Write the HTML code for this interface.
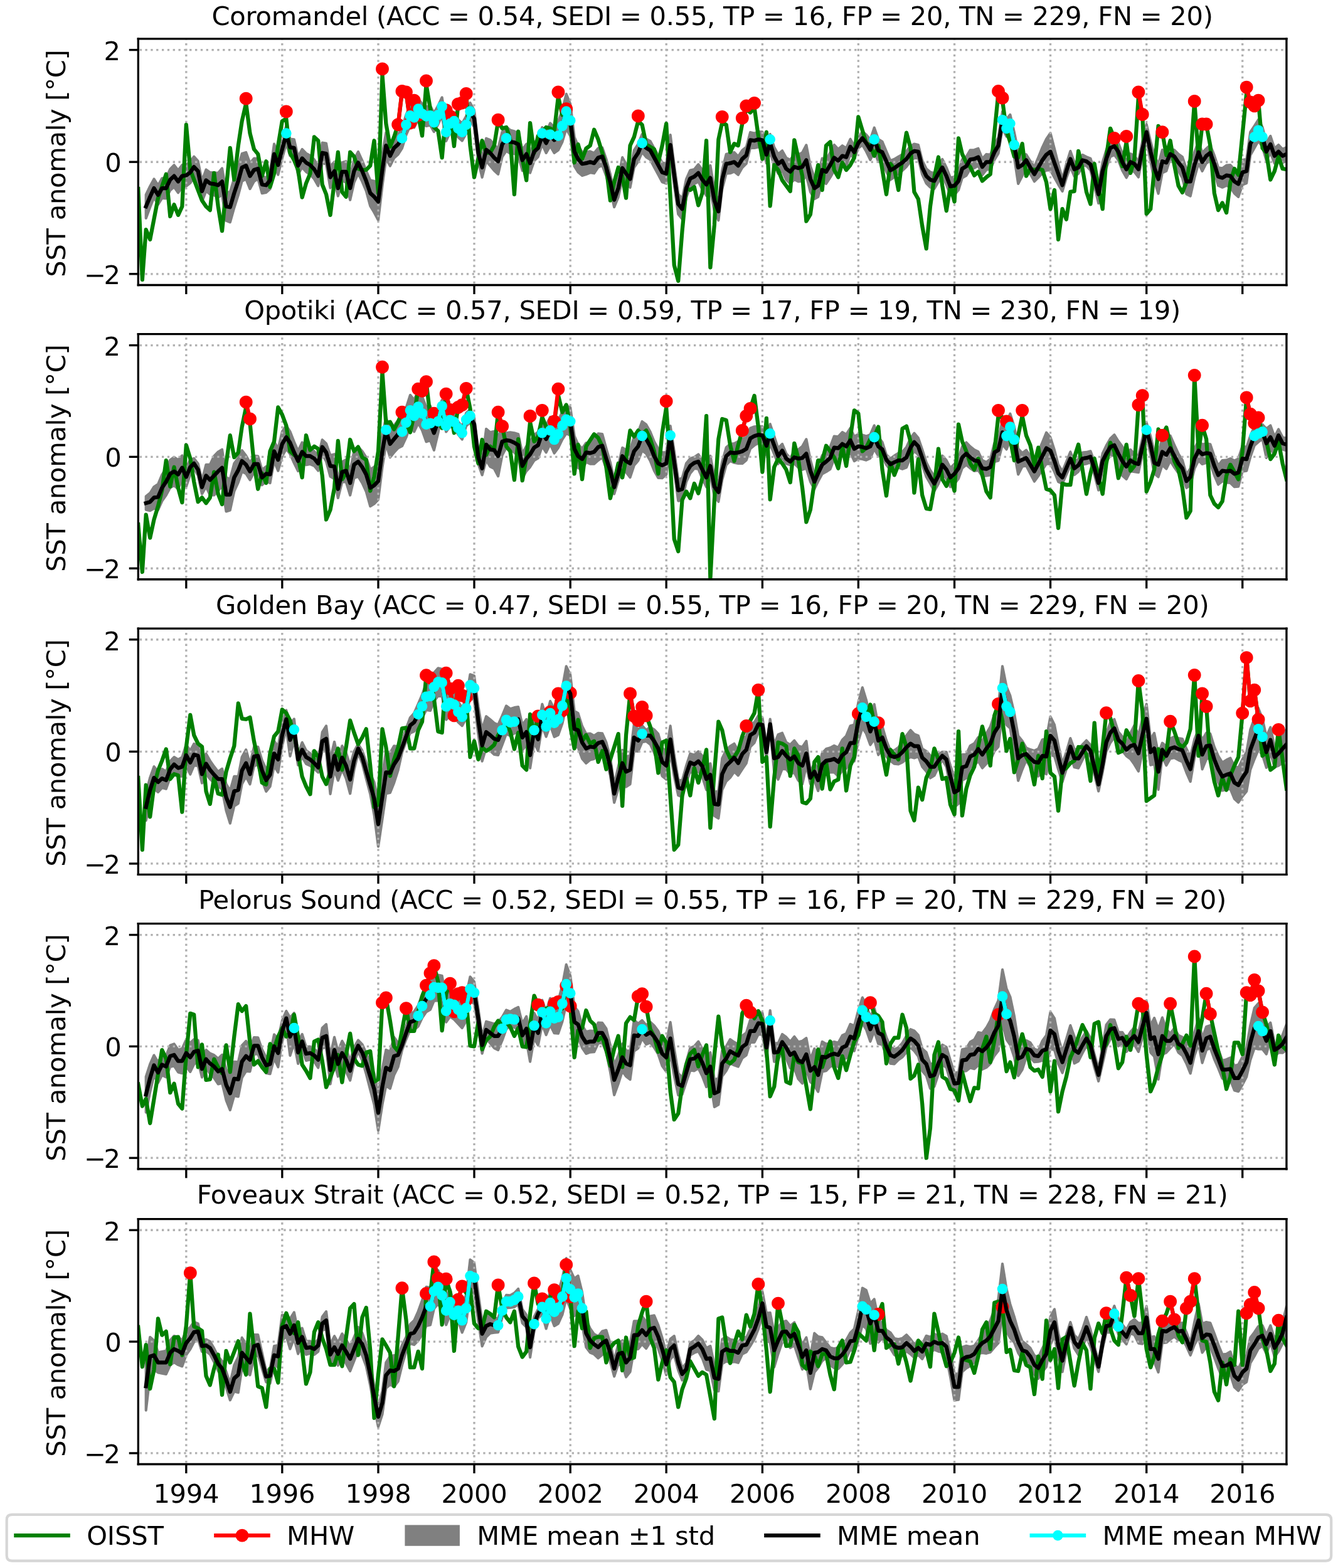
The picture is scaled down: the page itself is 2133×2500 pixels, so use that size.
<!DOCTYPE html>
<html><head><meta charset="utf-8"><title>SST anomaly</title>
<style>html,body{margin:0;padding:0;background:#fff;}svg{display:block;}</style></head>
<body>
<svg width="2133" height="2500" viewBox="0 0 511.92 600" version="1.1">
<defs>
<style type="text/css">*{stroke-linejoin: round; stroke-linecap: butt}</style>
</defs>
<g id="figure_1">
<g id="patch_1">
<path d="M 0 600
L 511.92 600
L 511.92 0
L 0 0
z
" style="fill: #ffffff"/>
</g>
<g id="axes_1">
<g id="patch_2">
<path d="M 52.88 109.07
L 492.22 109.07
L 492.22 14.86
L 52.88 14.86
z
" style="fill: #ffffff"/>
</g>
<g id="FillBetweenPolyCollection_1">
<defs>
<path id="m156c85ad35" d="M 55.85 -525.48
L 55.85 -516.48
L 57.41 -520.69
L 58.92 -524.44
L 60.48 -521.75
L 61.99 -524.19
L 63.55 -524.07
L 65.11 -527.21
L 66.61 -528.48
L 68.17 -526.26
L 69.68 -528.44
L 71.24 -528.76
L 72.8 -530.02
L 74.21 -532.2
L 75.77 -530.65
L 77.28 -522.85
L 78.84 -526.94
L 80.35 -525.66
L 81.9 -525.32
L 83.46 -524.48
L 84.97 -525.51
L 86.53 -515.56
L 88.04 -514.96
L 89.6 -520.49
L 91.16 -525.33
L 92.57 -530.64
L 94.13 -531.51
L 95.64 -527.72
L 97.19 -530.58
L 98.7 -531.59
L 100.26 -526.06
L 101.82 -526.36
L 103.33 -527.69
L 104.89 -537.19
L 106.4 -533.15
L 107.96 -539.38
L 109.52 -545.14
L 110.98 -540.4
L 112.53 -540.08
L 114.04 -533.24
L 115.6 -535.96
L 117.11 -534.24
L 118.67 -533.23
L 120.23 -531.51
L 121.74 -528.87
L 123.3 -537.65
L 124.81 -537.2
L 126.37 -528.11
L 127.93 -530.98
L 129.33 -524.98
L 130.89 -530.78
L 132.4 -530.28
L 133.96 -523.48
L 135.47 -530.17
L 137.03 -533.6
L 138.59 -530.49
L 140.1 -526.92
L 141.66 -521.18
L 143.16 -518.71
L 144.72 -515.77
L 146.28 -528.98
L 147.69 -539.38
L 149.25 -536.49
L 150.76 -539.52
L 152.32 -540.92
L 153.83 -543.26
L 155.39 -548.39
L 156.95 -551.89
L 158.45 -551.19
L 160.01 -554.46
L 161.52 -552.65
L 163.08 -551.78
L 164.64 -552.07
L 166.05 -549.57
L 167.61 -552.43
L 169.12 -555.76
L 170.68 -546.02
L 172.19 -549.31
L 173.74 -550.27
L 175.3 -547.5
L 176.81 -546.13
L 178.37 -548.95
L 179.88 -554.11
L 181.44 -551.34
L 183 -538.3
L 184.46 -532.13
L 186.02 -538.32
L 187.53 -536.58
L 189.08 -534.72
L 190.59 -533.32
L 192.15 -540.01
L 193.71 -542.26
L 195.22 -541.25
L 196.78 -541.17
L 198.29 -540.63
L 199.85 -534.72
L 201.41 -537.21
L 202.82 -533.86
L 204.37 -538.45
L 205.88 -540.01
L 207.44 -544.83
L 208.95 -541.46
L 210.51 -544.16
L 212.07 -541.48
L 213.58 -542.55
L 215.14 -545.71
L 216.65 -550.74
L 218.21 -548.01
L 219.76 -536.41
L 221.17 -534.14
L 222.73 -532.81
L 224.24 -533.26
L 225.8 -533.94
L 227.31 -533.69
L 228.87 -536
L 230.43 -536.68
L 231.94 -532.7
L 233.5 -527.31
L 235 -520.76
L 236.56 -524.55
L 238.12 -531.61
L 239.53 -529.93
L 241.09 -528.26
L 242.6 -535.9
L 244.16 -538.17
L 245.67 -541.84
L 247.23 -539.91
L 248.79 -538.91
L 250.29 -536.04
L 251.85 -533.18
L 253.36 -530.32
L 254.92 -529.78
L 256.48 -540.69
L 257.94 -529.25
L 259.5 -518.05
L 261.01 -516.18
L 262.57 -524.48
L 264.08 -528.57
L 265.63 -529.62
L 267.19 -530.54
L 268.7 -527.49
L 270.26 -525.14
L 271.77 -527.23
L 273.33 -519.24
L 274.89 -515.68
L 276.3 -527.67
L 277.86 -533.6
L 279.37 -533.69
L 280.92 -534.33
L 282.43 -533.11
L 283.99 -535.86
L 285.55 -537.44
L 287.06 -543.45
L 288.62 -543.39
L 290.13 -543.71
L 291.69 -543.32
L 293.25 -537.57
L 294.65 -541.85
L 296.21 -536.56
L 297.72 -533.61
L 299.28 -534.62
L 300.79 -531.27
L 302.35 -529.78
L 303.91 -531.32
L 305.42 -530.53
L 306.98 -530.68
L 308.49 -532.93
L 310.05 -526.55
L 311.6 -523.9
L 313.01 -524.67
L 314.57 -530.56
L 316.08 -529.69
L 317.64 -532.09
L 319.15 -534.72
L 320.71 -534.05
L 322.27 -536.42
L 323.78 -536.45
L 325.34 -540.92
L 326.84 -539.32
L 328.4 -543.32
L 329.96 -544.54
L 331.42 -542.03
L 332.98 -538.82
L 334.49 -542.15
L 336.05 -538.16
L 337.56 -537.67
L 339.12 -534.39
L 340.68 -531.22
L 342.18 -532.25
L 343.74 -533.63
L 345.25 -534.69
L 346.81 -536.22
L 348.37 -538.45
L 349.78 -539.51
L 351.34 -539.41
L 352.85 -533.23
L 354.41 -529.86
L 355.91 -528.35
L 357.47 -527.78
L 359.03 -530.49
L 360.54 -532.74
L 362.1 -529.39
L 363.61 -525.33
L 365.17 -525.48
L 366.73 -527.29
L 368.14 -531.91
L 369.7 -532.79
L 371.2 -535.3
L 372.76 -535.71
L 374.27 -536.58
L 375.83 -533.02
L 377.39 -535.05
L 378.9 -535.23
L 380.46 -538.83
L 381.97 -541.27
L 383.53 -550.94
L 385.09 -547.78
L 386.49 -549.29
L 388.05 -539.72
L 389.56 -529.7
L 391.12 -532.67
L 392.63 -536.57
L 394.19 -533.45
L 395.75 -530.56
L 397.26 -532.05
L 398.82 -533.78
L 400.33 -534.81
L 401.89 -534.91
L 403.44 -532.04
L 404.9 -529.42
L 406.46 -526.79
L 407.97 -531.83
L 409.53 -536.18
L 411.04 -532.53
L 412.6 -533.55
L 414.16 -536.68
L 415.67 -536.53
L 417.23 -534.79
L 418.73 -528.85
L 420.29 -522.21
L 421.85 -531.11
L 423.26 -535.81
L 424.82 -540.04
L 426.33 -540.77
L 427.89 -538.7
L 429.4 -534.77
L 430.96 -532
L 432.52 -534.87
L 434.02 -534.24
L 435.58 -532.21
L 437.09 -539.91
L 438.65 -546.45
L 440.21 -538.12
L 441.62 -531.2
L 443.18 -525.91
L 444.69 -533.85
L 446.25 -534.56
L 447.75 -539.33
L 449.31 -537.63
L 450.87 -534.52
L 452.38 -531.88
L 453.94 -525.74
L 455.45 -524.97
L 457.01 -531.97
L 458.57 -537.57
L 459.98 -534.53
L 461.54 -537.56
L 463.04 -538.51
L 464.6 -534.1
L 466.11 -528.98
L 467.67 -528.3
L 469.23 -529.02
L 470.74 -528.43
L 472.3 -525.97
L 473.81 -524.68
L 475.37 -529.29
L 476.93 -529.92
L 478.38 -540.6
L 479.94 -543.34
L 481.45 -546.08
L 483.01 -543.81
L 484.52 -538.51
L 486.08 -541.61
L 487.64 -537.47
L 489.15 -539.41
L 490.71 -537.77
L 492.22 -538.47
L 492.22 -543.62
L 492.22 -543.62
L 490.71 -542.92
L 489.15 -544.55
L 487.64 -543.22
L 486.08 -547.95
L 484.52 -545.45
L 483.01 -551.35
L 481.45 -554.22
L 479.94 -551.82
L 478.38 -549.43
L 476.93 -539.1
L 475.37 -538.8
L 473.81 -534.54
L 472.3 -535.12
L 470.74 -536.86
L 469.23 -536.74
L 467.67 -535.59
L 466.11 -535.84
L 464.6 -540.53
L 463.04 -544.51
L 461.54 -543.13
L 459.98 -541.49
L 458.57 -545.93
L 457.01 -541.72
L 455.45 -536.12
L 453.94 -535.34
L 452.38 -539.94
L 450.87 -541.04
L 449.31 -542.6
L 447.75 -542.76
L 446.25 -540.99
L 444.69 -542.64
L 443.18 -537.05
L 441.62 -540.63
L 440.21 -545.84
L 438.65 -552.45
L 437.09 -545.91
L 435.58 -538.21
L 434.02 -540.38
L 432.52 -541.16
L 430.96 -538.43
L 429.4 -541.26
L 427.89 -545.26
L 426.33 -547.39
L 424.82 -546.72
L 423.26 -542.55
L 421.85 -537.91
L 420.29 -529.07
L 418.73 -534.57
L 417.23 -539.36
L 415.67 -539.96
L 414.16 -540.75
L 412.6 -538.27
L 411.04 -537.89
L 409.53 -542.18
L 407.97 -537.19
L 406.46 -531.5
L 404.9 -537.27
L 403.44 -543.05
L 401.89 -549.05
L 400.33 -546.81
L 398.82 -543.64
L 397.26 -539.77
L 395.75 -536.13
L 394.19 -538.38
L 392.63 -540.86
L 391.12 -541.02
L 389.56 -542.13
L 388.05 -549.37
L 386.49 -556.14
L 385.09 -554.38
L 383.53 -557.29
L 381.97 -547.36
L 380.46 -544.66
L 378.9 -540.8
L 377.39 -540.97
L 375.83 -539.27
L 374.27 -543.18
L 372.76 -542.65
L 371.2 -542.59
L 369.7 -539.97
L 368.14 -538.98
L 366.73 -534.26
L 365.17 -532.34
L 363.61 -532.02
L 362.1 -535.9
L 360.54 -539.08
L 359.03 -536.66
L 357.47 -533.78
L 355.91 -534.14
L 354.41 -535.43
L 352.85 -538.59
L 351.34 -544.55
L 349.78 -544.91
L 348.37 -544.11
L 346.81 -542.14
L 345.25 -540.86
L 343.74 -540.06
L 342.18 -539.11
L 340.68 -538.5
L 339.12 -542.1
L 337.56 -545.82
L 336.05 -546.73
L 334.49 -551.15
L 332.98 -546.54
L 331.42 -548.46
L 329.96 -549.69
L 328.4 -547.18
L 326.84 -544.17
L 325.34 -546.78
L 323.78 -543.31
L 322.27 -544.27
L 320.71 -542.91
L 319.15 -544.57
L 317.64 -541.6
L 316.08 -538.86
L 314.57 -539.39
L 313.01 -533.15
L 311.6 -532.05
L 310.05 -536.41
L 308.49 -544.5
L 306.98 -541.61
L 305.42 -540.82
L 303.91 -540.97
L 302.35 -538.78
L 300.79 -539.62
L 299.28 -542.34
L 297.72 -541.02
L 296.21 -543.66
L 294.65 -548.64
L 293.25 -544.06
L 291.69 -549.51
L 290.13 -549.59
L 288.62 -548.97
L 287.06 -549.38
L 285.55 -543.72
L 283.99 -542.5
L 282.43 -540.11
L 280.92 -541.69
L 279.37 -541.4
L 277.86 -541.03
L 276.3 -534.82
L 274.89 -522.54
L 273.33 -527.38
L 271.77 -536.66
L 270.26 -533.61
L 268.7 -534.99
L 267.19 -537.08
L 265.63 -535.2
L 264.08 -534.85
L 262.57 -531.48
L 261.01 -523.9
L 259.5 -525.77
L 257.94 -536.97
L 256.48 -548.4
L 254.92 -537.37
L 253.36 -537.77
L 251.85 -540.51
L 250.29 -543.25
L 248.79 -545.98
L 247.23 -546.85
L 245.67 -548.65
L 244.16 -544.86
L 242.6 -542.46
L 241.09 -534.69
L 239.53 -537.22
L 238.12 -539.75
L 236.56 -531.41
L 235 -526.33
L 233.5 -533.31
L 231.94 -539.13
L 230.43 -543.54
L 228.87 -543.29
L 227.31 -541.4
L 225.8 -542.08
L 224.24 -541.83
L 222.73 -541.81
L 221.17 -544.22
L 219.76 -547.55
L 218.21 -560.22
L 216.65 -564.03
L 215.14 -557.85
L 213.58 -553.55
L 212.07 -551.34
L 210.51 -552.87
L 208.95 -549.03
L 207.44 -551.26
L 205.88 -546.75
L 204.37 -545.51
L 202.82 -541.23
L 201.41 -544.88
L 199.85 -542.71
L 198.29 -548.93
L 196.78 -549.79
L 195.22 -550.17
L 193.71 -551.5
L 192.15 -549.55
L 190.59 -543.17
L 189.08 -544.57
L 187.53 -546.44
L 186.02 -547.04
L 184.46 -539.7
L 183 -544.73
L 181.44 -557.82
L 179.88 -560.65
L 178.37 -555.54
L 176.81 -552.77
L 175.3 -554.2
L 173.74 -557.02
L 172.19 -556.12
L 170.68 -552.88
L 169.12 -562.74
L 167.61 -559.53
L 166.05 -556.79
L 164.64 -559.42
L 163.08 -559.25
L 161.52 -560.24
L 160.01 -562.17
L 158.45 -558.91
L 156.95 -559.61
L 155.39 -556.11
L 153.83 -550.97
L 152.32 -548.64
L 150.76 -547.24
L 149.25 -544.2
L 147.69 -549.24
L 146.28 -540.98
L 144.72 -529.92
L 143.16 -530.71
L 141.66 -531.04
L 140.1 -534.64
L 138.59 -538.53
L 137.03 -541.96
L 135.47 -538.85
L 133.96 -532.48
L 132.4 -538.28
L 130.89 -537.78
L 129.33 -530.98
L 127.93 -538.05
L 126.37 -536.25
L 124.81 -545.13
L 123.3 -545.37
L 121.74 -536.42
L 120.23 -538.91
L 118.67 -540.46
L 117.11 -541.31
L 115.6 -542.87
L 114.04 -539.99
L 112.53 -546.67
L 110.98 -546.83
L 109.52 -551.89
L 107.96 -546.45
L 106.4 -540.54
L 104.89 -544.9
L 103.33 -534.33
L 101.82 -531.93
L 100.26 -532.7
L 98.7 -539.3
L 97.19 -539.37
L 95.64 -537.57
L 94.13 -541.71
L 92.57 -541.18
L 91.16 -536.22
L 89.6 -531.73
L 88.04 -526.53
L 86.53 -526.39
L 84.97 -535.58
L 83.46 -533.81
L 81.9 -533.9
L 80.35 -534.02
L 78.84 -535.08
L 77.28 -530.78
L 75.77 -538.37
L 74.21 -540.09
L 72.8 -538.07
L 71.24 -536.99
L 69.68 -536.85
L 68.17 -534.83
L 66.61 -536.81
L 65.11 -535.28
L 63.55 -531.89
L 61.99 -531.76
L 60.48 -529.07
L 58.92 -531.51
L 57.41 -528.73
L 55.85 -525.48
z
" style="stroke: #808080"/>
</defs>
<g clip-path="url(#p270c9c0579)">
<use href="#m156c85ad35" x="0" y="600" style="fill: #808080; stroke: #808080"/>
</g>
</g>
<g id="matplotlib.axis_1">
<g id="xtick_1">
<g id="line2d_1">
<path d="M 71.24 109.07
L 71.24 14.86
" clip-path="url(#p270c9c0579)" style="fill: none; stroke-dasharray: 0.8,1.32; stroke-dashoffset: -0.55; stroke: #b0b0b0; stroke-width: 0.8"/>
</g>
<g id="line2d_2">
<defs>
<path id="m1504cfccaf" d="M 0 0
L 0 3.5
" style="stroke: #000000; stroke-width: 0.8"/>
</defs>
<g>
<use href="#m1504cfccaf" x="71.24" y="109.07" style="stroke: #000000; stroke-width: 0.8"/>
</g>
</g>
</g>
<g id="xtick_2">
<g id="line2d_3">
<path d="M 107.96 109.07
L 107.96 14.86
" clip-path="url(#p270c9c0579)" style="fill: none; stroke-dasharray: 0.8,1.32; stroke-dashoffset: -0.55; stroke: #b0b0b0; stroke-width: 0.8"/>
</g>
<g id="line2d_4">
<g>
<use href="#m1504cfccaf" x="107.96" y="109.07" style="stroke: #000000; stroke-width: 0.8"/>
</g>
</g>
</g>
<g id="xtick_3">
<g id="line2d_5">
<path d="M 144.72 109.07
L 144.72 14.86
" clip-path="url(#p270c9c0579)" style="fill: none; stroke-dasharray: 0.8,1.32; stroke-dashoffset: -0.55; stroke: #b0b0b0; stroke-width: 0.8"/>
</g>
<g id="line2d_6">
<g>
<use href="#m1504cfccaf" x="144.72" y="109.07" style="stroke: #000000; stroke-width: 0.8"/>
</g>
</g>
</g>
<g id="xtick_4">
<g id="line2d_7">
<path d="M 181.44 109.07
L 181.44 14.86
" clip-path="url(#p270c9c0579)" style="fill: none; stroke-dasharray: 0.8,1.32; stroke-dashoffset: -0.55; stroke: #b0b0b0; stroke-width: 0.8"/>
</g>
<g id="line2d_8">
<g>
<use href="#m1504cfccaf" x="181.44" y="109.07" style="stroke: #000000; stroke-width: 0.8"/>
</g>
</g>
</g>
<g id="xtick_5">
<g id="line2d_9">
<path d="M 218.21 109.07
L 218.21 14.86
" clip-path="url(#p270c9c0579)" style="fill: none; stroke-dasharray: 0.8,1.32; stroke-dashoffset: -0.55; stroke: #b0b0b0; stroke-width: 0.8"/>
</g>
<g id="line2d_10">
<g>
<use href="#m1504cfccaf" x="218.21" y="109.07" style="stroke: #000000; stroke-width: 0.8"/>
</g>
</g>
</g>
<g id="xtick_6">
<g id="line2d_11">
<path d="M 254.92 109.07
L 254.92 14.86
" clip-path="url(#p270c9c0579)" style="fill: none; stroke-dasharray: 0.8,1.32; stroke-dashoffset: -0.55; stroke: #b0b0b0; stroke-width: 0.8"/>
</g>
<g id="line2d_12">
<g>
<use href="#m1504cfccaf" x="254.92" y="109.07" style="stroke: #000000; stroke-width: 0.8"/>
</g>
</g>
</g>
<g id="xtick_7">
<g id="line2d_13">
<path d="M 291.69 109.07
L 291.69 14.86
" clip-path="url(#p270c9c0579)" style="fill: none; stroke-dasharray: 0.8,1.32; stroke-dashoffset: -0.55; stroke: #b0b0b0; stroke-width: 0.8"/>
</g>
<g id="line2d_14">
<g>
<use href="#m1504cfccaf" x="291.69" y="109.07" style="stroke: #000000; stroke-width: 0.8"/>
</g>
</g>
</g>
<g id="xtick_8">
<g id="line2d_15">
<path d="M 328.4 109.07
L 328.4 14.86
" clip-path="url(#p270c9c0579)" style="fill: none; stroke-dasharray: 0.8,1.32; stroke-dashoffset: -0.55; stroke: #b0b0b0; stroke-width: 0.8"/>
</g>
<g id="line2d_16">
<g>
<use href="#m1504cfccaf" x="328.4" y="109.07" style="stroke: #000000; stroke-width: 0.8"/>
</g>
</g>
</g>
<g id="xtick_9">
<g id="line2d_17">
<path d="M 365.17 109.07
L 365.17 14.86
" clip-path="url(#p270c9c0579)" style="fill: none; stroke-dasharray: 0.8,1.32; stroke-dashoffset: -0.55; stroke: #b0b0b0; stroke-width: 0.8"/>
</g>
<g id="line2d_18">
<g>
<use href="#m1504cfccaf" x="365.17" y="109.07" style="stroke: #000000; stroke-width: 0.8"/>
</g>
</g>
</g>
<g id="xtick_10">
<g id="line2d_19">
<path d="M 401.89 109.07
L 401.89 14.86
" clip-path="url(#p270c9c0579)" style="fill: none; stroke-dasharray: 0.8,1.32; stroke-dashoffset: -0.55; stroke: #b0b0b0; stroke-width: 0.8"/>
</g>
<g id="line2d_20">
<g>
<use href="#m1504cfccaf" x="401.89" y="109.07" style="stroke: #000000; stroke-width: 0.8"/>
</g>
</g>
</g>
<g id="xtick_11">
<g id="line2d_21">
<path d="M 438.65 109.07
L 438.65 14.86
" clip-path="url(#p270c9c0579)" style="fill: none; stroke-dasharray: 0.8,1.32; stroke-dashoffset: -0.55; stroke: #b0b0b0; stroke-width: 0.8"/>
</g>
<g id="line2d_22">
<g>
<use href="#m1504cfccaf" x="438.65" y="109.07" style="stroke: #000000; stroke-width: 0.8"/>
</g>
</g>
</g>
<g id="xtick_12">
<g id="line2d_23">
<path d="M 475.37 109.07
L 475.37 14.86
" clip-path="url(#p270c9c0579)" style="fill: none; stroke-dasharray: 0.8,1.32; stroke-dashoffset: -0.55; stroke: #b0b0b0; stroke-width: 0.8"/>
</g>
<g id="line2d_24">
<g>
<use href="#m1504cfccaf" x="475.37" y="109.07" style="stroke: #000000; stroke-width: 0.8"/>
</g>
</g>
</g>
</g>
<g id="matplotlib.axis_2">
<g id="ytick_1">
<g id="line2d_25">
<path d="M 52.88 104.83
L 492.22 104.83
" clip-path="url(#p270c9c0579)" style="fill: none; stroke-dasharray: 0.8,1.32; stroke-dashoffset: -0.55; stroke: #b0b0b0; stroke-width: 0.8"/>
</g>
<g id="line2d_26">
<defs>
<path id="m5d545ce8f8" d="M 0 0
L -3.5 0
" style="stroke: #000000; stroke-width: 0.8"/>
</defs>
<g>
<use href="#m5d545ce8f8" x="52.88" y="104.83" style="stroke: #000000; stroke-width: 0.8"/>
</g>
</g>
<g id="text_1">
<text style="font-size: 10px; font-family: 'DejaVu Sans', sans-serif; text-anchor: end; letter-spacing: -0.07px" x="46.03" y="108.63">−<tspan dx="-0.77">2</tspan></text>
</g>
</g>
<g id="ytick_2">
<g id="line2d_27">
<path d="M 52.88 61.97
L 492.22 61.97
" clip-path="url(#p270c9c0579)" style="fill: none; stroke-dasharray: 0.8,1.32; stroke-dashoffset: -0.55; stroke: #b0b0b0; stroke-width: 0.8"/>
</g>
<g id="line2d_28">
<g>
<use href="#m5d545ce8f8" x="52.88" y="61.97" style="stroke: #000000; stroke-width: 0.8"/>
</g>
</g>
<g id="text_2">
<text style="font-size: 10px; font-family: 'DejaVu Sans', sans-serif; text-anchor: end; letter-spacing: -0.07px" x="46.41" y="65.77">0</text>
</g>
</g>
<g id="ytick_3">
<g id="line2d_29">
<path d="M 52.88 19.1
L 492.22 19.1
" clip-path="url(#p270c9c0579)" style="fill: none; stroke-dasharray: 0.8,1.32; stroke-dashoffset: -0.55; stroke: #b0b0b0; stroke-width: 0.8"/>
</g>
<g id="line2d_30">
<g>
<use href="#m5d545ce8f8" x="52.88" y="19.1" style="stroke: #000000; stroke-width: 0.8"/>
</g>
</g>
<g id="text_3">
<text style="font-size: 10px; font-family: 'DejaVu Sans', sans-serif; text-anchor: end; letter-spacing: -0.07px" x="46.03" y="23.14">2</text>
</g>
</g>
<g id="text_4">
<text style="font-size: 10px; font-family: 'DejaVu Sans', sans-serif; text-anchor: middle; letter-spacing: -0.07px" x="25.06" y="62.54" transform="rotate(-90 25.06 62.54)">SST anomaly [°C]</text>
</g>
</g>
<g id="line2d_31">
<path d="M 52.88 72.26
L 54.44 107.03
L 55.85 87.89
L 57.41 91.63
L 60.48 75.76
L 63.55 66.66
L 65.11 82.76
L 66.61 78.32
L 68.17 82.29
L 69.68 79.02
L 71.24 47.75
L 72.8 65.02
L 77.28 76.69
L 78.84 79.02
L 80.35 80.42
L 81.9 66.19
L 83.46 79.02
L 84.97 88.36
L 88.04 56.62
L 89.6 68.76
L 91.16 55.69
L 92.57 46.35
L 94.13 39.58
L 95.64 51.02
L 97.19 57.09
L 98.7 58.95
L 100.26 67.36
L 101.82 61.75
L 103.33 71.56
L 104.89 66.42
L 106.4 55.69
L 107.96 46.35
L 109.52 45.42
L 110.98 58.49
L 112.53 61.29
L 114.04 65.02
L 115.6 75.52
L 117.11 70.16
L 118.67 66.42
L 120.23 52.42
L 121.74 53.82
L 123.3 70.62
L 124.81 74.36
L 126.37 82.29
L 129.33 58.25
L 130.89 73.42
L 132.4 75.29
L 133.96 58.25
L 135.47 59.89
L 137.03 64.56
L 138.59 65.02
L 140.1 65.02
L 141.66 63.39
L 143.16 53.82
L 144.72 73.89
L 146.28 28.62
L 147.69 47.29
L 149.25 56.15
L 150.76 52.42
L 152.32 47.66
L 153.83 35.15
L 155.39 35.62
L 156.95 46.35
L 158.45 38.42
L 160.01 44.02
L 161.52 51.95
L 163.08 32.35
L 164.64 41.68
L 166.05 48.69
L 167.61 50.09
L 169.12 60.35
L 170.68 42.62
L 172.19 44.02
L 173.74 55.92
L 175.3 39.82
L 176.81 39.35
L 178.37 35.85
L 179.88 55.69
L 181.44 67.82
L 184.46 53.82
L 186.02 58.49
L 187.53 58.49
L 189.08 55.69
L 190.59 46.35
L 192.15 49.15
L 193.71 48.69
L 195.22 53.35
L 196.78 74.36
L 198.29 50.32
L 199.85 60.82
L 201.41 68.99
L 202.82 47.05
L 204.37 58.49
L 205.88 51.95
L 207.44 50.55
L 208.95 48.69
L 210.51 49.15
L 212.07 50.09
L 213.58 37.02
L 215.14 44.02
L 216.65 41.68
L 218.21 46.35
L 219.76 62.22
L 221.17 55.22
L 222.73 60.82
L 224.24 56.85
L 225.8 55.69
L 227.31 49.62
L 228.87 53.35
L 230.43 58.49
L 231.94 64.09
L 233.5 76.69
L 235 69.69
L 236.56 64.09
L 238.12 67.36
L 239.53 75.76
L 241.09 55.69
L 242.6 52.42
L 244.16 46.35
L 245.67 47.75
L 247.23 55.22
L 250.29 57.09
L 251.85 62.22
L 253.36 55.69
L 254.92 47.29
L 257.94 101.43
L 259.5 107.5
L 261.01 88.36
L 262.57 72.02
L 264.08 72.72
L 265.63 71.56
L 267.19 78.56
L 268.7 73.89
L 270.26 53.82
L 271.77 102.36
L 273.33 86.03
L 274.89 53.35
L 276.3 46.82
L 277.86 47.75
L 279.37 58.25
L 280.92 54.99
L 282.43 55.69
L 283.99 47.29
L 285.55 41.68
L 287.06 43.08
L 288.62 41.22
L 290.13 51.95
L 291.69 60.82
L 293.25 50.55
L 294.65 78.79
L 296.21 63.15
L 297.72 65.02
L 299.28 68.99
L 302.35 73.19
L 303.91 53.59
L 306.98 67.36
L 308.49 84.63
L 310.05 82.06
L 311.6 70.62
L 313.01 63.15
L 314.57 72.72
L 316.08 55.69
L 317.64 54.29
L 319.15 65.02
L 320.71 67.82
L 322.27 62.22
L 323.78 65.02
L 325.34 63.15
L 326.84 60.35
L 328.4 44.72
L 331.42 54.75
L 332.98 55.69
L 334.49 59.65
L 336.05 55.69
L 339.12 74.36
L 340.68 62.69
L 342.18 64.56
L 343.74 72.72
L 345.25 60.35
L 346.81 50.79
L 348.37 56.62
L 349.78 73.42
L 351.34 76.22
L 352.85 86.49
L 354.41 95.13
L 355.91 79.02
L 357.47 67.82
L 359.03 60.12
L 360.54 71.09
L 362.1 80.66
L 363.61 71.09
L 365.17 77.16
L 366.73 52.89
L 368.14 58.95
L 369.7 62.22
L 371.2 63.86
L 372.76 67.12
L 374.27 65.72
L 375.83 69.22
L 377.39 67.82
L 378.9 66.66
L 381.97 35.62
L 383.53 38.42
L 385.09 50.09
L 386.49 54.29
L 388.05 59.89
L 389.56 60.35
L 391.12 54.99
L 392.63 67.36
L 394.19 64.56
L 395.75 65.02
L 397.26 64.56
L 398.82 65.02
L 400.33 69.69
L 401.89 79.96
L 403.44 72.72
L 404.9 91.63
L 406.46 79.96
L 407.97 83.93
L 409.53 73.42
L 411.04 73.19
L 412.6 57.79
L 414.16 64.56
L 415.67 73.42
L 417.23 78.09
L 418.73 62.69
L 420.29 72.02
L 421.85 79.96
L 423.26 60.35
L 424.82 49.15
L 426.33 52.89
L 427.89 58.95
L 429.4 63.62
L 430.96 54.29
L 432.52 66.19
L 434.02 60.82
L 435.58 37.02
L 437.09 43.55
L 438.65 81.82
L 440.21 79.96
L 443.18 48.22
L 444.69 50.55
L 446.25 59.42
L 447.75 53.82
L 449.31 63.15
L 450.87 71.09
L 452.38 73.66
L 453.94 69.69
L 455.45 60.82
L 457.01 38.88
L 458.57 60.35
L 459.98 47.75
L 461.54 47.75
L 463.04 55.69
L 464.6 73.89
L 466.11 80.42
L 467.67 77.62
L 469.23 81.36
L 470.74 69.69
L 472.3 64.56
L 473.81 66.89
L 476.93 35.62
L 478.38 39.12
L 479.94 40.52
L 481.45 38.42
L 483.01 56.62
L 484.52 58.49
L 486.08 68.76
L 487.64 65.49
L 489.15 59.89
L 490.71 64.56
L 492.22 64.79
L 492.22 64.79
" clip-path="url(#p270c9c0579)" style="fill: none; stroke: #008000; stroke-width: 1.5; stroke-linecap: square"/>
</g>
<g id="line2d_32">
<path d="M 152.32 47.66
L 153.83 34.92
L 155.39 35.24
L 156.95 47.05
L 158.45 38.42
L 160.01 44.02
M 170.68 42.15
L 172.19 44.49
M 175.3 39.82
L 176.81 39.35
L 178.37 35.85
M 283.99 45.19
L 285.55 40.52
M 381.97 34.92
L 383.53 37.48
M 435.58 35.24
L 437.09 43.79
M 459.98 47.52
L 461.54 47.52
M 476.93 33.38
L 478.38 39.12
L 479.94 40.52
L 481.45 38.42
L 481.45 38.42
" clip-path="url(#p270c9c0579)" style="fill: none; stroke: #ff0000; stroke-width: 1.5; stroke-linecap: square"/>
<defs>
<path id="m608ba95eef" d="M 0 2
C 0.53 2 1.04 1.79 1.41 1.41
C 1.79 1.04 2 0.53 2 0
C 2 -0.53 1.79 -1.04 1.41 -1.41
C 1.04 -1.79 0.53 -2 0 -2
C -0.53 -2 -1.04 -1.79 -1.41 -1.41
C -1.79 -1.04 -2 -0.53 -2 0
C -2 0.53 -1.79 1.04 -1.41 1.41
C -1.04 1.79 -0.53 2 0 2
z
" style="stroke: #ff0000"/>
</defs>
<g clip-path="url(#p270c9c0579)">
<use href="#m608ba95eef" x="94.13" y="37.72" style="fill: #ff0000; stroke: #ff0000"/>
<use href="#m608ba95eef" x="109.52" y="42.71" style="fill: #ff0000; stroke: #ff0000"/>
<use href="#m608ba95eef" x="146.28" y="26.38" style="fill: #ff0000; stroke: #ff0000"/>
<use href="#m608ba95eef" x="152.32" y="47.66" style="fill: #ff0000; stroke: #ff0000"/>
<use href="#m608ba95eef" x="153.83" y="34.92" style="fill: #ff0000; stroke: #ff0000"/>
<use href="#m608ba95eef" x="155.39" y="35.24" style="fill: #ff0000; stroke: #ff0000"/>
<use href="#m608ba95eef" x="156.95" y="47.05" style="fill: #ff0000; stroke: #ff0000"/>
<use href="#m608ba95eef" x="158.45" y="38.42" style="fill: #ff0000; stroke: #ff0000"/>
<use href="#m608ba95eef" x="160.01" y="44.02" style="fill: #ff0000; stroke: #ff0000"/>
<use href="#m608ba95eef" x="163.08" y="30.95" style="fill: #ff0000; stroke: #ff0000"/>
<use href="#m608ba95eef" x="170.68" y="42.15" style="fill: #ff0000; stroke: #ff0000"/>
<use href="#m608ba95eef" x="172.19" y="44.49" style="fill: #ff0000; stroke: #ff0000"/>
<use href="#m608ba95eef" x="175.3" y="39.82" style="fill: #ff0000; stroke: #ff0000"/>
<use href="#m608ba95eef" x="176.81" y="39.35" style="fill: #ff0000; stroke: #ff0000"/>
<use href="#m608ba95eef" x="178.37" y="35.85" style="fill: #ff0000; stroke: #ff0000"/>
<use href="#m608ba95eef" x="190.59" y="45.89" style="fill: #ff0000; stroke: #ff0000"/>
<use href="#m608ba95eef" x="213.58" y="35.24" style="fill: #ff0000; stroke: #ff0000"/>
<use href="#m608ba95eef" x="216.65" y="41.68" style="fill: #ff0000; stroke: #ff0000"/>
<use href="#m608ba95eef" x="244.16" y="44.39" style="fill: #ff0000; stroke: #ff0000"/>
<use href="#m608ba95eef" x="276.3" y="44.72" style="fill: #ff0000; stroke: #ff0000"/>
<use href="#m608ba95eef" x="283.99" y="45.19" style="fill: #ff0000; stroke: #ff0000"/>
<use href="#m608ba95eef" x="285.55" y="40.52" style="fill: #ff0000; stroke: #ff0000"/>
<use href="#m608ba95eef" x="288.62" y="39.44" style="fill: #ff0000; stroke: #ff0000"/>
<use href="#m608ba95eef" x="381.97" y="34.92" style="fill: #ff0000; stroke: #ff0000"/>
<use href="#m608ba95eef" x="383.53" y="37.48" style="fill: #ff0000; stroke: #ff0000"/>
<use href="#m608ba95eef" x="426.33" y="52.89" style="fill: #ff0000; stroke: #ff0000"/>
<use href="#m608ba95eef" x="430.96" y="52.19" style="fill: #ff0000; stroke: #ff0000"/>
<use href="#m608ba95eef" x="435.58" y="35.24" style="fill: #ff0000; stroke: #ff0000"/>
<use href="#m608ba95eef" x="437.09" y="43.79" style="fill: #ff0000; stroke: #ff0000"/>
<use href="#m608ba95eef" x="444.69" y="50.55" style="fill: #ff0000; stroke: #ff0000"/>
<use href="#m608ba95eef" x="457.01" y="38.74" style="fill: #ff0000; stroke: #ff0000"/>
<use href="#m608ba95eef" x="459.98" y="47.52" style="fill: #ff0000; stroke: #ff0000"/>
<use href="#m608ba95eef" x="461.54" y="47.52" style="fill: #ff0000; stroke: #ff0000"/>
<use href="#m608ba95eef" x="476.93" y="33.38" style="fill: #ff0000; stroke: #ff0000"/>
<use href="#m608ba95eef" x="478.38" y="39.12" style="fill: #ff0000; stroke: #ff0000"/>
<use href="#m608ba95eef" x="479.94" y="40.52" style="fill: #ff0000; stroke: #ff0000"/>
<use href="#m608ba95eef" x="481.45" y="38.42" style="fill: #ff0000; stroke: #ff0000"/>
</g>
</g>
<g id="line2d_33">
<path d="M 55.85 79.02
L 57.41 75.29
L 58.92 72.02
L 60.48 74.59
L 61.99 72.02
L 63.55 72.02
L 65.11 68.76
L 66.61 67.36
L 68.17 69.46
L 69.68 67.36
L 71.24 67.12
L 72.8 65.96
L 74.21 63.86
L 75.77 65.49
L 77.28 73.19
L 78.84 68.99
L 80.35 70.16
L 81.9 70.39
L 83.46 70.86
L 84.97 69.46
L 86.53 79.02
L 88.04 79.26
L 89.6 73.89
L 91.16 69.22
L 92.57 64.09
L 94.13 63.39
L 95.64 67.36
L 97.19 65.02
L 98.7 64.56
L 100.26 70.62
L 101.82 70.86
L 103.33 68.99
L 104.89 58.95
L 106.4 63.15
L 107.96 57.09
L 109.52 51.49
L 110.98 56.39
L 112.53 56.62
L 114.04 63.39
L 115.6 60.59
L 117.11 62.22
L 118.67 63.15
L 120.23 64.79
L 121.74 67.36
L 123.3 58.49
L 124.81 58.84
L 126.37 67.82
L 127.93 65.49
L 129.33 72.02
L 130.89 65.72
L 132.4 65.72
L 133.96 72.02
L 135.47 65.49
L 137.03 62.22
L 138.59 65.49
L 140.1 69.22
L 141.66 73.89
L 143.16 75.29
L 144.72 77.16
L 146.28 65.02
L 147.69 55.69
L 149.25 59.65
L 150.76 56.62
L 152.32 55.22
L 153.83 52.89
L 155.39 47.75
L 156.95 44.25
L 158.45 44.95
L 160.01 41.68
L 161.52 43.55
L 163.08 44.49
L 164.64 44.25
L 166.05 46.82
L 167.61 44.02
L 169.12 40.75
L 170.68 50.55
L 172.19 47.29
L 173.74 46.35
L 175.3 49.15
L 176.81 50.55
L 178.37 47.75
L 179.88 42.62
L 181.44 45.42
L 183 58.49
L 184.46 64.09
L 186.02 57.32
L 187.53 58.49
L 189.08 60.35
L 190.59 61.75
L 192.15 55.22
L 193.71 53.12
L 195.22 54.29
L 196.78 54.52
L 198.29 55.22
L 199.85 61.29
L 201.41 58.95
L 202.82 62.45
L 204.37 58.02
L 205.88 56.62
L 207.44 51.95
L 208.95 54.75
L 210.51 51.49
L 212.07 53.59
L 213.58 51.95
L 215.14 48.22
L 216.65 42.62
L 218.21 45.89
L 219.76 58.02
L 221.17 60.82
L 222.73 62.69
L 224.24 62.45
L 225.8 61.99
L 227.31 62.45
L 228.87 60.35
L 230.43 59.89
L 231.94 64.09
L 233.5 69.69
L 235 76.46
L 236.56 72.02
L 238.12 64.32
L 239.53 66.42
L 241.09 68.52
L 242.6 60.82
L 244.16 58.49
L 245.67 54.75
L 247.23 56.62
L 248.79 57.55
L 253.36 65.96
L 254.92 66.42
L 256.48 55.45
L 257.94 66.89
L 259.5 78.09
L 261.01 79.96
L 262.57 72.02
L 264.08 68.29
L 265.63 67.59
L 267.19 66.19
L 268.7 68.76
L 270.26 70.62
L 271.77 68.06
L 273.33 76.69
L 274.89 80.89
L 276.3 68.76
L 277.86 62.69
L 279.37 62.45
L 280.92 61.99
L 282.43 63.39
L 283.99 60.82
L 285.55 59.42
L 287.06 53.59
L 288.62 53.82
L 290.13 53.35
L 291.69 53.59
L 293.25 59.19
L 294.65 54.75
L 296.21 59.89
L 297.72 62.69
L 299.28 61.52
L 300.79 64.56
L 302.35 65.72
L 303.91 63.86
L 305.42 64.32
L 306.98 63.86
L 308.49 61.29
L 310.05 68.52
L 311.6 72.02
L 313.01 71.09
L 314.57 65.02
L 316.08 65.72
L 317.64 63.15
L 319.15 60.35
L 320.71 61.52
L 322.27 59.65
L 323.78 60.12
L 325.34 56.15
L 326.84 58.25
L 328.4 54.75
L 329.96 52.89
L 331.42 54.75
L 332.98 57.32
L 334.49 53.35
L 336.05 57.55
L 337.56 58.25
L 340.68 65.14
L 342.18 64.32
L 343.74 63.15
L 345.25 62.22
L 346.81 60.82
L 348.37 58.72
L 349.78 57.79
L 351.34 58.02
L 352.85 64.09
L 354.41 67.36
L 355.91 68.76
L 357.47 69.22
L 359.03 66.42
L 360.54 64.09
L 362.1 67.36
L 363.61 71.32
L 365.17 71.09
L 366.73 69.22
L 368.14 64.56
L 369.7 63.62
L 371.2 61.05
L 372.76 60.82
L 374.27 60.12
L 375.83 63.86
L 377.39 61.99
L 378.9 61.99
L 380.46 58.25
L 381.97 55.69
L 383.53 45.89
L 385.09 48.92
L 386.49 47.29
L 388.05 55.45
L 389.56 64.09
L 391.12 63.15
L 392.63 61.29
L 394.19 64.09
L 395.75 66.66
L 398.82 61.29
L 400.33 59.19
L 401.89 58.02
L 406.46 70.86
L 407.97 65.49
L 409.53 60.82
L 411.04 64.79
L 412.6 64.09
L 414.16 61.29
L 415.67 61.75
L 417.23 62.92
L 418.73 68.29
L 420.29 74.36
L 421.85 65.49
L 423.26 60.82
L 424.82 56.62
L 426.33 55.92
L 427.89 58.02
L 429.4 61.99
L 430.96 64.79
L 432.52 61.99
L 434.02 62.69
L 435.58 64.79
L 437.09 57.09
L 438.65 50.55
L 440.21 58.02
L 441.62 64.09
L 443.18 68.52
L 444.69 61.75
L 446.25 62.22
L 447.75 58.95
L 449.31 59.89
L 450.87 62.22
L 452.38 64.09
L 453.94 69.46
L 455.45 69.46
L 457.01 63.15
L 458.57 58.25
L 459.98 61.99
L 461.54 59.65
L 463.04 58.49
L 464.6 62.69
L 466.11 67.59
L 467.67 68.06
L 469.23 67.12
L 470.74 67.36
L 472.3 69.46
L 473.81 70.39
L 475.37 65.96
L 476.93 65.49
L 478.38 54.99
L 481.45 49.85
L 483.01 52.42
L 484.52 58.02
L 486.08 55.22
L 487.64 59.65
L 489.15 58.02
L 490.71 59.65
L 492.22 58.95
L 492.22 58.95
" clip-path="url(#p270c9c0579)" style="fill: none; stroke: #000000; stroke-width: 1.5; stroke-linecap: square"/>
</g>
<g id="line2d_34">
<path d="M 153.83 52.89
L 155.39 47.75
L 156.95 44.25
L 158.45 44.95
L 160.01 41.68
L 161.52 43.55
L 163.08 44.49
L 164.64 44.25
L 166.05 46.82
L 167.61 44.02
L 169.12 40.75
L 170.68 50.55
L 172.19 47.29
L 173.74 46.35
L 175.3 49.15
L 176.81 50.55
L 178.37 47.75
L 179.88 42.62
M 213.58 51.95
L 215.14 48.22
L 216.65 42.62
L 218.21 46.12
M 383.53 45.89
L 385.09 49.15
L 386.49 47.29
L 388.05 55.45
M 479.94 52.42
L 481.45 49.85
L 483.01 52.42
L 483.01 52.42
" clip-path="url(#p270c9c0579)" style="fill: none; stroke: #00ffff; stroke-width: 1.5; stroke-linecap: square"/>
<defs>
<path id="md41d3c3caa" d="M 0 1.5
C 0.4 1.5 0.78 1.34 1.06 1.06
C 1.34 0.78 1.5 0.4 1.5 0
C 1.5 -0.4 1.34 -0.78 1.06 -1.06
C 0.78 -1.34 0.4 -1.5 0 -1.5
C -0.4 -1.5 -0.78 -1.34 -1.06 -1.06
C -1.34 -0.78 -1.5 -0.4 -1.5 0
C -1.5 0.4 -1.34 0.78 -1.06 1.06
C -0.78 1.34 -0.4 1.5 0 1.5
z
" style="stroke: #00ffff"/>
</defs>
<g clip-path="url(#p270c9c0579)">
<use href="#md41d3c3caa" x="109.52" y="51.02" style="fill: #00ffff; stroke: #00ffff"/>
<use href="#md41d3c3caa" x="153.83" y="52.89" style="fill: #00ffff; stroke: #00ffff"/>
<use href="#md41d3c3caa" x="155.39" y="47.75" style="fill: #00ffff; stroke: #00ffff"/>
<use href="#md41d3c3caa" x="156.95" y="44.25" style="fill: #00ffff; stroke: #00ffff"/>
<use href="#md41d3c3caa" x="158.45" y="44.95" style="fill: #00ffff; stroke: #00ffff"/>
<use href="#md41d3c3caa" x="160.01" y="41.68" style="fill: #00ffff; stroke: #00ffff"/>
<use href="#md41d3c3caa" x="161.52" y="43.55" style="fill: #00ffff; stroke: #00ffff"/>
<use href="#md41d3c3caa" x="163.08" y="44.49" style="fill: #00ffff; stroke: #00ffff"/>
<use href="#md41d3c3caa" x="164.64" y="44.25" style="fill: #00ffff; stroke: #00ffff"/>
<use href="#md41d3c3caa" x="166.05" y="46.82" style="fill: #00ffff; stroke: #00ffff"/>
<use href="#md41d3c3caa" x="167.61" y="44.02" style="fill: #00ffff; stroke: #00ffff"/>
<use href="#md41d3c3caa" x="169.12" y="40.75" style="fill: #00ffff; stroke: #00ffff"/>
<use href="#md41d3c3caa" x="170.68" y="50.55" style="fill: #00ffff; stroke: #00ffff"/>
<use href="#md41d3c3caa" x="172.19" y="47.29" style="fill: #00ffff; stroke: #00ffff"/>
<use href="#md41d3c3caa" x="173.74" y="46.35" style="fill: #00ffff; stroke: #00ffff"/>
<use href="#md41d3c3caa" x="175.3" y="49.15" style="fill: #00ffff; stroke: #00ffff"/>
<use href="#md41d3c3caa" x="176.81" y="50.55" style="fill: #00ffff; stroke: #00ffff"/>
<use href="#md41d3c3caa" x="178.37" y="47.75" style="fill: #00ffff; stroke: #00ffff"/>
<use href="#md41d3c3caa" x="179.88" y="42.62" style="fill: #00ffff; stroke: #00ffff"/>
<use href="#md41d3c3caa" x="193.71" y="52.89" style="fill: #00ffff; stroke: #00ffff"/>
<use href="#md41d3c3caa" x="207.44" y="51.02" style="fill: #00ffff; stroke: #00ffff"/>
<use href="#md41d3c3caa" x="210.51" y="51.49" style="fill: #00ffff; stroke: #00ffff"/>
<use href="#md41d3c3caa" x="213.58" y="51.95" style="fill: #00ffff; stroke: #00ffff"/>
<use href="#md41d3c3caa" x="215.14" y="48.22" style="fill: #00ffff; stroke: #00ffff"/>
<use href="#md41d3c3caa" x="216.65" y="42.62" style="fill: #00ffff; stroke: #00ffff"/>
<use href="#md41d3c3caa" x="218.21" y="46.12" style="fill: #00ffff; stroke: #00ffff"/>
<use href="#md41d3c3caa" x="245.67" y="54.75" style="fill: #00ffff; stroke: #00ffff"/>
<use href="#md41d3c3caa" x="294.65" y="53.35" style="fill: #00ffff; stroke: #00ffff"/>
<use href="#md41d3c3caa" x="334.49" y="53.35" style="fill: #00ffff; stroke: #00ffff"/>
<use href="#md41d3c3caa" x="383.53" y="45.89" style="fill: #00ffff; stroke: #00ffff"/>
<use href="#md41d3c3caa" x="385.09" y="49.15" style="fill: #00ffff; stroke: #00ffff"/>
<use href="#md41d3c3caa" x="386.49" y="47.29" style="fill: #00ffff; stroke: #00ffff"/>
<use href="#md41d3c3caa" x="388.05" y="55.45" style="fill: #00ffff; stroke: #00ffff"/>
<use href="#md41d3c3caa" x="479.94" y="52.42" style="fill: #00ffff; stroke: #00ffff"/>
<use href="#md41d3c3caa" x="481.45" y="49.85" style="fill: #00ffff; stroke: #00ffff"/>
<use href="#md41d3c3caa" x="483.01" y="52.42" style="fill: #00ffff; stroke: #00ffff"/>
</g>
</g>
<g id="patch_3">
<path d="M 52.88 109.07
L 52.88 14.86
" style="fill: none; stroke: #000000; stroke-width: 0.8; stroke-linejoin: miter; stroke-linecap: square"/>
</g>
<g id="patch_4">
<path d="M 492.22 109.07
L 492.22 14.86
" style="fill: none; stroke: #000000; stroke-width: 0.8; stroke-linejoin: miter; stroke-linecap: square"/>
</g>
<g id="patch_5">
<path d="M 52.88 109.07
L 492.22 109.07
" style="fill: none; stroke: #000000; stroke-width: 0.8; stroke-linejoin: miter; stroke-linecap: square"/>
</g>
<g id="patch_6">
<path d="M 52.88 14.86
L 492.22 14.86
" style="fill: none; stroke: #000000; stroke-width: 0.8; stroke-linejoin: miter; stroke-linecap: square"/>
</g>
<g id="text_5">
<text style="font-size: 10px; font-family: 'DejaVu Sans', sans-serif; text-anchor: middle; letter-spacing: -0.07px" x="272.55" y="9.6">Coromandel (ACC = 0.54, SEDI = 0.55, TP = 16, FP = 20, TN = 229, FN = 20)</text>
</g>
</g>
<g id="axes_2">
<g id="patch_7">
<path d="M 52.88 221.69
L 492.22 221.69
L 492.22 127.84
L 52.88 127.84
z
" style="fill: #ffffff"/>
</g>
<g id="FillBetweenPolyCollection_2">
<defs>
<path id="mcef047c84b" d="M 55.85 -410.05
L 55.85 -404.93
L 57.41 -404.61
L 58.92 -405.46
L 60.48 -404.91
L 61.99 -408.29
L 63.55 -410.49
L 65.11 -413.4
L 66.61 -414.2
L 68.17 -412.91
L 69.68 -416.38
L 71.24 -413.79
L 72.8 -418.43
L 74.21 -420.74
L 75.77 -418.08
L 77.28 -411
L 78.84 -413.79
L 80.35 -410.52
L 81.9 -410.52
L 83.46 -412.16
L 84.97 -414.05
L 86.53 -404.28
L 88.04 -404.78
L 89.6 -411.96
L 91.16 -415.4
L 92.57 -419.54
L 94.13 -418.78
L 95.64 -416.34
L 97.19 -419.27
L 98.7 -419.39
L 100.26 -414.39
L 101.82 -415.92
L 103.33 -415.2
L 104.89 -423.59
L 106.4 -419.84
L 107.96 -425.43
L 109.52 -428.21
L 110.98 -426.32
L 112.53 -422.8
L 114.04 -419.75
L 115.6 -423.46
L 117.11 -422.12
L 118.67 -422.4
L 120.23 -421.75
L 121.74 -419.88
L 123.3 -426.19
L 124.81 -423.44
L 126.37 -417.67
L 127.93 -416.8
L 129.33 -409.44
L 130.89 -415.55
L 132.4 -415.59
L 133.96 -410.5
L 135.47 -417.03
L 137.03 -417.72
L 138.59 -415.15
L 140.1 -411.88
L 141.66 -406.28
L 143.16 -407.21
L 144.72 -408.85
L 146.28 -421.24
L 147.69 -430.14
L 149.25 -425
L 150.76 -426.87
L 152.32 -428.55
L 153.83 -429.3
L 155.39 -432.61
L 156.95 -437.09
L 158.45 -434.81
L 160.01 -438.12
L 161.52 -435.37
L 163.08 -430.98
L 164.64 -431.45
L 166.05 -427.71
L 167.61 -434.28
L 169.12 -442.25
L 170.68 -434.76
L 172.19 -436.84
L 173.74 -436.12
L 175.3 -433.76
L 176.81 -431.87
L 178.37 -436.99
L 179.88 -438.36
L 181.44 -435.08
L 183 -422.45
L 184.46 -418.23
L 186.02 -423.92
L 187.53 -421.48
L 189.08 -420.68
L 190.59 -417.78
L 192.15 -425.83
L 193.71 -428.75
L 195.22 -428.04
L 196.78 -426.86
L 198.29 -425.44
L 199.85 -417.03
L 201.41 -419.76
L 202.82 -421.32
L 204.37 -423.82
L 205.88 -424.68
L 207.44 -429.28
L 208.95 -426.87
L 210.51 -430.1
L 212.07 -426.57
L 213.58 -428.63
L 215.14 -431.86
L 216.65 -434.16
L 218.21 -433.43
L 219.76 -423.35
L 221.17 -420.98
L 222.73 -420.24
L 224.24 -423.23
L 225.8 -422.5
L 227.31 -422.47
L 228.87 -423.84
L 230.43 -424.94
L 231.94 -420.68
L 233.5 -416.66
L 235 -411
L 236.56 -416.04
L 238.12 -422.26
L 239.53 -419.32
L 241.09 -417.32
L 242.6 -421.92
L 244.16 -423.72
L 245.67 -427.61
L 247.23 -426.44
L 248.79 -423.64
L 250.29 -419.91
L 251.85 -417.11
L 253.36 -417.05
L 254.92 -418.39
L 256.48 -429.77
L 257.94 -419.75
L 259.5 -408.34
L 261.01 -408.59
L 262.57 -415.6
L 264.08 -418.88
L 265.63 -420.76
L 267.19 -420.58
L 268.7 -416.91
L 270.26 -413.66
L 271.77 -417.88
L 273.33 -410.06
L 274.89 -408.06
L 276.3 -416.37
L 277.86 -422.12
L 279.37 -423.66
L 280.92 -422.93
L 282.43 -422.66
L 283.99 -422.63
L 285.55 -423.94
L 287.06 -428.28
L 288.62 -429.59
L 290.13 -430.43
L 291.69 -429.98
L 293.25 -425.8
L 294.65 -430.02
L 296.21 -426.25
L 297.72 -422.47
L 299.28 -425
L 300.79 -422.6
L 302.35 -422.08
L 303.91 -422.64
L 305.42 -421.11
L 306.98 -420.28
L 308.49 -420.84
L 310.05 -415.7
L 311.6 -412.88
L 313.01 -415.78
L 314.57 -418.67
L 316.08 -419.46
L 317.64 -420.49
L 319.15 -424.39
L 320.71 -424.08
L 322.27 -425.64
L 323.78 -424.64
L 325.34 -426.9
L 326.84 -423.56
L 328.4 -424.54
L 329.96 -424.35
L 331.42 -423.93
L 332.98 -424.67
L 334.49 -428.21
L 336.05 -425.56
L 337.56 -425.25
L 339.12 -422.14
L 340.68 -420.1
L 342.18 -420.64
L 343.74 -421.05
L 345.25 -420.52
L 346.81 -421.15
L 348.37 -425.1
L 349.78 -427.41
L 351.34 -425.99
L 352.85 -422
L 354.41 -417.55
L 355.91 -414.96
L 357.47 -412.11
L 359.03 -414.86
L 360.54 -418.78
L 362.1 -416.8
L 363.61 -413.66
L 365.17 -414.9
L 366.73 -416.84
L 368.14 -420.88
L 369.7 -422.12
L 371.2 -420.83
L 372.76 -419.77
L 374.27 -420.04
L 375.83 -417.73
L 377.39 -418
L 378.9 -418.2
L 380.46 -423.3
L 381.97 -423.74
L 383.53 -429.97
L 385.09 -428.04
L 386.49 -431.61
L 388.05 -426.78
L 389.56 -418.45
L 391.12 -421.5
L 392.63 -421.77
L 394.19 -418.78
L 395.75 -415.78
L 397.26 -417.87
L 398.82 -420.19
L 400.33 -422.52
L 401.89 -422.49
L 403.44 -419.43
L 404.9 -415.67
L 406.46 -414.94
L 407.97 -418.34
L 409.53 -421.96
L 411.04 -418.32
L 412.6 -419.57
L 414.16 -422.22
L 415.67 -422.54
L 417.23 -423.09
L 418.73 -418.34
L 420.29 -412.42
L 421.85 -420.68
L 423.26 -423.33
L 424.82 -425.76
L 426.33 -425.68
L 427.89 -421.63
L 429.4 -418.04
L 430.96 -416.65
L 432.52 -419.7
L 434.02 -419.48
L 435.58 -419.22
L 437.09 -426.21
L 438.65 -432.72
L 440.21 -426.25
L 441.62 -418.84
L 443.18 -417.5
L 444.69 -422.08
L 446.25 -420.59
L 447.75 -423.69
L 449.31 -421.19
L 450.87 -418.96
L 452.38 -417.66
L 453.94 -413.33
L 455.45 -414.32
L 457.01 -420.68
L 458.57 -423.77
L 459.98 -422.42
L 461.54 -422.94
L 463.04 -422.76
L 464.6 -418.1
L 466.11 -414.6
L 467.67 -415.89
L 469.23 -415.31
L 470.74 -415.21
L 472.3 -413.7
L 473.81 -413.82
L 475.37 -419.62
L 476.93 -419.81
L 478.38 -425.14
L 479.94 -429.53
L 481.45 -430.89
L 483.01 -432.02
L 484.52 -424.81
L 486.08 -428.21
L 487.64 -426.01
L 489.15 -431.05
L 490.71 -428.01
L 492.22 -427.55
L 492.22 -432.24
L 492.22 -432.24
L 490.71 -432.71
L 489.15 -435.74
L 487.64 -432.84
L 486.08 -437.17
L 484.52 -435.91
L 483.01 -437.57
L 481.45 -437.29
L 479.94 -436.79
L 478.38 -433.25
L 476.93 -428.77
L 475.37 -429.43
L 473.81 -424.49
L 472.3 -423.68
L 470.74 -424.51
L 469.23 -423.93
L 467.67 -423.83
L 466.11 -421.85
L 464.6 -425.35
L 463.04 -430.02
L 461.54 -430.31
L 459.98 -429.89
L 458.57 -431.35
L 457.01 -428.37
L 455.45 -420.72
L 453.94 -418.45
L 452.38 -423.92
L 450.87 -426.36
L 449.31 -429.73
L 447.75 -433.29
L 446.25 -431.26
L 444.69 -432.11
L 443.18 -426.89
L 441.62 -426.95
L 440.21 -433.07
L 438.65 -438.27
L 437.09 -432.18
L 435.58 -425.63
L 434.02 -426.31
L 432.52 -427.95
L 430.96 -426.33
L 429.4 -429.14
L 427.89 -431.16
L 426.33 -433.64
L 424.82 -432.16
L 423.26 -429.45
L 421.85 -426.51
L 420.29 -417.96
L 418.73 -423.25
L 417.23 -427.36
L 415.67 -426.98
L 414.16 -426.83
L 412.6 -424.35
L 411.04 -423.27
L 409.53 -427.09
L 407.97 -423.25
L 406.46 -419.64
L 404.9 -422.18
L 403.44 -427.75
L 401.89 -432.63
L 400.33 -434.47
L 398.82 -430.72
L 397.26 -426.98
L 395.75 -423.47
L 394.19 -425.61
L 392.63 -427.75
L 391.12 -426.62
L 389.56 -428.27
L 388.05 -436.74
L 386.49 -441.71
L 385.09 -438.28
L 383.53 -439.15
L 381.97 -431.85
L 380.46 -430.42
L 378.9 -424.32
L 377.39 -423.12
L 375.83 -423.85
L 374.27 -427.15
L 372.76 -427.88
L 371.2 -429.15
L 369.7 -430.66
L 368.14 -429.1
L 366.73 -424.74
L 365.17 -422.48
L 363.61 -420.92
L 362.1 -423.85
L 360.54 -425.61
L 359.03 -421.12
L 357.47 -417.8
L 355.91 -420.08
L 354.41 -423.1
L 352.85 -427.98
L 351.34 -432.39
L 349.78 -434.24
L 348.37 -432.35
L 346.81 -428.83
L 345.25 -427.13
L 343.74 -426.6
L 342.18 -425.61
L 340.68 -424.51
L 339.12 -425.98
L 337.56 -430.8
L 336.05 -432.82
L 334.49 -437.17
L 332.98 -433.72
L 331.42 -433.06
L 329.96 -433.57
L 328.4 -433.84
L 326.84 -432.95
L 325.34 -436.15
L 323.78 -433.74
L 322.27 -434.61
L 320.71 -432.9
L 319.15 -433.06
L 317.64 -429.03
L 316.08 -427.25
L 314.57 -425.71
L 313.01 -422.07
L 311.6 -418.43
L 310.05 -424.02
L 308.49 -431.94
L 306.98 -429.24
L 305.42 -427.94
L 303.91 -427.34
L 302.35 -424.64
L 300.79 -426.45
L 299.28 -430.12
L 297.72 -428.45
L 296.21 -433.07
L 294.65 -437.7
L 293.25 -433.05
L 291.69 -436.81
L 290.13 -436.83
L 288.62 -436.73
L 287.06 -436.17
L 285.55 -432.58
L 283.99 -432.02
L 282.43 -431.06
L 280.92 -430.32
L 279.37 -430.06
L 277.86 -428.8
L 276.3 -423.34
L 274.89 -415.32
L 273.33 -417.52
L 271.77 -425.57
L 270.26 -420.92
L 268.7 -423.74
L 267.19 -426.13
L 265.63 -425.03
L 264.08 -424.57
L 262.57 -422.71
L 261.01 -417.12
L 259.5 -416.44
L 257.94 -427.43
L 256.48 -437.02
L 254.92 -426.93
L 253.36 -426.87
L 251.85 -428.21
L 250.29 -431.01
L 248.79 -434.74
L 247.23 -437.54
L 245.67 -438.71
L 244.16 -434.67
L 242.6 -432.73
L 241.09 -427.99
L 239.53 -427.86
L 238.12 -428.66
L 236.56 -421.8
L 235 -416.12
L 233.5 -423.06
L 231.94 -428.37
L 230.43 -433.91
L 228.87 -434.08
L 227.31 -431.72
L 225.8 -430.75
L 224.24 -430.49
L 222.73 -428.35
L 221.17 -429.94
L 219.76 -433.17
L 218.21 -444.1
L 216.65 -444.76
L 215.14 -442.39
L 213.58 -439.09
L 212.07 -436.95
L 210.51 -440.42
L 208.95 -437.11
L 207.44 -439.38
L 205.88 -434.64
L 204.37 -433.63
L 202.82 -431
L 201.41 -429.29
L 199.85 -426.42
L 198.29 -433.87
L 196.78 -434.33
L 195.22 -434.55
L 193.71 -434.3
L 192.15 -436.29
L 190.59 -433.14
L 189.08 -434.91
L 187.53 -434.57
L 186.02 -435.87
L 184.46 -423.35
L 183 -427.53
L 181.44 -440.11
L 179.88 -443.36
L 178.37 -441.94
L 176.81 -436.78
L 175.3 -438.63
L 173.74 -440.94
L 172.19 -441.62
L 170.68 -439.5
L 169.12 -446.94
L 167.61 -443.24
L 166.05 -440.94
L 164.64 -444.68
L 163.08 -444.21
L 161.52 -448.22
L 160.01 -450.6
L 158.45 -446.92
L 156.95 -448.83
L 155.39 -443.98
L 153.83 -440.29
L 152.32 -439.17
L 150.76 -437.11
L 149.25 -435.25
L 147.69 -440.38
L 146.28 -433.41
L 144.72 -422.93
L 143.16 -421.3
L 141.66 -420.37
L 140.1 -425.03
L 138.59 -427.36
L 137.03 -428.99
L 135.47 -427.36
L 133.96 -419.88
L 132.4 -424.13
L 130.89 -423.23
L 129.33 -416.27
L 127.93 -426.19
L 126.37 -425.78
L 124.81 -430.27
L 123.3 -431.73
L 121.74 -425.43
L 120.23 -427.3
L 118.67 -428.52
L 117.11 -428.8
L 115.6 -430.72
L 114.04 -427.43
L 112.53 -430.91
L 110.98 -434.86
L 109.52 -437.17
L 107.96 -434.82
L 106.4 -428.27
L 104.89 -431.06
L 103.33 -421.71
L 101.82 -421.46
L 100.26 -420.19
L 98.7 -425.45
L 97.19 -425.58
L 95.64 -422.91
L 94.13 -425.61
L 92.57 -427.65
L 91.16 -424.79
L 89.6 -422.63
L 88.04 -416.73
L 86.53 -417.23
L 84.97 -428
L 83.46 -427.09
L 81.9 -425.46
L 80.35 -422.19
L 78.84 -422.19
L 77.28 -416.12
L 75.77 -422.56
L 74.21 -424.58
L 72.8 -424.09
L 71.24 -421.26
L 69.68 -425.67
L 68.17 -424.01
L 66.61 -425.04
L 65.11 -423.98
L 63.55 -420.82
L 61.99 -418.36
L 60.48 -414.73
L 58.92 -413.71
L 57.41 -411.3
L 55.85 -410.05
z
" style="stroke: #808080"/>
</defs>
<g clip-path="url(#p856a4b47ae)">
<use href="#mcef047c84b" x="0" y="600" style="fill: #808080; stroke: #808080"/>
</g>
</g>
<g id="matplotlib.axis_3">
<g id="xtick_13">
<g id="line2d_35">
<path d="M 71.24 221.69
L 71.24 127.84
" clip-path="url(#p856a4b47ae)" style="fill: none; stroke-dasharray: 0.8,1.32; stroke-dashoffset: -0.55; stroke: #b0b0b0; stroke-width: 0.8"/>
</g>
<g id="line2d_36">
<g>
<use href="#m1504cfccaf" x="71.24" y="221.69" style="stroke: #000000; stroke-width: 0.8"/>
</g>
</g>
</g>
<g id="xtick_14">
<g id="line2d_37">
<path d="M 107.96 221.69
L 107.96 127.84
" clip-path="url(#p856a4b47ae)" style="fill: none; stroke-dasharray: 0.8,1.32; stroke-dashoffset: -0.55; stroke: #b0b0b0; stroke-width: 0.8"/>
</g>
<g id="line2d_38">
<g>
<use href="#m1504cfccaf" x="107.96" y="221.69" style="stroke: #000000; stroke-width: 0.8"/>
</g>
</g>
</g>
<g id="xtick_15">
<g id="line2d_39">
<path d="M 144.72 221.69
L 144.72 127.84
" clip-path="url(#p856a4b47ae)" style="fill: none; stroke-dasharray: 0.8,1.32; stroke-dashoffset: -0.55; stroke: #b0b0b0; stroke-width: 0.8"/>
</g>
<g id="line2d_40">
<g>
<use href="#m1504cfccaf" x="144.72" y="221.69" style="stroke: #000000; stroke-width: 0.8"/>
</g>
</g>
</g>
<g id="xtick_16">
<g id="line2d_41">
<path d="M 181.44 221.69
L 181.44 127.84
" clip-path="url(#p856a4b47ae)" style="fill: none; stroke-dasharray: 0.8,1.32; stroke-dashoffset: -0.55; stroke: #b0b0b0; stroke-width: 0.8"/>
</g>
<g id="line2d_42">
<g>
<use href="#m1504cfccaf" x="181.44" y="221.69" style="stroke: #000000; stroke-width: 0.8"/>
</g>
</g>
</g>
<g id="xtick_17">
<g id="line2d_43">
<path d="M 218.21 221.69
L 218.21 127.84
" clip-path="url(#p856a4b47ae)" style="fill: none; stroke-dasharray: 0.8,1.32; stroke-dashoffset: -0.55; stroke: #b0b0b0; stroke-width: 0.8"/>
</g>
<g id="line2d_44">
<g>
<use href="#m1504cfccaf" x="218.21" y="221.69" style="stroke: #000000; stroke-width: 0.8"/>
</g>
</g>
</g>
<g id="xtick_18">
<g id="line2d_45">
<path d="M 254.92 221.69
L 254.92 127.84
" clip-path="url(#p856a4b47ae)" style="fill: none; stroke-dasharray: 0.8,1.32; stroke-dashoffset: -0.55; stroke: #b0b0b0; stroke-width: 0.8"/>
</g>
<g id="line2d_46">
<g>
<use href="#m1504cfccaf" x="254.92" y="221.69" style="stroke: #000000; stroke-width: 0.8"/>
</g>
</g>
</g>
<g id="xtick_19">
<g id="line2d_47">
<path d="M 291.69 221.69
L 291.69 127.84
" clip-path="url(#p856a4b47ae)" style="fill: none; stroke-dasharray: 0.8,1.32; stroke-dashoffset: -0.55; stroke: #b0b0b0; stroke-width: 0.8"/>
</g>
<g id="line2d_48">
<g>
<use href="#m1504cfccaf" x="291.69" y="221.69" style="stroke: #000000; stroke-width: 0.8"/>
</g>
</g>
</g>
<g id="xtick_20">
<g id="line2d_49">
<path d="M 328.4 221.69
L 328.4 127.84
" clip-path="url(#p856a4b47ae)" style="fill: none; stroke-dasharray: 0.8,1.32; stroke-dashoffset: -0.55; stroke: #b0b0b0; stroke-width: 0.8"/>
</g>
<g id="line2d_50">
<g>
<use href="#m1504cfccaf" x="328.4" y="221.69" style="stroke: #000000; stroke-width: 0.8"/>
</g>
</g>
</g>
<g id="xtick_21">
<g id="line2d_51">
<path d="M 365.17 221.69
L 365.17 127.84
" clip-path="url(#p856a4b47ae)" style="fill: none; stroke-dasharray: 0.8,1.32; stroke-dashoffset: -0.55; stroke: #b0b0b0; stroke-width: 0.8"/>
</g>
<g id="line2d_52">
<g>
<use href="#m1504cfccaf" x="365.17" y="221.69" style="stroke: #000000; stroke-width: 0.8"/>
</g>
</g>
</g>
<g id="xtick_22">
<g id="line2d_53">
<path d="M 401.89 221.69
L 401.89 127.84
" clip-path="url(#p856a4b47ae)" style="fill: none; stroke-dasharray: 0.8,1.32; stroke-dashoffset: -0.55; stroke: #b0b0b0; stroke-width: 0.8"/>
</g>
<g id="line2d_54">
<g>
<use href="#m1504cfccaf" x="401.89" y="221.69" style="stroke: #000000; stroke-width: 0.8"/>
</g>
</g>
</g>
<g id="xtick_23">
<g id="line2d_55">
<path d="M 438.65 221.69
L 438.65 127.84
" clip-path="url(#p856a4b47ae)" style="fill: none; stroke-dasharray: 0.8,1.32; stroke-dashoffset: -0.55; stroke: #b0b0b0; stroke-width: 0.8"/>
</g>
<g id="line2d_56">
<g>
<use href="#m1504cfccaf" x="438.65" y="221.69" style="stroke: #000000; stroke-width: 0.8"/>
</g>
</g>
</g>
<g id="xtick_24">
<g id="line2d_57">
<path d="M 475.37 221.69
L 475.37 127.84
" clip-path="url(#p856a4b47ae)" style="fill: none; stroke-dasharray: 0.8,1.32; stroke-dashoffset: -0.55; stroke: #b0b0b0; stroke-width: 0.8"/>
</g>
<g id="line2d_58">
<g>
<use href="#m1504cfccaf" x="475.37" y="221.69" style="stroke: #000000; stroke-width: 0.8"/>
</g>
</g>
</g>
</g>
<g id="matplotlib.axis_4">
<g id="ytick_4">
<g id="line2d_59">
<path d="M 52.88 217.49
L 492.22 217.49
" clip-path="url(#p856a4b47ae)" style="fill: none; stroke-dasharray: 0.8,1.32; stroke-dashoffset: -0.55; stroke: #b0b0b0; stroke-width: 0.8"/>
</g>
<g id="line2d_60">
<g>
<use href="#m5d545ce8f8" x="52.88" y="217.49" style="stroke: #000000; stroke-width: 0.8"/>
</g>
</g>
<g id="text_6">
<text style="font-size: 10px; font-family: 'DejaVu Sans', sans-serif; text-anchor: end; letter-spacing: -0.07px" x="46.03" y="221.29">−<tspan dx="-0.77">2</tspan></text>
</g>
</g>
<g id="ytick_5">
<g id="line2d_61">
<path d="M 52.88 174.81
L 492.22 174.81
" clip-path="url(#p856a4b47ae)" style="fill: none; stroke-dasharray: 0.8,1.32; stroke-dashoffset: -0.55; stroke: #b0b0b0; stroke-width: 0.8"/>
</g>
<g id="line2d_62">
<g>
<use href="#m5d545ce8f8" x="52.88" y="174.81" style="stroke: #000000; stroke-width: 0.8"/>
</g>
</g>
<g id="text_7">
<text style="font-size: 10px; font-family: 'DejaVu Sans', sans-serif; text-anchor: end; letter-spacing: -0.07px" x="46.41" y="178.61">0</text>
</g>
</g>
<g id="ytick_6">
<g id="line2d_63">
<path d="M 52.88 132.13
L 492.22 132.13
" clip-path="url(#p856a4b47ae)" style="fill: none; stroke-dasharray: 0.8,1.32; stroke-dashoffset: -0.55; stroke: #b0b0b0; stroke-width: 0.8"/>
</g>
<g id="line2d_64">
<g>
<use href="#m5d545ce8f8" x="52.88" y="132.13" style="stroke: #000000; stroke-width: 0.8"/>
</g>
</g>
<g id="text_8">
<text style="font-size: 10px; font-family: 'DejaVu Sans', sans-serif; text-anchor: end; letter-spacing: -0.07px" x="46.03" y="136.17">2</text>
</g>
</g>
<g id="text_9">
<text style="font-size: 10px; font-family: 'DejaVu Sans', sans-serif; text-anchor: middle; letter-spacing: -0.07px" x="25.06" y="175.34" transform="rotate(-90 25.06 175.34)">SST anomaly [°C]</text>
</g>
</g>
<g id="line2d_65">
<path d="M 52.88 200.68
L 54.44 218.88
L 55.85 196.95
L 57.41 205.81
L 58.92 198.81
L 60.48 193.68
L 61.99 187.61
L 63.55 176.18
L 65.11 186.21
L 66.61 178.74
L 68.17 186.68
L 69.68 192.28
L 71.24 170.34
L 72.8 175.47
L 74.21 184.34
L 75.77 192.04
L 77.28 190.41
L 78.84 192.51
L 80.35 190.41
L 81.9 180.61
L 83.46 189.01
L 84.97 192.98
L 86.53 177.34
L 88.04 166.61
L 89.6 175.01
L 91.16 173.14
L 92.57 163.34
L 94.13 155.87
L 95.64 161.94
L 97.19 177.34
L 98.7 187.14
L 100.26 181.08
L 101.82 184.81
L 103.33 172.67
L 104.89 168.94
L 106.4 155.87
L 107.96 158.67
L 109.52 162.87
L 110.98 172.67
L 112.53 174.07
L 114.04 175.01
L 115.6 182.71
L 117.11 166.61
L 118.67 172.21
L 120.23 170.81
L 121.74 171.74
L 123.3 182.01
L 124.81 198.81
L 126.37 195.08
L 127.93 186.68
L 129.33 168.71
L 130.89 183.41
L 132.4 181.08
L 133.96 168.24
L 135.47 172.67
L 137.03 171.04
L 138.59 175.01
L 140.1 175.94
L 141.66 187.84
L 143.16 182.48
L 144.72 172.67
L 146.28 142.34
L 147.69 161.94
L 149.25 161.47
L 150.76 164.27
L 152.32 161.47
L 153.83 157.74
L 156.95 165.44
L 158.45 158.67
L 160.01 148.87
L 161.52 149.57
L 163.08 146.07
L 164.64 159.61
L 166.05 158.21
L 167.61 161.47
L 169.12 163.81
L 170.68 150.74
L 172.19 156.81
L 173.74 165.67
L 175.3 155.87
L 176.81 154.94
L 178.37 148.64
L 179.88 156.34
L 181.44 170.81
L 183 177.34
L 184.46 168.24
L 186.02 174.07
L 187.53 170.81
L 189.08 172.21
L 190.59 157.74
L 192.15 163.11
L 193.71 170.81
L 195.22 172.67
L 196.78 183.64
L 198.29 168.01
L 199.85 183.88
L 201.41 175.01
L 202.82 161.47
L 204.37 168.94
L 205.88 167.07
L 207.44 159.61
L 208.95 163.34
L 210.51 165.67
L 212.07 161.47
L 213.58 151.2
L 215.14 157.74
L 216.65 154.94
L 218.21 163.34
L 219.76 181.31
L 221.17 170.11
L 222.73 183.41
L 224.24 170.81
L 227.31 166.14
L 228.87 167.54
L 230.43 170.81
L 231.94 178.74
L 233.5 190.64
L 235 184.34
L 236.56 177.34
L 238.12 182.71
L 239.53 175.47
L 241.09 164.74
L 242.6 167.07
L 244.16 164.74
L 245.67 166.14
L 247.23 164.74
L 248.79 168.01
L 250.29 172.67
L 251.85 181.31
L 253.36 165.67
L 254.92 155.87
L 256.48 177.34
L 257.94 206.28
L 259.5 210.95
L 261.01 191.34
L 262.57 188.08
L 264.08 190.64
L 265.63 185.04
L 267.19 188.78
L 268.7 182.94
L 270.26 159.14
L 271.77 221.68
L 273.33 191.34
L 274.89 168.01
L 276.3 160.31
L 277.86 160.77
L 279.37 170.34
L 280.92 176.41
L 282.43 170.34
L 285.55 159.14
L 287.06 156.34
L 288.62 151.44
L 290.13 163.34
L 291.69 180.61
L 293.25 160.07
L 294.65 191.11
L 296.21 178.74
L 297.72 175.47
L 299.28 177.34
L 300.79 179.68
L 302.35 184.58
L 303.91 169.64
L 305.42 175.47
L 306.98 186.68
L 308.49 199.75
L 310.05 195.08
L 311.6 184.34
L 313.01 176.18
L 314.57 176.41
L 316.08 170.57
L 317.64 172.67
L 319.15 175.01
L 320.71 179.21
L 322.27 170.81
L 323.78 178.28
L 326.84 157.04
L 328.4 158.21
L 329.96 172.67
L 331.42 171.27
L 332.98 168.01
L 334.49 167.07
L 336.05 163.34
L 337.56 179.68
L 339.12 189.71
L 340.68 177.11
L 342.18 181.78
L 343.74 177.81
L 345.25 164.04
L 346.81 163.11
L 348.37 168.94
L 349.78 188.54
L 351.34 175.71
L 352.85 189.48
L 354.41 194.61
L 355.91 194.84
L 357.47 186.21
L 359.03 171.74
L 360.54 183.41
L 362.1 185.98
L 363.61 182.01
L 365.17 187.84
L 366.73 162.41
L 368.14 168.94
L 369.7 172.67
L 371.2 177.34
L 372.76 179.68
L 374.27 175.47
L 377.39 188.08
L 378.9 190.41
L 380.46 172.67
L 381.97 159.14
L 383.53 159.61
L 385.09 161.47
L 386.49 168.01
L 388.05 176.18
L 389.56 166.61
L 391.12 159.14
L 392.63 166.61
L 394.19 170.34
L 395.75 177.81
L 397.26 171.27
L 398.82 179.68
L 400.33 187.14
L 401.89 187.61
L 403.44 189.48
L 404.9 202.08
L 406.46 185.04
L 407.97 185.51
L 409.53 185.51
L 411.04 175.01
L 412.6 170.11
L 415.67 189.01
L 417.23 181.08
L 418.73 175.47
L 421.85 189.01
L 423.26 177.34
L 424.82 169.41
L 426.33 172.67
L 427.89 182.94
L 429.4 178.28
L 430.96 170.11
L 432.52 180.14
L 434.02 178.28
L 435.58 154.94
L 437.09 151.44
L 438.65 188.08
L 440.21 184.34
L 441.62 179.68
L 443.18 164.27
L 444.69 166.61
L 446.25 163.57
L 447.75 170.34
L 449.31 176.41
L 450.87 179.68
L 452.38 186.68
L 453.94 198.11
L 455.45 195.54
L 457.01 143.74
L 458.57 172.67
L 459.98 162.87
L 461.54 168.01
L 463.04 189.48
L 464.6 192.74
L 466.11 194.14
L 467.67 191.81
L 469.23 182.01
L 470.74 177.81
L 473.81 183.41
L 475.37 172.67
L 476.93 152.14
L 478.38 158.44
L 479.94 161.94
L 481.45 159.84
L 483.01 166.14
L 484.52 168.94
L 486.08 175.71
L 487.64 173.61
L 489.15 168.94
L 490.71 177.34
L 492.22 183.41
L 492.22 183.41
" clip-path="url(#p856a4b47ae)" style="fill: none; stroke: #008000; stroke-width: 1.5; stroke-linecap: square"/>
</g>
<g id="line2d_66">
<path d="M 94.13 153.86
L 95.64 160.31
M 160.01 148.87
L 161.52 149.57
L 163.08 146.07
M 170.68 150.74
L 172.19 156.81
M 175.3 155.87
L 176.81 154.94
L 178.37 148.64
M 190.59 157.74
L 192.15 163.11
M 212.07 161.24
L 213.58 148.87
M 283.99 164.74
L 285.55 159.14
L 287.06 156.34
M 435.58 154.94
L 437.09 151.34
M 476.93 152.14
L 478.38 158.44
L 479.94 161.94
L 481.45 159.84
L 481.45 159.84
" clip-path="url(#p856a4b47ae)" style="fill: none; stroke: #ff0000; stroke-width: 1.5; stroke-linecap: square"/>
<g clip-path="url(#p856a4b47ae)">
<use href="#m608ba95eef" x="94.13" y="153.86" style="fill: #ff0000; stroke: #ff0000"/>
<use href="#m608ba95eef" x="95.64" y="160.31" style="fill: #ff0000; stroke: #ff0000"/>
<use href="#m608ba95eef" x="146.28" y="140.47" style="fill: #ff0000; stroke: #ff0000"/>
<use href="#m608ba95eef" x="153.83" y="157.74" style="fill: #ff0000; stroke: #ff0000"/>
<use href="#m608ba95eef" x="160.01" y="148.87" style="fill: #ff0000; stroke: #ff0000"/>
<use href="#m608ba95eef" x="161.52" y="149.57" style="fill: #ff0000; stroke: #ff0000"/>
<use href="#m608ba95eef" x="163.08" y="146.07" style="fill: #ff0000; stroke: #ff0000"/>
<use href="#m608ba95eef" x="166.05" y="158.21" style="fill: #ff0000; stroke: #ff0000"/>
<use href="#m608ba95eef" x="170.68" y="150.74" style="fill: #ff0000; stroke: #ff0000"/>
<use href="#m608ba95eef" x="172.19" y="156.81" style="fill: #ff0000; stroke: #ff0000"/>
<use href="#m608ba95eef" x="175.3" y="155.87" style="fill: #ff0000; stroke: #ff0000"/>
<use href="#m608ba95eef" x="176.81" y="154.94" style="fill: #ff0000; stroke: #ff0000"/>
<use href="#m608ba95eef" x="178.37" y="148.64" style="fill: #ff0000; stroke: #ff0000"/>
<use href="#m608ba95eef" x="190.59" y="157.74" style="fill: #ff0000; stroke: #ff0000"/>
<use href="#m608ba95eef" x="192.15" y="163.11" style="fill: #ff0000; stroke: #ff0000"/>
<use href="#m608ba95eef" x="202.82" y="159.23" style="fill: #ff0000; stroke: #ff0000"/>
<use href="#m608ba95eef" x="207.44" y="157.04" style="fill: #ff0000; stroke: #ff0000"/>
<use href="#m608ba95eef" x="212.07" y="161.24" style="fill: #ff0000; stroke: #ff0000"/>
<use href="#m608ba95eef" x="213.58" y="148.87" style="fill: #ff0000; stroke: #ff0000"/>
<use href="#m608ba95eef" x="254.92" y="153.54" style="fill: #ff0000; stroke: #ff0000"/>
<use href="#m608ba95eef" x="283.99" y="164.74" style="fill: #ff0000; stroke: #ff0000"/>
<use href="#m608ba95eef" x="285.55" y="159.14" style="fill: #ff0000; stroke: #ff0000"/>
<use href="#m608ba95eef" x="287.06" y="156.34" style="fill: #ff0000; stroke: #ff0000"/>
<use href="#m608ba95eef" x="381.97" y="157.04" style="fill: #ff0000; stroke: #ff0000"/>
<use href="#m608ba95eef" x="385.09" y="161.24" style="fill: #ff0000; stroke: #ff0000"/>
<use href="#m608ba95eef" x="391.12" y="157.04" style="fill: #ff0000; stroke: #ff0000"/>
<use href="#m608ba95eef" x="435.58" y="154.94" style="fill: #ff0000; stroke: #ff0000"/>
<use href="#m608ba95eef" x="437.09" y="151.34" style="fill: #ff0000; stroke: #ff0000"/>
<use href="#m608ba95eef" x="444.69" y="166.61" style="fill: #ff0000; stroke: #ff0000"/>
<use href="#m608ba95eef" x="457.01" y="143.6" style="fill: #ff0000; stroke: #ff0000"/>
<use href="#m608ba95eef" x="459.98" y="162.78" style="fill: #ff0000; stroke: #ff0000"/>
<use href="#m608ba95eef" x="476.93" y="152.14" style="fill: #ff0000; stroke: #ff0000"/>
<use href="#m608ba95eef" x="478.38" y="158.44" style="fill: #ff0000; stroke: #ff0000"/>
<use href="#m608ba95eef" x="479.94" y="161.94" style="fill: #ff0000; stroke: #ff0000"/>
<use href="#m608ba95eef" x="481.45" y="159.84" style="fill: #ff0000; stroke: #ff0000"/>
</g>
</g>
<g id="line2d_67">
<path d="M 55.85 192.51
L 57.41 192.04
L 58.92 190.41
L 60.48 190.18
L 61.99 186.68
L 63.55 184.34
L 65.11 181.31
L 66.61 180.38
L 68.17 181.54
L 69.68 178.98
L 71.24 182.48
L 72.8 178.74
L 74.21 177.34
L 75.77 179.68
L 77.28 186.44
L 78.84 182.01
L 80.35 183.64
L 83.46 180.38
L 84.97 178.98
L 86.53 189.24
L 88.04 189.24
L 89.6 182.71
L 91.16 179.91
L 92.57 176.41
L 94.13 177.81
L 95.64 180.38
L 97.19 177.58
L 98.7 177.58
L 100.26 182.71
L 101.82 181.31
L 103.33 181.54
L 104.89 172.67
L 106.4 175.94
L 107.96 169.87
L 109.52 167.31
L 110.98 169.41
L 112.53 173.14
L 114.04 176.41
L 115.6 172.91
L 117.11 174.54
L 118.67 174.54
L 120.23 175.47
L 121.74 177.34
L 123.3 171.04
L 124.81 173.14
L 126.37 178.28
L 127.93 178.51
L 129.33 187.14
L 130.89 180.61
L 132.4 180.14
L 133.96 184.81
L 135.47 177.81
L 137.03 176.64
L 138.59 178.74
L 140.1 181.54
L 141.66 186.68
L 143.16 185.74
L 144.72 184.11
L 146.28 172.67
L 147.69 164.74
L 149.25 169.87
L 152.32 166.14
L 153.83 165.21
L 155.39 161.71
L 156.95 157.04
L 158.45 159.14
L 160.01 155.64
L 161.52 158.21
L 163.08 162.41
L 164.64 161.94
L 166.05 165.67
L 167.61 161.24
L 169.12 155.4
L 170.68 162.87
L 172.19 160.77
L 173.74 161.47
L 175.3 163.81
L 176.81 165.67
L 178.37 160.54
L 179.88 159.14
L 181.44 162.41
L 183 175.01
L 184.46 179.21
L 186.02 170.11
L 187.53 171.97
L 189.08 172.21
L 190.59 174.54
L 192.15 168.94
L 193.71 168.47
L 195.22 168.71
L 196.78 169.41
L 198.29 170.34
L 199.85 178.28
L 201.41 175.47
L 202.82 173.84
L 204.37 171.27
L 205.88 170.34
L 207.44 165.67
L 208.95 168.01
L 210.51 164.74
L 212.07 168.24
L 213.58 166.14
L 215.14 162.87
L 216.65 160.54
L 218.21 161.24
L 219.76 171.74
L 221.17 174.54
L 222.73 175.71
L 224.24 173.14
L 225.8 173.37
L 227.31 172.91
L 228.87 171.04
L 230.43 170.57
L 231.94 175.47
L 233.5 180.14
L 235 186.44
L 236.56 181.08
L 238.12 174.54
L 239.53 176.41
L 241.09 177.34
L 242.6 172.67
L 244.16 170.81
L 245.67 166.84
L 247.23 168.01
L 248.79 170.81
L 250.29 174.54
L 251.85 177.34
L 253.36 178.04
L 254.92 177.34
L 256.48 166.61
L 259.5 187.61
L 261.01 187.14
L 262.57 180.84
L 264.08 178.28
L 265.63 177.11
L 267.19 176.64
L 270.26 182.71
L 271.77 178.28
L 273.33 186.21
L 274.89 188.31
L 276.3 180.14
L 277.86 174.54
L 279.37 173.14
L 280.92 173.37
L 282.43 173.14
L 283.99 172.67
L 285.55 171.74
L 287.06 167.77
L 288.62 166.84
L 290.13 166.37
L 291.69 166.61
L 293.25 170.57
L 294.65 166.14
L 297.72 174.54
L 299.28 172.44
L 300.79 175.47
L 302.35 176.64
L 303.91 175.01
L 305.42 175.47
L 306.98 175.24
L 308.49 173.61
L 310.05 180.14
L 311.6 184.34
L 313.01 181.08
L 314.57 177.81
L 316.08 176.64
L 317.64 175.24
L 319.15 171.27
L 320.71 171.51
L 322.27 169.87
L 323.78 170.81
L 325.34 168.47
L 326.84 171.74
L 328.4 170.81
L 329.96 171.04
L 331.42 171.51
L 332.98 170.81
L 334.49 167.31
L 336.05 170.81
L 337.56 171.97
L 339.12 175.94
L 340.68 177.69
L 342.18 176.88
L 343.74 176.18
L 345.25 176.18
L 346.81 175.01
L 348.37 171.27
L 349.78 169.17
L 351.34 170.81
L 354.41 179.68
L 355.91 182.48
L 357.47 185.04
L 359.03 182.01
L 360.54 177.81
L 362.1 179.68
L 363.61 182.71
L 365.17 181.31
L 366.73 179.21
L 368.14 175.01
L 369.7 173.61
L 371.2 175.01
L 372.76 176.18
L 374.27 176.41
L 375.83 179.21
L 377.39 179.44
L 378.9 178.74
L 380.46 173.14
L 381.97 172.21
L 383.53 165.44
L 385.09 166.84
L 386.49 163.34
L 388.05 168.24
L 389.56 176.64
L 392.63 175.24
L 395.75 180.38
L 398.82 174.54
L 400.33 171.51
L 401.89 172.44
L 403.44 176.41
L 404.9 181.08
L 406.46 182.71
L 409.53 175.47
L 411.04 179.21
L 412.6 178.04
L 414.16 175.47
L 415.67 175.24
L 417.23 174.77
L 418.73 179.21
L 420.29 184.81
L 421.85 176.41
L 423.26 173.61
L 424.82 171.04
L 426.33 170.34
L 427.89 173.61
L 429.4 176.41
L 430.96 178.51
L 432.52 176.18
L 434.02 177.11
L 435.58 177.58
L 437.09 170.81
L 438.65 164.51
L 440.21 170.34
L 441.62 177.11
L 443.18 177.81
L 444.69 172.91
L 446.25 174.07
L 447.75 171.51
L 450.87 177.34
L 452.38 179.21
L 453.94 184.11
L 455.45 182.48
L 457.01 175.47
L 458.57 172.44
L 459.98 173.84
L 461.54 173.37
L 463.04 173.61
L 464.6 178.28
L 466.11 181.78
L 467.67 180.14
L 469.23 180.38
L 470.74 180.14
L 472.3 181.31
L 473.81 180.84
L 475.37 175.47
L 476.93 175.71
L 478.38 170.81
L 479.94 166.84
L 481.45 165.91
L 483.01 165.21
L 484.52 169.64
L 486.08 167.31
L 487.64 170.57
L 489.15 166.61
L 490.71 169.64
L 492.22 170.11
L 492.22 170.11
" clip-path="url(#p856a4b47ae)" style="fill: none; stroke: #000000; stroke-width: 1.5; stroke-linecap: square"/>
</g>
<g id="line2d_68">
<path d="M 153.83 165.21
L 155.39 161.71
L 156.95 157.04
L 158.45 159.14
L 160.01 155.64
L 161.52 158.21
L 163.08 162.41
L 164.64 161.94
M 167.61 161.24
L 169.12 155.4
L 170.68 162.87
L 172.19 160.77
L 173.74 161.47
L 175.3 163.81
L 176.81 165.67
L 178.37 160.54
L 179.88 159.14
M 210.51 164.74
L 212.07 168.24
L 213.58 166.14
L 215.14 162.87
L 216.65 160.54
L 218.21 161.24
M 385.09 166.84
L 386.49 163.34
L 388.05 168.24
M 479.94 166.84
L 481.45 165.91
L 483.01 165.21
L 483.01 165.21
" clip-path="url(#p856a4b47ae)" style="fill: none; stroke: #00ffff; stroke-width: 1.5; stroke-linecap: square"/>
<g clip-path="url(#p856a4b47ae)">
<use href="#md41d3c3caa" x="147.69" y="164.51" style="fill: #00ffff; stroke: #00ffff"/>
<use href="#md41d3c3caa" x="153.83" y="165.21" style="fill: #00ffff; stroke: #00ffff"/>
<use href="#md41d3c3caa" x="155.39" y="161.71" style="fill: #00ffff; stroke: #00ffff"/>
<use href="#md41d3c3caa" x="156.95" y="157.04" style="fill: #00ffff; stroke: #00ffff"/>
<use href="#md41d3c3caa" x="158.45" y="159.14" style="fill: #00ffff; stroke: #00ffff"/>
<use href="#md41d3c3caa" x="160.01" y="155.64" style="fill: #00ffff; stroke: #00ffff"/>
<use href="#md41d3c3caa" x="161.52" y="158.21" style="fill: #00ffff; stroke: #00ffff"/>
<use href="#md41d3c3caa" x="163.08" y="162.41" style="fill: #00ffff; stroke: #00ffff"/>
<use href="#md41d3c3caa" x="164.64" y="161.94" style="fill: #00ffff; stroke: #00ffff"/>
<use href="#md41d3c3caa" x="167.61" y="161.24" style="fill: #00ffff; stroke: #00ffff"/>
<use href="#md41d3c3caa" x="169.12" y="155.4" style="fill: #00ffff; stroke: #00ffff"/>
<use href="#md41d3c3caa" x="170.68" y="162.87" style="fill: #00ffff; stroke: #00ffff"/>
<use href="#md41d3c3caa" x="172.19" y="160.77" style="fill: #00ffff; stroke: #00ffff"/>
<use href="#md41d3c3caa" x="173.74" y="161.47" style="fill: #00ffff; stroke: #00ffff"/>
<use href="#md41d3c3caa" x="175.3" y="163.81" style="fill: #00ffff; stroke: #00ffff"/>
<use href="#md41d3c3caa" x="176.81" y="165.67" style="fill: #00ffff; stroke: #00ffff"/>
<use href="#md41d3c3caa" x="178.37" y="160.54" style="fill: #00ffff; stroke: #00ffff"/>
<use href="#md41d3c3caa" x="179.88" y="159.14" style="fill: #00ffff; stroke: #00ffff"/>
<use href="#md41d3c3caa" x="207.44" y="165.67" style="fill: #00ffff; stroke: #00ffff"/>
<use href="#md41d3c3caa" x="210.51" y="164.74" style="fill: #00ffff; stroke: #00ffff"/>
<use href="#md41d3c3caa" x="212.07" y="168.24" style="fill: #00ffff; stroke: #00ffff"/>
<use href="#md41d3c3caa" x="213.58" y="166.14" style="fill: #00ffff; stroke: #00ffff"/>
<use href="#md41d3c3caa" x="215.14" y="162.87" style="fill: #00ffff; stroke: #00ffff"/>
<use href="#md41d3c3caa" x="216.65" y="160.54" style="fill: #00ffff; stroke: #00ffff"/>
<use href="#md41d3c3caa" x="218.21" y="161.24" style="fill: #00ffff; stroke: #00ffff"/>
<use href="#md41d3c3caa" x="245.67" y="166.84" style="fill: #00ffff; stroke: #00ffff"/>
<use href="#md41d3c3caa" x="256.48" y="166.61" style="fill: #00ffff; stroke: #00ffff"/>
<use href="#md41d3c3caa" x="294.65" y="165.91" style="fill: #00ffff; stroke: #00ffff"/>
<use href="#md41d3c3caa" x="334.49" y="167.31" style="fill: #00ffff; stroke: #00ffff"/>
<use href="#md41d3c3caa" x="385.09" y="166.84" style="fill: #00ffff; stroke: #00ffff"/>
<use href="#md41d3c3caa" x="386.49" y="163.34" style="fill: #00ffff; stroke: #00ffff"/>
<use href="#md41d3c3caa" x="388.05" y="168.24" style="fill: #00ffff; stroke: #00ffff"/>
<use href="#md41d3c3caa" x="438.65" y="164.51" style="fill: #00ffff; stroke: #00ffff"/>
<use href="#md41d3c3caa" x="479.94" y="166.84" style="fill: #00ffff; stroke: #00ffff"/>
<use href="#md41d3c3caa" x="481.45" y="165.91" style="fill: #00ffff; stroke: #00ffff"/>
<use href="#md41d3c3caa" x="483.01" y="165.21" style="fill: #00ffff; stroke: #00ffff"/>
</g>
</g>
<g id="patch_8">
<path d="M 52.88 221.69
L 52.88 127.84
" style="fill: none; stroke: #000000; stroke-width: 0.8; stroke-linejoin: miter; stroke-linecap: square"/>
</g>
<g id="patch_9">
<path d="M 492.22 221.69
L 492.22 127.84
" style="fill: none; stroke: #000000; stroke-width: 0.8; stroke-linejoin: miter; stroke-linecap: square"/>
</g>
<g id="patch_10">
<path d="M 52.88 221.69
L 492.22 221.69
" style="fill: none; stroke: #000000; stroke-width: 0.8; stroke-linejoin: miter; stroke-linecap: square"/>
</g>
<g id="patch_11">
<path d="M 52.88 127.84
L 492.22 127.84
" style="fill: none; stroke: #000000; stroke-width: 0.8; stroke-linejoin: miter; stroke-linecap: square"/>
</g>
<g id="text_10">
<text style="font-size: 10px; font-family: 'DejaVu Sans', sans-serif; text-anchor: middle; letter-spacing: -0.07px" x="272.55" y="122.16">Opotiki (ACC = 0.57, SEDI = 0.59, TP = 17, FP = 19, TN = 230, FN = 19)</text>
</g>
</g>
<g id="axes_3">
<g id="patch_12">
<path d="M 52.88 334.64
L 492.22 334.64
L 492.22 240.5
L 52.88 240.5
z
" style="fill: #ffffff"/>
</g>
<g id="FillBetweenPolyCollection_3">
<defs>
<path id="m1c2de866d3" d="M 55.85 -296.32
L 55.85 -286.03
L 57.41 -292.99
L 58.92 -298.09
L 60.48 -296.89
L 61.99 -298.55
L 63.55 -298.12
L 65.11 -302.59
L 66.61 -304.72
L 68.17 -302.9
L 69.68 -302.93
L 71.24 -306.94
L 72.8 -303.71
L 74.21 -307.1
L 75.77 -306.99
L 77.28 -300.35
L 78.84 -303.89
L 80.35 -301.91
L 81.9 -300.4
L 83.46 -299.12
L 84.97 -297.98
L 86.53 -289.84
L 88.04 -284.96
L 89.6 -291.56
L 91.16 -292.57
L 92.57 -300.03
L 94.13 -302.83
L 95.64 -299.92
L 97.19 -306.9
L 98.7 -307.35
L 100.26 -301.32
L 101.82 -297.16
L 103.33 -299.04
L 104.89 -307
L 106.4 -304.45
L 107.96 -314.53
L 109.52 -321.35
L 110.98 -310.63
L 112.53 -316.74
L 114.04 -307.23
L 115.6 -310.33
L 117.11 -307.74
L 118.67 -307.02
L 120.23 -305.83
L 121.74 -304.42
L 123.3 -312.95
L 124.81 -312.38
L 126.37 -296.2
L 127.93 -305.42
L 129.33 -301.34
L 130.89 -305.58
L 132.4 -302.11
L 133.96 -296.32
L 135.47 -305.37
L 137.03 -311.86
L 138.59 -307.88
L 140.1 -302.03
L 141.66 -296.18
L 143.16 -288.23
L 144.72 -276.07
L 146.28 -286.55
L 147.69 -296.33
L 149.25 -296.63
L 150.76 -300.44
L 152.32 -305.34
L 153.83 -312.12
L 155.39 -316.26
L 156.95 -319.48
L 158.45 -320.12
L 160.01 -322.64
L 161.52 -325.15
L 163.08 -328.36
L 164.64 -328.08
L 166.05 -331.7
L 167.61 -333.7
L 169.12 -333.6
L 170.68 -324.62
L 172.19 -326.15
L 173.74 -325.95
L 175.3 -323.65
L 176.81 -322.28
L 178.37 -325.23
L 179.88 -333.78
L 181.44 -331.97
L 183 -318.96
L 184.46 -308.74
L 186.02 -313.88
L 187.53 -312.71
L 189.08 -311.31
L 190.59 -311.06
L 192.15 -315.01
L 193.71 -319.19
L 195.22 -318.47
L 196.78 -319.38
L 198.29 -320.06
L 199.85 -312.99
L 201.41 -315.02
L 202.82 -306.08
L 204.37 -315.92
L 205.88 -312.69
L 207.44 -322.29
L 208.95 -318.12
L 210.51 -322.53
L 212.07 -318.06
L 213.58 -318.74
L 215.14 -323.14
L 216.65 -330.02
L 218.21 -327.4
L 219.76 -314.19
L 221.17 -314.04
L 222.73 -309.7
L 224.24 -307.96
L 225.8 -309.26
L 227.31 -309.63
L 228.87 -311.86
L 230.43 -312.93
L 231.94 -309.36
L 233.5 -303.22
L 235 -292.88
L 236.56 -298.16
L 238.12 -302.98
L 239.53 -298.92
L 241.09 -299.94
L 242.6 -312.64
L 244.16 -312.47
L 245.67 -316.04
L 247.23 -316.34
L 248.79 -315.19
L 250.29 -311.95
L 251.85 -308.01
L 253.36 -303.01
L 254.92 -301.76
L 256.48 -311.93
L 257.94 -302.97
L 259.5 -295.64
L 261.01 -295.07
L 262.57 -300.56
L 264.08 -304.81
L 265.63 -303.93
L 267.19 -304.91
L 268.7 -302.86
L 270.26 -297.78
L 271.77 -299.23
L 273.33 -287.84
L 274.89 -286.86
L 276.3 -297.78
L 277.86 -301.04
L 279.37 -302.44
L 280.92 -304.72
L 282.43 -303.26
L 283.99 -305.69
L 285.55 -307.97
L 287.06 -314.21
L 288.62 -315.79
L 290.13 -319.7
L 291.69 -319.89
L 293.25 -309.82
L 294.65 -320.98
L 296.21 -304.59
L 297.72 -301.74
L 299.28 -305.79
L 300.79 -305.63
L 302.35 -303.75
L 303.91 -304.44
L 305.42 -301.39
L 306.98 -299.97
L 308.49 -307
L 310.05 -300.02
L 311.6 -301.5
L 313.01 -297.37
L 314.57 -303.22
L 316.08 -304.41
L 317.64 -304.43
L 319.15 -304.52
L 320.71 -302.98
L 322.27 -305.17
L 323.78 -305.96
L 325.34 -309.09
L 326.84 -308.71
L 328.4 -316.51
L 329.96 -321.5
L 331.42 -319.28
L 332.98 -314.97
L 334.49 -317.2
L 336.05 -311.15
L 337.56 -313.49
L 339.12 -310.47
L 340.68 -308.85
L 342.18 -307.74
L 343.74 -307.56
L 345.25 -308.32
L 346.81 -309.54
L 348.37 -310.3
L 349.78 -309.94
L 351.34 -310.51
L 352.85 -306.65
L 354.41 -304.82
L 355.91 -302.29
L 357.47 -303.22
L 359.03 -306.48
L 360.54 -309.28
L 362.1 -306.52
L 363.61 -298.63
L 365.17 -291.2
L 366.73 -292.46
L 368.14 -301.41
L 369.7 -302.31
L 371.2 -306.47
L 372.76 -306.96
L 374.27 -308.84
L 375.83 -306.1
L 377.39 -307.79
L 378.9 -309.02
L 380.46 -312.57
L 381.97 -314.26
L 383.53 -328.32
L 385.09 -322.63
L 386.49 -321.36
L 388.05 -312.25
L 389.56 -301.27
L 391.12 -305.55
L 392.63 -309.12
L 394.19 -306.52
L 395.75 -304.16
L 397.26 -302.96
L 398.82 -304.56
L 400.33 -303.79
L 401.89 -311.19
L 403.44 -310.61
L 404.9 -305.6
L 406.46 -300.81
L 407.97 -305.59
L 409.53 -311.06
L 411.04 -306.42
L 412.6 -306.08
L 414.16 -309.28
L 415.67 -312.37
L 417.23 -310.36
L 418.73 -303.68
L 420.29 -297.24
L 421.85 -304.51
L 423.26 -312.48
L 424.82 -315.79
L 426.33 -317.8
L 427.89 -313.74
L 429.4 -312.71
L 430.96 -310.75
L 432.52 -309.58
L 434.02 -307.48
L 435.58 -304.85
L 437.09 -312.5
L 438.65 -319.44
L 440.21 -307.25
L 441.62 -307.68
L 443.18 -297.85
L 444.69 -310.54
L 446.25 -307.13
L 447.75 -309.76
L 449.31 -310.04
L 450.87 -309.17
L 452.38 -308.52
L 453.94 -304.37
L 455.45 -300.93
L 457.01 -310.04
L 458.57 -316.12
L 459.98 -305.67
L 461.54 -309.48
L 463.04 -310.24
L 464.6 -304.59
L 466.11 -300.57
L 467.67 -297.48
L 469.23 -297.9
L 470.74 -298.08
L 472.3 -294.29
L 473.81 -292.93
L 475.37 -295.3
L 476.93 -297.21
L 478.38 -305.47
L 479.94 -309.52
L 481.45 -313.12
L 483.01 -311.1
L 484.52 -306.28
L 486.08 -311.97
L 487.64 -306.45
L 489.15 -307
L 490.71 -308.01
L 492.22 -309.64
L 492.22 -320.79
L 492.22 -320.79
L 490.71 -319.15
L 489.15 -316.43
L 487.64 -314.17
L 486.08 -321.72
L 484.52 -318.07
L 483.01 -324.93
L 481.45 -328.98
L 479.94 -325.1
L 478.38 -320.76
L 476.93 -312.21
L 475.37 -309.45
L 473.81 -306.22
L 472.3 -306.73
L 470.74 -309.94
L 469.23 -309.19
L 467.67 -308.2
L 466.11 -310.72
L 464.6 -314.17
L 463.04 -319.25
L 461.54 -319.55
L 459.98 -316.82
L 458.57 -320.84
L 457.01 -317.12
L 455.45 -310.36
L 453.94 -313.45
L 452.38 -317.24
L 450.87 -317.53
L 449.31 -318.05
L 447.75 -317.4
L 446.25 -314.42
L 444.69 -315.68
L 443.18 -311.57
L 441.62 -319.47
L 440.21 -317.11
L 438.65 -330.59
L 437.09 -324.93
L 435.58 -318.57
L 434.02 -322.48
L 432.52 -319.44
L 430.96 -315.47
L 429.4 -318.18
L 427.89 -319.95
L 426.33 -324.76
L 424.82 -323.5
L 423.26 -319.34
L 421.85 -310.51
L 420.29 -302.38
L 418.73 -308.54
L 417.23 -314.93
L 415.67 -316.66
L 414.16 -315.07
L 412.6 -313.37
L 411.04 -313.27
L 409.53 -317.49
L 407.97 -312.23
L 406.46 -307.67
L 404.9 -315.03
L 403.44 -322.61
L 401.89 -325.77
L 400.33 -317.3
L 398.82 -316.99
L 397.26 -313.46
L 395.75 -312.73
L 394.19 -313.17
L 392.63 -313.84
L 391.12 -316.48
L 389.56 -318.42
L 388.05 -327.04
L 386.49 -333.8
L 385.09 -337.2
L 383.53 -345.04
L 381.97 -329.7
L 380.46 -326.72
L 378.9 -321.88
L 377.39 -319.37
L 375.83 -316.39
L 374.27 -317.85
L 372.76 -315.53
L 371.2 -314.62
L 369.7 -311.31
L 368.14 -311.27
L 366.73 -302.96
L 365.17 -302.35
L 363.61 -307.06
L 362.1 -312.24
L 360.54 -312.28
L 359.03 -311.34
L 357.47 -309.94
L 355.91 -310.86
L 354.41 -312.54
L 352.85 -313.51
L 351.34 -318.51
L 349.78 -319.09
L 348.37 -320.59
L 346.81 -318.55
L 345.25 -316.04
L 343.74 -313.99
L 342.18 -312.88
L 340.68 -312.71
L 339.12 -316.69
L 337.56 -322.07
L 336.05 -322.08
L 334.49 -330.49
L 332.98 -325.26
L 331.42 -332.14
L 329.96 -336.93
L 328.4 -331.19
L 326.84 -322.65
L 325.34 -322.27
L 323.78 -318.39
L 322.27 -316.85
L 320.71 -313.91
L 319.15 -314.7
L 317.64 -313.86
L 316.08 -313.41
L 314.57 -311.8
L 313.01 -305.52
L 311.6 -307.93
L 310.05 -304.73
L 308.49 -316.43
L 306.98 -314.12
L 305.42 -314.57
L 303.91 -316.65
L 302.35 -315
L 300.79 -315.92
L 299.28 -319.5
L 297.72 -318.89
L 296.21 -315.1
L 294.65 -324.84
L 293.25 -314.54
L 291.69 -325.47
L 290.13 -326.13
L 288.62 -323.5
L 287.06 -323.21
L 285.55 -318.26
L 283.99 -317.27
L 282.43 -312.69
L 280.92 -315.44
L 279.37 -314.45
L 277.86 -313.05
L 276.3 -309.78
L 274.89 -297.36
L 273.33 -296.84
L 271.77 -307.86
L 270.26 -306.04
L 268.7 -310.76
L 267.19 -312.44
L 265.63 -311.09
L 264.08 -311.61
L 262.57 -306.99
L 261.01 -301.28
L 259.5 -301.64
L 257.94 -311.12
L 256.48 -322.22
L 254.92 -312.33
L 253.36 -313.87
L 251.85 -319.15
L 250.29 -320.81
L 248.79 -321.77
L 247.23 -320.62
L 245.67 -322.32
L 244.16 -320.76
L 242.6 -322.92
L 241.09 -310.88
L 239.53 -310.5
L 238.12 -312.98
L 236.56 -306.59
L 235 -299.74
L 233.5 -309.94
L 231.94 -315.93
L 230.43 -319.36
L 228.87 -319.49
L 227.31 -318.46
L 225.8 -319.29
L 224.24 -319.19
L 222.73 -322.13
L 221.17 -327.12
L 219.76 -327.91
L 218.21 -341.76
L 216.65 -345.03
L 215.14 -336.69
L 213.58 -330.83
L 212.07 -328.7
L 210.51 -331.7
L 208.95 -325.84
L 207.44 -330.54
L 205.88 -321.47
L 204.37 -325.24
L 202.82 -315.94
L 201.41 -324.74
L 199.85 -322.57
L 198.29 -329.5
L 196.78 -329.24
L 195.22 -328.76
L 193.71 -329.91
L 192.15 -326.15
L 190.59 -322.63
L 189.08 -323.31
L 187.53 -324.71
L 186.02 -325.88
L 184.46 -320.75
L 183 -329.67
L 181.44 -341.4
L 179.88 -341.92
L 178.37 -332.73
L 176.81 -329.14
L 175.3 -331.51
L 173.74 -334.81
L 172.19 -336.01
L 170.68 -334.74
L 169.12 -343.97
L 167.61 -344.33
L 166.05 -342.59
L 164.64 -339.22
L 163.08 -338.47
L 161.52 -334.21
L 160.01 -330.66
L 158.45 -327.1
L 156.95 -325.42
L 155.39 -321.16
L 153.83 -315.97
L 152.32 -314.35
L 150.76 -314.58
L 149.25 -311.85
L 147.69 -312.62
L 146.28 -303.27
L 144.72 -293.21
L 143.16 -300.66
L 141.66 -303.9
L 140.1 -308.32
L 138.59 -312.74
L 137.03 -315.29
L 135.47 -312.45
L 133.96 -307.04
L 132.4 -311.97
L 130.89 -314.58
L 129.33 -309.48
L 127.93 -316.14
L 126.37 -309.49
L 124.81 -322.24
L 123.3 -319.81
L 121.74 -308.27
L 120.23 -310.12
L 118.67 -311.74
L 117.11 -312.88
L 115.6 -315.9
L 114.04 -311.52
L 112.53 -324.89
L 110.98 -323.06
L 109.52 -328.21
L 107.96 -322.89
L 106.4 -314.31
L 104.89 -316.43
L 103.33 -308.05
L 101.82 -305.73
L 100.26 -309.04
L 98.7 -314.21
L 97.19 -314.19
L 95.64 -307.64
L 94.13 -313.12
L 92.57 -310.32
L 91.16 -302.85
L 89.6 -302.92
L 88.04 -297.39
L 86.53 -299.98
L 84.97 -305.84
L 83.46 -304.7
L 81.9 -306.69
L 80.35 -308.91
L 78.84 -311.6
L 77.28 -307.21
L 75.77 -314.57
L 74.21 -315.39
L 72.8 -312.71
L 71.24 -315.08
L 69.68 -310.22
L 68.17 -309.33
L 66.61 -310.3
L 65.11 -308.7
L 63.55 -304.77
L 61.99 -305.73
L 60.48 -304.6
L 58.92 -306.66
L 57.41 -302.43
L 55.85 -296.32
z
" style="stroke: #808080"/>
</defs>
<g clip-path="url(#pb86285e883)">
<use href="#m1c2de866d3" x="0" y="600" style="fill: #808080; stroke: #808080"/>
</g>
</g>
<g id="matplotlib.axis_5">
<g id="xtick_25">
<g id="line2d_69">
<path d="M 71.24 334.64
L 71.24 240.5
" clip-path="url(#pb86285e883)" style="fill: none; stroke-dasharray: 0.8,1.32; stroke-dashoffset: -0.55; stroke: #b0b0b0; stroke-width: 0.8"/>
</g>
<g id="line2d_70">
<g>
<use href="#m1504cfccaf" x="71.24" y="334.64" style="stroke: #000000; stroke-width: 0.8"/>
</g>
</g>
</g>
<g id="xtick_26">
<g id="line2d_71">
<path d="M 107.96 334.64
L 107.96 240.5
" clip-path="url(#pb86285e883)" style="fill: none; stroke-dasharray: 0.8,1.32; stroke-dashoffset: -0.55; stroke: #b0b0b0; stroke-width: 0.8"/>
</g>
<g id="line2d_72">
<g>
<use href="#m1504cfccaf" x="107.96" y="334.64" style="stroke: #000000; stroke-width: 0.8"/>
</g>
</g>
</g>
<g id="xtick_27">
<g id="line2d_73">
<path d="M 144.72 334.64
L 144.72 240.5
" clip-path="url(#pb86285e883)" style="fill: none; stroke-dasharray: 0.8,1.32; stroke-dashoffset: -0.55; stroke: #b0b0b0; stroke-width: 0.8"/>
</g>
<g id="line2d_74">
<g>
<use href="#m1504cfccaf" x="144.72" y="334.64" style="stroke: #000000; stroke-width: 0.8"/>
</g>
</g>
</g>
<g id="xtick_28">
<g id="line2d_75">
<path d="M 181.44 334.64
L 181.44 240.5
" clip-path="url(#pb86285e883)" style="fill: none; stroke-dasharray: 0.8,1.32; stroke-dashoffset: -0.55; stroke: #b0b0b0; stroke-width: 0.8"/>
</g>
<g id="line2d_76">
<g>
<use href="#m1504cfccaf" x="181.44" y="334.64" style="stroke: #000000; stroke-width: 0.8"/>
</g>
</g>
</g>
<g id="xtick_29">
<g id="line2d_77">
<path d="M 218.21 334.64
L 218.21 240.5
" clip-path="url(#pb86285e883)" style="fill: none; stroke-dasharray: 0.8,1.32; stroke-dashoffset: -0.55; stroke: #b0b0b0; stroke-width: 0.8"/>
</g>
<g id="line2d_78">
<g>
<use href="#m1504cfccaf" x="218.21" y="334.64" style="stroke: #000000; stroke-width: 0.8"/>
</g>
</g>
</g>
<g id="xtick_30">
<g id="line2d_79">
<path d="M 254.92 334.64
L 254.92 240.5
" clip-path="url(#pb86285e883)" style="fill: none; stroke-dasharray: 0.8,1.32; stroke-dashoffset: -0.55; stroke: #b0b0b0; stroke-width: 0.8"/>
</g>
<g id="line2d_80">
<g>
<use href="#m1504cfccaf" x="254.92" y="334.64" style="stroke: #000000; stroke-width: 0.8"/>
</g>
</g>
</g>
<g id="xtick_31">
<g id="line2d_81">
<path d="M 291.69 334.64
L 291.69 240.5
" clip-path="url(#pb86285e883)" style="fill: none; stroke-dasharray: 0.8,1.32; stroke-dashoffset: -0.55; stroke: #b0b0b0; stroke-width: 0.8"/>
</g>
<g id="line2d_82">
<g>
<use href="#m1504cfccaf" x="291.69" y="334.64" style="stroke: #000000; stroke-width: 0.8"/>
</g>
</g>
</g>
<g id="xtick_32">
<g id="line2d_83">
<path d="M 328.4 334.64
L 328.4 240.5
" clip-path="url(#pb86285e883)" style="fill: none; stroke-dasharray: 0.8,1.32; stroke-dashoffset: -0.55; stroke: #b0b0b0; stroke-width: 0.8"/>
</g>
<g id="line2d_84">
<g>
<use href="#m1504cfccaf" x="328.4" y="334.64" style="stroke: #000000; stroke-width: 0.8"/>
</g>
</g>
</g>
<g id="xtick_33">
<g id="line2d_85">
<path d="M 365.17 334.64
L 365.17 240.5
" clip-path="url(#pb86285e883)" style="fill: none; stroke-dasharray: 0.8,1.32; stroke-dashoffset: -0.55; stroke: #b0b0b0; stroke-width: 0.8"/>
</g>
<g id="line2d_86">
<g>
<use href="#m1504cfccaf" x="365.17" y="334.64" style="stroke: #000000; stroke-width: 0.8"/>
</g>
</g>
</g>
<g id="xtick_34">
<g id="line2d_87">
<path d="M 401.89 334.64
L 401.89 240.5
" clip-path="url(#pb86285e883)" style="fill: none; stroke-dasharray: 0.8,1.32; stroke-dashoffset: -0.55; stroke: #b0b0b0; stroke-width: 0.8"/>
</g>
<g id="line2d_88">
<g>
<use href="#m1504cfccaf" x="401.89" y="334.64" style="stroke: #000000; stroke-width: 0.8"/>
</g>
</g>
</g>
<g id="xtick_35">
<g id="line2d_89">
<path d="M 438.65 334.64
L 438.65 240.5
" clip-path="url(#pb86285e883)" style="fill: none; stroke-dasharray: 0.8,1.32; stroke-dashoffset: -0.55; stroke: #b0b0b0; stroke-width: 0.8"/>
</g>
<g id="line2d_90">
<g>
<use href="#m1504cfccaf" x="438.65" y="334.64" style="stroke: #000000; stroke-width: 0.8"/>
</g>
</g>
</g>
<g id="xtick_36">
<g id="line2d_91">
<path d="M 475.37 334.64
L 475.37 240.5
" clip-path="url(#pb86285e883)" style="fill: none; stroke-dasharray: 0.8,1.32; stroke-dashoffset: -0.55; stroke: #b0b0b0; stroke-width: 0.8"/>
</g>
<g id="line2d_92">
<g>
<use href="#m1504cfccaf" x="475.37" y="334.64" style="stroke: #000000; stroke-width: 0.8"/>
</g>
</g>
</g>
</g>
<g id="matplotlib.axis_6">
<g id="ytick_7">
<g id="line2d_93">
<path d="M 52.88 330.47
L 492.22 330.47
" clip-path="url(#pb86285e883)" style="fill: none; stroke-dasharray: 0.8,1.32; stroke-dashoffset: -0.55; stroke: #b0b0b0; stroke-width: 0.8"/>
</g>
<g id="line2d_94">
<g>
<use href="#m5d545ce8f8" x="52.88" y="330.47" style="stroke: #000000; stroke-width: 0.8"/>
</g>
</g>
<g id="text_11">
<text style="font-size: 10px; font-family: 'DejaVu Sans', sans-serif; text-anchor: end; letter-spacing: -0.07px" x="46.03" y="334.27">−<tspan dx="-0.77">2</tspan></text>
</g>
</g>
<g id="ytick_8">
<g id="line2d_95">
<path d="M 52.88 287.6
L 492.22 287.6
" clip-path="url(#pb86285e883)" style="fill: none; stroke-dasharray: 0.8,1.32; stroke-dashoffset: -0.55; stroke: #b0b0b0; stroke-width: 0.8"/>
</g>
<g id="line2d_96">
<g>
<use href="#m5d545ce8f8" x="52.88" y="287.6" style="stroke: #000000; stroke-width: 0.8"/>
</g>
</g>
<g id="text_12">
<text style="font-size: 10px; font-family: 'DejaVu Sans', sans-serif; text-anchor: end; letter-spacing: -0.07px" x="46.41" y="291.4">0</text>
</g>
</g>
<g id="ytick_9">
<g id="line2d_97">
<path d="M 52.88 244.73
L 492.22 244.73
" clip-path="url(#pb86285e883)" style="fill: none; stroke-dasharray: 0.8,1.32; stroke-dashoffset: -0.55; stroke: #b0b0b0; stroke-width: 0.8"/>
</g>
<g id="line2d_98">
<g>
<use href="#m5d545ce8f8" x="52.88" y="244.73" style="stroke: #000000; stroke-width: 0.8"/>
</g>
</g>
<g id="text_13">
<text style="font-size: 10px; font-family: 'DejaVu Sans', sans-serif; text-anchor: end; letter-spacing: -0.07px" x="46.03" y="248.77">2</text>
</g>
</g>
<g id="text_14">
<text style="font-size: 10px; font-family: 'DejaVu Sans', sans-serif; text-anchor: middle; letter-spacing: -0.07px" x="25.06" y="288.15" transform="rotate(-90 25.06 288.15)">SST anomaly [°C]</text>
</g>
</g>
<g id="line2d_99">
<path d="M 52.88 297.62
L 54.44 325.16
L 55.85 300.42
L 57.41 312.56
L 58.92 300.89
L 60.48 294.82
L 61.99 291.09
L 63.55 286.65
L 65.11 298.09
L 66.61 296.22
L 68.17 296.69
L 69.68 310.69
L 71.24 285.95
L 72.8 273.59
L 74.21 281.29
L 75.77 284.55
L 77.28 285.72
L 78.84 302.76
L 80.35 307.66
L 81.9 297.62
L 83.46 303.69
L 84.97 304.16
L 86.53 295.29
L 88.04 290.16
L 89.6 285.49
L 91.16 269.15
L 92.57 274.99
L 94.13 275.22
L 95.64 274.52
L 97.19 283.62
L 98.7 290.62
L 100.26 299.49
L 101.82 300.19
L 103.33 288.29
L 104.89 281.75
L 106.4 279.89
L 107.96 271.49
L 109.52 272.89
L 110.98 275.69
L 112.53 281.29
L 114.04 288.29
L 115.6 297.16
L 117.11 300.89
L 118.67 303.92
L 120.23 287.35
L 121.74 289.69
L 123.3 297.16
L 124.81 300.07
L 129.33 286.42
L 130.89 294.59
L 132.4 285.95
L 133.96 275.69
L 135.47 280.35
L 137.03 284.79
L 138.59 282.22
L 140.1 278.95
L 141.66 292.96
L 143.16 308.82
L 144.72 307.89
L 146.28 278.95
L 147.69 285.95
L 149.25 296.92
L 150.76 290.62
L 152.32 285.95
L 153.83 278.72
L 155.39 278.49
L 156.95 286.42
L 158.45 286.42
L 160.01 279.42
L 161.52 276.15
L 163.08 258.42
L 164.64 259.35
L 166.05 267.28
L 167.61 279.89
L 169.12 280.35
L 170.68 257.58
L 172.19 263.55
L 173.74 273.82
L 175.3 262.38
L 176.81 266.12
L 178.37 266.82
L 179.88 289.69
L 181.44 283.62
L 183 290.62
L 184.46 285.95
L 186.02 287.35
L 187.53 286.42
L 189.08 285.02
L 190.59 281.29
L 192.15 278.49
L 193.71 276.62
L 195.22 279.89
L 196.78 286.65
L 198.29 280.35
L 199.85 292.96
L 201.41 294.59
L 202.82 273.35
L 204.37 281.29
L 205.88 274.05
L 207.44 273.82
L 208.95 272.89
L 210.51 272.42
L 212.07 272.89
L 213.58 265.42
L 215.14 271.95
L 216.65 265.18
L 218.21 278.02
L 219.76 286.42
L 221.17 275.45
L 222.73 283.62
L 224.24 281.29
L 225.8 284.55
L 227.31 283.62
L 228.87 291.56
L 230.43 287.35
L 231.94 294.36
L 233.5 290.62
L 236.56 280.82
L 238.12 308.36
L 239.53 281.29
L 241.09 265.42
L 242.6 274.05
L 244.16 275.69
L 245.67 270.55
L 247.23 273.82
L 248.79 278.02
L 250.29 284.09
L 251.85 295.76
L 253.36 284.09
L 254.92 283.39
L 257.94 325.16
L 259.5 323.29
L 261.01 304.62
L 262.57 297.62
L 264.08 304.39
L 265.63 293.89
L 267.19 299.49
L 268.7 294.12
L 270.26 286.89
L 271.77 316.76
L 273.33 295.29
L 274.89 276.15
L 276.3 279.42
L 277.86 286.89
L 279.37 290.16
L 280.92 289.69
L 282.43 287.35
L 283.99 281.75
L 285.55 277.79
L 287.06 275.69
L 288.62 272.89
L 290.13 264.02
L 291.69 291.56
L 293.25 289.69
L 294.65 316.29
L 296.21 297.62
L 297.72 284.09
L 299.28 284.55
L 300.79 285.49
L 302.35 296.92
L 303.91 286.42
L 305.42 289.22
L 306.98 306.96
L 308.49 307.42
L 310.05 305.56
L 311.6 291.56
L 313.01 289.69
L 314.57 301.82
L 316.08 291.56
L 317.64 302.06
L 319.15 299.02
L 320.71 298.32
L 322.27 286.42
L 323.78 302.52
L 325.34 292.96
L 326.84 289.69
L 328.4 273.12
L 329.96 271.95
L 331.42 274.29
L 332.98 269.62
L 334.49 276.62
L 336.05 276.62
L 337.56 288.29
L 339.12 296.46
L 340.68 286.89
L 343.74 290.62
L 345.25 280.82
L 346.81 285.95
L 348.37 310.23
L 349.78 313.96
L 351.34 301.36
L 352.85 306.02
L 354.41 297.62
L 355.91 294.36
L 357.47 286.42
L 359.03 290.62
L 360.54 298.09
L 362.1 297.62
L 363.61 307.89
L 365.17 311.63
L 366.73 279.89
L 368.14 312.09
L 369.7 301.82
L 371.2 296.69
L 372.76 293.42
L 374.27 285.49
L 375.83 278.02
L 377.39 284.09
L 378.9 292.96
L 380.46 273.82
L 381.97 269.39
L 383.53 275.69
L 385.09 287.35
L 386.49 282.69
L 388.05 295.52
L 389.56 290.62
L 391.12 284.55
L 392.63 289.69
L 394.19 292.49
L 395.75 300.19
L 397.26 289.22
L 398.82 297.86
L 400.33 279.89
L 401.89 295.76
L 403.44 297.16
L 404.9 310.23
L 406.46 294.82
L 407.97 293.89
L 409.53 292.02
L 411.04 291.09
L 412.6 285.84
L 414.16 285.95
L 415.67 288.75
L 417.23 298.79
L 418.73 276.62
L 420.29 297.62
L 421.85 285.95
L 423.26 272.79
L 424.82 274.75
L 426.33 280.35
L 427.89 288.05
L 429.4 287.35
L 430.96 279.42
L 432.52 282.22
L 434.02 284.09
L 435.58 260.52
L 437.09 271.95
L 438.65 306.49
L 441.62 304.39
L 443.18 286.65
L 444.69 290.62
L 446.25 288.29
L 447.75 276.06
L 449.31 279.89
L 450.87 284.55
L 452.38 285.95
L 453.94 284.09
L 455.45 278.95
L 457.01 258.32
L 458.57 289.22
L 459.98 265.42
L 461.54 270.32
L 463.04 290.62
L 464.6 299.02
L 466.11 304.39
L 467.67 297.62
L 469.23 302.29
L 470.74 296.69
L 472.3 292.96
L 473.81 289.69
L 475.37 272.89
L 476.93 251.65
L 478.38 268.22
L 479.94 264.02
L 481.45 275.31
L 483.01 289.22
L 484.52 287.82
L 486.08 294.59
L 487.64 293.42
L 489.15 279.19
L 492.22 301.82
L 492.22 301.82
" clip-path="url(#pb86285e883)" style="fill: none; stroke: #008000; stroke-width: 1.5; stroke-linecap: square"/>
</g>
<g id="line2d_100">
<path d="M 163.08 258.42
L 164.64 259.35
M 170.68 257.58
L 172.19 263.55
L 173.74 273.82
L 175.3 262.38
L 176.81 266.12
L 178.37 266.82
M 210.51 272.42
L 212.07 272.89
L 213.58 265.42
L 215.14 271.95
M 241.09 265.42
L 242.6 274.05
L 244.16 275.69
L 245.67 270.55
L 247.23 273.82
M 459.98 265.42
L 461.54 270.32
M 475.37 272.89
L 476.93 251.65
L 478.38 268.22
L 479.94 264.02
L 481.45 275.31
M 489.15 279.19
" clip-path="url(#pb86285e883)" style="fill: none; stroke: #ff0000; stroke-width: 1.5; stroke-linecap: square"/>
<g clip-path="url(#pb86285e883)">
<use href="#m608ba95eef" x="163.08" y="258.42" style="fill: #ff0000; stroke: #ff0000"/>
<use href="#m608ba95eef" x="164.64" y="259.35" style="fill: #ff0000; stroke: #ff0000"/>
<use href="#m608ba95eef" x="170.68" y="257.58" style="fill: #ff0000; stroke: #ff0000"/>
<use href="#m608ba95eef" x="172.19" y="263.55" style="fill: #ff0000; stroke: #ff0000"/>
<use href="#m608ba95eef" x="173.74" y="273.82" style="fill: #ff0000; stroke: #ff0000"/>
<use href="#m608ba95eef" x="175.3" y="262.38" style="fill: #ff0000; stroke: #ff0000"/>
<use href="#m608ba95eef" x="176.81" y="266.12" style="fill: #ff0000; stroke: #ff0000"/>
<use href="#m608ba95eef" x="178.37" y="266.82" style="fill: #ff0000; stroke: #ff0000"/>
<use href="#m608ba95eef" x="205.88" y="274.05" style="fill: #ff0000; stroke: #ff0000"/>
<use href="#m608ba95eef" x="210.51" y="272.42" style="fill: #ff0000; stroke: #ff0000"/>
<use href="#m608ba95eef" x="212.07" y="272.89" style="fill: #ff0000; stroke: #ff0000"/>
<use href="#m608ba95eef" x="213.58" y="265.42" style="fill: #ff0000; stroke: #ff0000"/>
<use href="#m608ba95eef" x="215.14" y="271.95" style="fill: #ff0000; stroke: #ff0000"/>
<use href="#m608ba95eef" x="218.21" y="265.18" style="fill: #ff0000; stroke: #ff0000"/>
<use href="#m608ba95eef" x="241.09" y="265.42" style="fill: #ff0000; stroke: #ff0000"/>
<use href="#m608ba95eef" x="242.6" y="274.05" style="fill: #ff0000; stroke: #ff0000"/>
<use href="#m608ba95eef" x="244.16" y="275.69" style="fill: #ff0000; stroke: #ff0000"/>
<use href="#m608ba95eef" x="245.67" y="270.55" style="fill: #ff0000; stroke: #ff0000"/>
<use href="#m608ba95eef" x="247.23" y="273.82" style="fill: #ff0000; stroke: #ff0000"/>
<use href="#m608ba95eef" x="285.55" y="277.79" style="fill: #ff0000; stroke: #ff0000"/>
<use href="#m608ba95eef" x="290.13" y="264.02" style="fill: #ff0000; stroke: #ff0000"/>
<use href="#m608ba95eef" x="328.4" y="273.12" style="fill: #ff0000; stroke: #ff0000"/>
<use href="#m608ba95eef" x="336.05" y="276.62" style="fill: #ff0000; stroke: #ff0000"/>
<use href="#m608ba95eef" x="381.97" y="269.39" style="fill: #ff0000; stroke: #ff0000"/>
<use href="#m608ba95eef" x="423.26" y="272.79" style="fill: #ff0000; stroke: #ff0000"/>
<use href="#m608ba95eef" x="435.58" y="260.52" style="fill: #ff0000; stroke: #ff0000"/>
<use href="#m608ba95eef" x="447.75" y="276.06" style="fill: #ff0000; stroke: #ff0000"/>
<use href="#m608ba95eef" x="457.01" y="258.32" style="fill: #ff0000; stroke: #ff0000"/>
<use href="#m608ba95eef" x="459.98" y="265.42" style="fill: #ff0000; stroke: #ff0000"/>
<use href="#m608ba95eef" x="461.54" y="270.32" style="fill: #ff0000; stroke: #ff0000"/>
<use href="#m608ba95eef" x="475.37" y="272.89" style="fill: #ff0000; stroke: #ff0000"/>
<use href="#m608ba95eef" x="476.93" y="251.65" style="fill: #ff0000; stroke: #ff0000"/>
<use href="#m608ba95eef" x="478.38" y="268.22" style="fill: #ff0000; stroke: #ff0000"/>
<use href="#m608ba95eef" x="479.94" y="264.02" style="fill: #ff0000; stroke: #ff0000"/>
<use href="#m608ba95eef" x="481.45" y="275.31" style="fill: #ff0000; stroke: #ff0000"/>
<use href="#m608ba95eef" x="489.15" y="279.19" style="fill: #ff0000; stroke: #ff0000"/>
</g>
</g>
<g id="line2d_101">
<path d="M 55.85 308.82
L 57.41 302.29
L 58.92 297.62
L 60.48 299.26
L 61.99 297.86
L 63.55 298.56
L 65.11 294.36
L 66.61 292.49
L 68.17 293.89
L 69.68 293.42
L 71.24 288.99
L 72.8 291.79
L 74.21 288.75
L 75.77 289.22
L 77.28 296.22
L 78.84 292.26
L 80.35 294.59
L 81.9 296.46
L 83.46 298.09
L 84.97 298.09
L 86.53 305.09
L 88.04 308.82
L 89.6 302.76
L 91.16 302.29
L 92.57 294.82
L 94.13 292.02
L 95.64 296.22
L 97.19 289.46
L 98.7 289.22
L 100.26 294.82
L 101.82 298.56
L 103.33 296.46
L 104.89 288.29
L 106.4 290.62
L 107.96 281.29
L 109.52 275.22
L 110.98 283.15
L 112.53 279.19
L 114.04 290.62
L 115.6 286.89
L 117.11 289.69
L 118.67 290.62
L 120.23 292.02
L 121.74 293.66
L 123.3 283.62
L 124.81 282.69
L 126.37 297.16
L 127.93 289.22
L 129.33 294.59
L 130.89 289.92
L 132.4 292.96
L 133.96 298.32
L 135.47 291.09
L 137.03 286.42
L 138.59 289.69
L 143.16 305.56
L 144.72 315.36
L 147.69 295.52
L 149.25 295.76
L 150.76 292.49
L 152.32 290.16
L 156.95 277.55
L 158.45 276.39
L 161.52 270.32
L 163.08 266.58
L 164.64 266.35
L 166.05 262.85
L 167.61 260.98
L 169.12 261.22
L 170.68 270.32
L 172.19 268.92
L 173.74 269.62
L 175.3 272.42
L 176.81 274.29
L 178.37 271.02
L 179.88 262.15
L 181.44 263.32
L 183 275.69
L 184.46 285.25
L 186.02 280.12
L 187.53 281.29
L 189.08 282.69
L 190.59 283.15
L 193.71 275.45
L 195.22 276.39
L 196.78 275.69
L 198.29 275.22
L 199.85 282.22
L 201.41 280.12
L 202.82 288.99
L 204.37 279.42
L 205.88 282.92
L 207.44 273.59
L 208.95 278.02
L 210.51 272.89
L 212.07 276.62
L 213.58 275.22
L 215.14 270.09
L 216.65 262.48
L 218.21 265.42
L 219.76 278.95
L 221.17 279.42
L 222.73 284.09
L 224.24 286.42
L 225.8 285.72
L 227.31 285.95
L 228.87 284.32
L 230.43 283.85
L 231.94 287.35
L 233.5 293.42
L 235 303.69
L 236.56 297.62
L 238.12 292.02
L 239.53 295.29
L 241.09 294.59
L 242.6 282.22
L 244.16 283.39
L 245.67 280.82
L 247.23 281.52
L 248.79 281.52
L 250.29 283.62
L 251.85 286.42
L 253.36 291.56
L 254.92 292.96
L 256.48 282.92
L 257.94 292.96
L 259.5 301.36
L 261.01 301.82
L 262.57 296.22
L 264.08 291.79
L 265.63 292.49
L 267.19 291.32
L 268.7 293.19
L 270.26 298.09
L 271.77 296.46
L 273.33 307.66
L 274.89 307.89
L 276.3 296.22
L 277.86 292.96
L 279.37 291.56
L 280.92 289.92
L 282.43 292.02
L 283.99 288.52
L 285.55 286.89
L 287.06 281.29
L 288.62 280.35
L 290.13 277.09
L 291.69 277.32
L 293.25 287.82
L 294.65 277.09
L 296.21 290.16
L 297.72 289.69
L 299.28 287.35
L 300.79 289.22
L 302.35 290.62
L 303.91 289.46
L 305.42 292.02
L 306.98 292.96
L 308.49 288.29
L 310.05 297.62
L 311.6 295.29
L 313.01 298.56
L 314.57 292.49
L 316.08 291.09
L 317.64 290.86
L 319.15 290.39
L 320.71 291.56
L 322.27 288.99
L 323.78 287.82
L 325.34 284.32
L 326.84 284.32
L 328.4 276.15
L 329.96 270.79
L 331.42 274.29
L 332.98 279.89
L 334.49 276.15
L 336.05 283.39
L 337.56 282.22
L 339.12 286.42
L 340.68 289.22
L 342.18 289.69
L 343.74 289.22
L 345.25 287.82
L 346.81 285.95
L 348.37 284.55
L 349.78 285.49
L 351.34 285.49
L 352.85 289.92
L 354.41 291.32
L 355.91 293.42
L 357.47 293.42
L 359.03 291.09
L 360.54 289.22
L 362.1 290.62
L 363.61 297.16
L 365.17 303.22
L 366.73 302.29
L 368.14 293.66
L 369.7 293.19
L 371.2 289.46
L 372.76 288.75
L 374.27 286.65
L 375.83 288.75
L 377.39 286.42
L 378.9 284.55
L 380.46 280.35
L 381.97 278.02
L 383.53 263.32
L 385.09 270.09
L 386.49 272.42
L 388.05 280.35
L 389.56 290.16
L 391.12 288.99
L 392.63 288.52
L 394.19 290.16
L 395.75 291.56
L 397.26 291.79
L 398.82 289.22
L 400.33 289.46
L 401.89 281.52
L 403.44 283.39
L 404.9 289.69
L 406.46 295.76
L 407.97 291.09
L 409.53 285.72
L 411.04 290.16
L 412.6 290.27
L 415.67 285.49
L 417.23 287.35
L 420.29 300.19
L 421.85 292.49
L 423.26 284.09
L 424.82 280.35
L 426.33 278.72
L 427.89 283.15
L 429.4 284.55
L 430.96 286.89
L 432.52 285.49
L 434.02 285.02
L 435.58 288.29
L 437.09 281.29
L 438.65 274.99
L 440.21 287.82
L 441.62 286.42
L 443.18 295.29
L 444.69 286.89
L 446.25 289.22
L 447.75 286.42
L 449.31 285.95
L 450.87 286.65
L 452.38 287.12
L 453.94 291.09
L 455.45 294.36
L 457.01 286.42
L 458.57 281.52
L 459.98 288.75
L 461.54 285.49
L 463.04 285.25
L 464.6 290.62
L 466.11 294.36
L 467.67 297.16
L 469.23 296.46
L 470.74 295.99
L 472.3 299.49
L 473.81 300.42
L 475.37 297.62
L 476.93 295.29
L 478.38 286.89
L 479.94 282.69
L 481.45 278.95
L 483.01 281.99
L 484.52 287.82
L 486.08 283.15
L 487.64 289.69
L 489.15 288.29
L 492.22 284.79
L 492.22 284.79
" clip-path="url(#pb86285e883)" style="fill: none; stroke: #000000; stroke-width: 1.5; stroke-linecap: square"/>
</g>
<g id="line2d_102">
<path d="M 160.01 273.35
L 161.52 270.32
L 163.08 266.58
L 164.64 266.35
L 166.05 262.85
L 167.61 260.98
L 169.12 261.22
L 170.68 270.32
L 172.19 268.92
L 173.74 269.62
L 175.3 272.42
L 176.81 274.29
L 178.37 271.02
L 179.88 262.15
L 181.44 263.32
M 192.15 279.42
L 193.71 275.45
L 195.22 276.39
L 196.78 276.15
M 207.44 273.59
L 208.95 278.02
L 210.51 272.89
L 212.07 276.62
L 213.58 275.22
L 215.14 270.09
L 216.65 262.48
M 329.96 270.79
L 331.42 274.29
M 383.53 263.32
L 385.09 270.32
L 386.49 272.42
M 481.45 278.95
L 483.01 281.99
L 483.01 281.99
" clip-path="url(#pb86285e883)" style="fill: none; stroke: #00ffff; stroke-width: 1.5; stroke-linecap: square"/>
<g clip-path="url(#pb86285e883)">
<use href="#md41d3c3caa" x="112.53" y="279.19" style="fill: #00ffff; stroke: #00ffff"/>
<use href="#md41d3c3caa" x="160.01" y="273.35" style="fill: #00ffff; stroke: #00ffff"/>
<use href="#md41d3c3caa" x="161.52" y="270.32" style="fill: #00ffff; stroke: #00ffff"/>
<use href="#md41d3c3caa" x="163.08" y="266.58" style="fill: #00ffff; stroke: #00ffff"/>
<use href="#md41d3c3caa" x="164.64" y="266.35" style="fill: #00ffff; stroke: #00ffff"/>
<use href="#md41d3c3caa" x="166.05" y="262.85" style="fill: #00ffff; stroke: #00ffff"/>
<use href="#md41d3c3caa" x="167.61" y="260.98" style="fill: #00ffff; stroke: #00ffff"/>
<use href="#md41d3c3caa" x="169.12" y="261.22" style="fill: #00ffff; stroke: #00ffff"/>
<use href="#md41d3c3caa" x="170.68" y="270.32" style="fill: #00ffff; stroke: #00ffff"/>
<use href="#md41d3c3caa" x="172.19" y="268.92" style="fill: #00ffff; stroke: #00ffff"/>
<use href="#md41d3c3caa" x="173.74" y="269.62" style="fill: #00ffff; stroke: #00ffff"/>
<use href="#md41d3c3caa" x="175.3" y="272.42" style="fill: #00ffff; stroke: #00ffff"/>
<use href="#md41d3c3caa" x="176.81" y="274.29" style="fill: #00ffff; stroke: #00ffff"/>
<use href="#md41d3c3caa" x="178.37" y="271.02" style="fill: #00ffff; stroke: #00ffff"/>
<use href="#md41d3c3caa" x="179.88" y="262.15" style="fill: #00ffff; stroke: #00ffff"/>
<use href="#md41d3c3caa" x="181.44" y="263.32" style="fill: #00ffff; stroke: #00ffff"/>
<use href="#md41d3c3caa" x="192.15" y="279.42" style="fill: #00ffff; stroke: #00ffff"/>
<use href="#md41d3c3caa" x="193.71" y="275.45" style="fill: #00ffff; stroke: #00ffff"/>
<use href="#md41d3c3caa" x="195.22" y="276.39" style="fill: #00ffff; stroke: #00ffff"/>
<use href="#md41d3c3caa" x="196.78" y="276.15" style="fill: #00ffff; stroke: #00ffff"/>
<use href="#md41d3c3caa" x="204.37" y="279.42" style="fill: #00ffff; stroke: #00ffff"/>
<use href="#md41d3c3caa" x="207.44" y="273.59" style="fill: #00ffff; stroke: #00ffff"/>
<use href="#md41d3c3caa" x="208.95" y="278.02" style="fill: #00ffff; stroke: #00ffff"/>
<use href="#md41d3c3caa" x="210.51" y="272.89" style="fill: #00ffff; stroke: #00ffff"/>
<use href="#md41d3c3caa" x="212.07" y="276.62" style="fill: #00ffff; stroke: #00ffff"/>
<use href="#md41d3c3caa" x="213.58" y="275.22" style="fill: #00ffff; stroke: #00ffff"/>
<use href="#md41d3c3caa" x="215.14" y="270.09" style="fill: #00ffff; stroke: #00ffff"/>
<use href="#md41d3c3caa" x="216.65" y="262.48" style="fill: #00ffff; stroke: #00ffff"/>
<use href="#md41d3c3caa" x="245.67" y="280.82" style="fill: #00ffff; stroke: #00ffff"/>
<use href="#md41d3c3caa" x="329.96" y="270.79" style="fill: #00ffff; stroke: #00ffff"/>
<use href="#md41d3c3caa" x="331.42" y="274.29" style="fill: #00ffff; stroke: #00ffff"/>
<use href="#md41d3c3caa" x="334.49" y="276.15" style="fill: #00ffff; stroke: #00ffff"/>
<use href="#md41d3c3caa" x="383.53" y="263.32" style="fill: #00ffff; stroke: #00ffff"/>
<use href="#md41d3c3caa" x="385.09" y="270.32" style="fill: #00ffff; stroke: #00ffff"/>
<use href="#md41d3c3caa" x="386.49" y="272.42" style="fill: #00ffff; stroke: #00ffff"/>
<use href="#md41d3c3caa" x="481.45" y="278.95" style="fill: #00ffff; stroke: #00ffff"/>
<use href="#md41d3c3caa" x="483.01" y="281.99" style="fill: #00ffff; stroke: #00ffff"/>
</g>
</g>
<g id="patch_13">
<path d="M 52.88 334.64
L 52.88 240.5
" style="fill: none; stroke: #000000; stroke-width: 0.8; stroke-linejoin: miter; stroke-linecap: square"/>
</g>
<g id="patch_14">
<path d="M 492.22 334.64
L 492.22 240.5
" style="fill: none; stroke: #000000; stroke-width: 0.8; stroke-linejoin: miter; stroke-linecap: square"/>
</g>
<g id="patch_15">
<path d="M 52.88 334.64
L 492.22 334.64
" style="fill: none; stroke: #000000; stroke-width: 0.8; stroke-linejoin: miter; stroke-linecap: square"/>
</g>
<g id="patch_16">
<path d="M 52.88 240.5
L 492.22 240.5
" style="fill: none; stroke: #000000; stroke-width: 0.8; stroke-linejoin: miter; stroke-linecap: square"/>
</g>
<g id="text_15">
<text style="font-size: 10px; font-family: 'DejaVu Sans', sans-serif; text-anchor: middle; letter-spacing: -0.07px" x="272.55" y="235.01">Golden Bay (ACC = 0.47, SEDI = 0.55, TP = 16, FP = 20, TN = 229, FN = 20)</text>
</g>
</g>
<g id="axes_4">
<g id="patch_17">
<path d="M 52.88 447.29
L 492.22 447.29
L 492.22 353.44
L 52.88 353.44
z
" style="fill: #ffffff"/>
</g>
<g id="FillBetweenPolyCollection_4">
<defs>
<path id="m66c2b4eaa6" d="M 55.85 -188
L 55.85 -174.34
L 57.41 -182.14
L 58.92 -188.53
L 60.48 -185.66
L 61.99 -188.62
L 63.55 -187.85
L 65.11 -191.75
L 66.61 -192.14
L 68.17 -189.74
L 69.68 -189.31
L 71.24 -191.92
L 72.8 -189.86
L 74.21 -192.74
L 75.77 -193.99
L 77.28 -187.77
L 78.84 -191.18
L 80.35 -189.23
L 81.9 -187.55
L 83.46 -185.17
L 84.97 -185.59
L 86.53 -179.01
L 88.04 -175.23
L 89.6 -180.73
L 91.16 -180.39
L 92.57 -187.58
L 94.13 -190.11
L 95.64 -189.99
L 97.19 -196.64
L 98.7 -196.71
L 100.26 -192.35
L 101.82 -189.38
L 103.33 -189.07
L 104.89 -195.05
L 106.4 -191.7
L 107.96 -201.39
L 109.52 -207.57
L 110.98 -196.08
L 112.53 -200.84
L 114.04 -193
L 115.6 -198.7
L 117.11 -194.17
L 118.67 -194.55
L 120.23 -193.76
L 121.74 -191.41
L 123.3 -199.1
L 124.81 -199.09
L 126.37 -185.17
L 127.93 -193.3
L 129.33 -188.07
L 130.89 -192.41
L 132.4 -189.99
L 133.96 -186.57
L 135.47 -193.42
L 137.03 -197.7
L 138.59 -194.2
L 140.1 -189.06
L 141.66 -182.99
L 143.16 -177.38
L 144.72 -167.34
L 146.28 -177.37
L 147.69 -184.61
L 149.25 -183.46
L 150.76 -188.62
L 152.32 -191.75
L 153.83 -198.15
L 155.39 -202.3
L 156.95 -205.98
L 158.45 -205.93
L 160.01 -207.28
L 161.52 -210.5
L 163.08 -212.78
L 164.64 -213.66
L 166.05 -217.01
L 167.61 -217.1
L 169.12 -217.42
L 170.68 -208.87
L 172.19 -211.03
L 173.74 -209.93
L 175.3 -208.27
L 176.81 -206.62
L 178.37 -209.4
L 179.88 -216.85
L 181.44 -215.95
L 183 -206.64
L 184.46 -196.87
L 186.02 -202.71
L 187.53 -200.83
L 189.08 -198.95
L 190.59 -198.24
L 192.15 -201.89
L 193.71 -206.25
L 195.22 -207.33
L 196.78 -206.82
L 198.29 -206.07
L 199.85 -199.32
L 201.41 -201.68
L 202.82 -193.76
L 204.37 -202.74
L 205.88 -200.04
L 207.44 -208.09
L 208.95 -203.99
L 210.51 -207.83
L 212.07 -204.66
L 213.58 -204.53
L 215.14 -209.07
L 216.65 -215.94
L 218.21 -213.24
L 219.76 -203.07
L 221.17 -202.94
L 222.73 -199.07
L 224.24 -196.82
L 225.8 -197.38
L 227.31 -197.46
L 228.87 -200.81
L 230.43 -200.9
L 231.94 -197.46
L 233.5 -189.82
L 235 -181.01
L 236.56 -185.26
L 238.12 -190.21
L 239.53 -188.16
L 241.09 -186.93
L 242.6 -197.83
L 244.16 -198.88
L 245.67 -202.73
L 247.23 -200.37
L 248.79 -201.05
L 250.29 -199.16
L 251.85 -196.57
L 253.36 -192.11
L 254.92 -189.96
L 256.48 -196.45
L 257.94 -188.35
L 259.5 -180.94
L 261.01 -181.24
L 262.57 -185.96
L 264.08 -190.44
L 265.63 -190.24
L 267.19 -191.22
L 268.7 -188.23
L 270.26 -184.07
L 271.77 -186.57
L 273.33 -176.44
L 274.89 -177.29
L 276.3 -188.16
L 277.86 -190.24
L 279.37 -193.19
L 280.92 -192.39
L 282.43 -191.84
L 283.99 -195.1
L 285.55 -196.27
L 287.06 -201.17
L 288.62 -201.17
L 290.13 -204.21
L 291.69 -204.11
L 293.25 -195.16
L 294.65 -205.66
L 296.21 -193.72
L 297.72 -194.23
L 299.28 -198.25
L 300.79 -195.13
L 302.35 -191.3
L 303.91 -191.21
L 305.42 -187.15
L 306.98 -185.43
L 308.49 -190.38
L 310.05 -186
L 311.6 -184.63
L 313.01 -182.24
L 314.57 -189.88
L 316.08 -190.28
L 317.64 -191.86
L 319.15 -192.27
L 320.71 -191.75
L 322.27 -194.5
L 323.78 -195.14
L 325.34 -198.59
L 326.84 -197.84
L 328.4 -203.62
L 329.96 -208.47
L 331.42 -206.01
L 332.98 -201.45
L 334.49 -205.48
L 336.05 -200.64
L 337.56 -200.24
L 339.12 -196.11
L 340.68 -193.02
L 342.18 -192.86
L 343.74 -194.46
L 345.25 -195.48
L 346.81 -197.44
L 348.37 -199.17
L 349.78 -197.86
L 351.34 -195.78
L 352.85 -190.2
L 354.41 -188.36
L 355.91 -183.48
L 357.47 -184.23
L 359.03 -188.95
L 360.54 -192.5
L 362.1 -191.49
L 363.61 -186.29
L 365.17 -181.32
L 366.73 -181.48
L 368.14 -190.04
L 369.7 -190.2
L 371.2 -191.41
L 372.76 -190.98
L 374.27 -192.41
L 375.83 -190.82
L 377.39 -191.55
L 378.9 -192.99
L 380.46 -196.06
L 381.97 -197.96
L 383.53 -208.5
L 385.09 -202.26
L 386.49 -200.23
L 388.05 -195.44
L 389.56 -188.32
L 391.12 -190.73
L 392.63 -195.47
L 394.19 -195.36
L 395.75 -193.62
L 397.26 -193.74
L 398.82 -194.2
L 400.33 -193.03
L 401.89 -198.63
L 403.44 -198.23
L 404.9 -192.92
L 406.46 -189.48
L 407.97 -194.04
L 409.53 -199.07
L 411.04 -193.08
L 412.6 -193.95
L 414.16 -197.04
L 415.67 -199.78
L 417.23 -197.38
L 418.73 -191.49
L 420.29 -186.29
L 421.85 -193.03
L 423.26 -199.3
L 424.82 -202.41
L 426.33 -203.41
L 427.89 -199.74
L 429.4 -200.74
L 430.96 -197.55
L 432.52 -199.26
L 434.02 -200.27
L 435.58 -197.54
L 437.09 -202.98
L 438.65 -207.96
L 440.21 -197.28
L 441.62 -195.74
L 443.18 -186.97
L 444.69 -196.53
L 446.25 -197.22
L 447.75 -198.93
L 449.31 -200.54
L 450.87 -197.25
L 452.38 -196.06
L 453.94 -193.01
L 455.45 -189.25
L 457.01 -196.06
L 458.57 -200.53
L 459.98 -193.28
L 461.54 -198.16
L 463.04 -199.07
L 464.6 -194.69
L 466.11 -191.24
L 467.67 -187.32
L 469.23 -186.9
L 470.74 -186.7
L 472.3 -182.78
L 473.81 -182.35
L 475.37 -184.94
L 476.93 -187.99
L 478.38 -194.39
L 479.94 -198.92
L 481.45 -198.56
L 483.01 -198.54
L 484.52 -196.66
L 486.08 -202.24
L 487.64 -195.64
L 489.15 -197.22
L 490.71 -197.12
L 492.22 -198.2
L 492.22 -208.01
L 492.22 -208.01
L 490.71 -203.95
L 489.15 -201.06
L 487.64 -200.77
L 486.08 -208.64
L 484.52 -206.76
L 483.01 -212.34
L 481.45 -216.06
L 479.94 -214.29
L 478.38 -207.62
L 476.93 -199.09
L 475.37 -195.61
L 473.81 -192.59
L 472.3 -192.16
L 470.74 -195.24
L 469.23 -194.58
L 467.67 -194.15
L 466.11 -198.64
L 464.6 -202.66
L 463.04 -207.61
L 461.54 -207.12
L 459.98 -202.67
L 458.57 -210.35
L 457.01 -205.02
L 455.45 -197.36
L 453.94 -200.6
L 452.38 -203.15
L 450.87 -203.83
L 449.31 -206.6
L 447.75 -204.48
L 446.25 -206.19
L 444.69 -210.61
L 443.18 -206.17
L 441.62 -210.47
L 440.21 -207.53
L 438.65 -216.92
L 437.09 -211.16
L 435.58 -204.94
L 434.02 -206.88
L 432.52 -205.09
L 430.96 -202.6
L 429.4 -205.01
L 427.89 -205.07
L 426.33 -209.81
L 424.82 -209.87
L 423.26 -207.84
L 421.85 -199.65
L 420.29 -190.98
L 418.73 -196.52
L 417.23 -202.76
L 415.67 -205.5
L 414.16 -203.1
L 412.6 -200.36
L 411.04 -203.33
L 409.53 -207.61
L 407.97 -202.37
L 406.46 -197.59
L 404.9 -203.02
L 403.44 -210.32
L 401.89 -212.71
L 400.33 -203.84
L 398.82 -201.74
L 397.26 -198.01
L 395.75 -198.59
L 394.19 -201.05
L 392.63 -201.87
L 391.12 -200.55
L 389.56 -201.55
L 388.05 -211.23
L 386.49 -218.58
L 385.09 -221.68
L 383.53 -228.98
L 381.97 -217.12
L 380.46 -213.89
L 378.9 -209.49
L 377.39 -206.73
L 375.83 -204.66
L 374.27 -204.93
L 372.76 -202.17
L 371.2 -201.27
L 369.7 -198.74
L 368.14 -198.43
L 366.73 -189.73
L 365.17 -189.42
L 363.61 -194.25
L 362.1 -199.32
L 360.54 -200.18
L 359.03 -197.2
L 357.47 -193.05
L 355.91 -192.86
L 354.41 -197.32
L 352.85 -198.74
L 351.34 -203.89
L 349.78 -205.55
L 348.37 -206.11
L 346.81 -203.63
L 345.25 -200.93
L 343.74 -199.15
L 342.18 -198.41
L 340.68 -199.42
L 339.12 -203.1
L 337.56 -207.84
L 336.05 -208.84
L 334.49 -214.27
L 332.98 -210.83
L 331.42 -215.61
L 329.96 -218.28
L 328.4 -213.33
L 326.84 -207.44
L 325.34 -208.09
L 323.78 -204.53
L 322.27 -203.78
L 320.71 -200.93
L 319.15 -201.34
L 317.64 -200.82
L 316.08 -200.53
L 314.57 -201.4
L 313.01 -195.04
L 311.6 -198.71
L 310.05 -194.54
L 308.49 -202.76
L 306.98 -201.65
L 305.42 -201.32
L 303.91 -203.33
L 302.35 -201.37
L 300.79 -203.15
L 299.28 -204.23
L 297.72 -200.78
L 296.21 -200.83
L 294.65 -213.34
L 293.25 -203.12
L 291.69 -212.37
L 290.13 -212.74
L 288.62 -209.71
L 287.06 -209.71
L 285.55 -204.81
L 283.99 -203.64
L 282.43 -200.37
L 280.92 -201.21
L 279.37 -202.29
L 277.86 -199.63
L 276.3 -197.98
L 274.89 -187.39
L 273.33 -186.83
L 271.77 -197.24
L 270.26 -194.6
L 268.7 -198.61
L 267.19 -201.46
L 265.63 -199.63
L 264.08 -198.97
L 262.57 -193.64
L 261.01 -187.64
L 259.5 -189.33
L 257.94 -198.73
L 256.48 -208.83
L 254.92 -200.85
L 253.36 -201.5
L 251.85 -205.44
L 250.29 -207.52
L 248.79 -208.9
L 247.23 -207.71
L 245.67 -209.55
L 244.16 -208.27
L 242.6 -209.78
L 241.09 -197.81
L 239.53 -197.98
L 238.12 -200.6
L 236.56 -196.21
L 235 -192.53
L 233.5 -200.06
L 231.94 -206.42
L 230.43 -208.58
L 228.87 -208.67
L 227.31 -205.48
L 225.8 -205.57
L 224.24 -205.19
L 222.73 -207.61
L 221.17 -213.07
L 219.76 -214.81
L 218.21 -226.58
L 216.65 -230.88
L 215.14 -222.81
L 213.58 -217.08
L 212.07 -216.02
L 210.51 -217.99
L 208.95 -212.95
L 207.44 -217.26
L 205.88 -209.43
L 204.37 -212.34
L 202.82 -203.58
L 201.41 -211.07
L 199.85 -208.29
L 198.29 -214.61
L 196.78 -213.86
L 195.22 -212.88
L 193.71 -213.5
L 192.15 -210.85
L 190.59 -208.91
L 189.08 -208.2
L 187.53 -208.65
L 186.02 -209.11
L 184.46 -203.27
L 183 -214.04
L 181.44 -224.34
L 179.88 -226.24
L 178.37 -219.22
L 176.81 -216.86
L 175.3 -218.94
L 173.74 -221.02
L 172.19 -220.85
L 170.68 -217.41
L 169.12 -226.6
L 167.61 -226.92
L 166.05 -227.47
L 164.64 -224.76
L 163.08 -222.84
L 161.52 -219.52
L 160.01 -215.27
L 158.45 -212.88
L 156.95 -211.9
L 155.39 -207.18
L 153.83 -201.99
L 152.32 -200.93
L 150.76 -203.13
L 149.25 -197.55
L 147.69 -198.27
L 146.28 -191.03
L 144.72 -181
L 143.16 -189.16
L 141.66 -192.89
L 140.1 -197.08
L 138.59 -200.34
L 137.03 -201.97
L 135.47 -199.25
L 133.96 -193.97
L 132.4 -198.95
L 130.89 -201.66
L 129.33 -197.6
L 127.93 -203.11
L 126.37 -195.84
L 124.81 -208.05
L 123.3 -206.64
L 121.74 -197.53
L 120.23 -198.45
L 118.67 -199.53
L 117.11 -199.44
L 115.6 -204.25
L 114.04 -201.54
L 112.53 -212.37
L 110.98 -210.59
L 109.52 -213.11
L 107.96 -209.49
L 106.4 -202.37
L 104.89 -204.16
L 103.33 -196.61
L 101.82 -195.36
L 100.26 -198.46
L 98.7 -202.97
L 97.19 -203.04
L 95.64 -198.95
L 94.13 -201.63
L 92.57 -199.96
L 91.16 -193.62
L 89.6 -193.74
L 88.04 -188.04
L 86.53 -190.79
L 84.97 -196.35
L 83.46 -194.9
L 81.9 -196.26
L 80.35 -196.91
L 78.84 -198.23
L 77.28 -194.17
L 75.77 -201.95
L 74.21 -202.27
L 72.8 -200.95
L 71.24 -202.16
L 69.68 -198.7
L 68.17 -198.27
L 66.61 -200.53
L 65.11 -200
L 63.55 -195.96
L 61.99 -196.59
L 60.48 -193.48
L 58.92 -196.21
L 57.41 -192.8
L 55.85 -188
z
" style="stroke: #808080"/>
</defs>
<g clip-path="url(#p6b84881da8)">
<use href="#m66c2b4eaa6" x="0" y="600" style="fill: #808080; stroke: #808080"/>
</g>
</g>
<g id="matplotlib.axis_7">
<g id="xtick_37">
<g id="line2d_103">
<path d="M 71.24 447.29
L 71.24 353.44
" clip-path="url(#p6b84881da8)" style="fill: none; stroke-dasharray: 0.8,1.32; stroke-dashoffset: -0.55; stroke: #b0b0b0; stroke-width: 0.8"/>
</g>
<g id="line2d_104">
<g>
<use href="#m1504cfccaf" x="71.24" y="447.29" style="stroke: #000000; stroke-width: 0.8"/>
</g>
</g>
</g>
<g id="xtick_38">
<g id="line2d_105">
<path d="M 107.96 447.29
L 107.96 353.44
" clip-path="url(#p6b84881da8)" style="fill: none; stroke-dasharray: 0.8,1.32; stroke-dashoffset: -0.55; stroke: #b0b0b0; stroke-width: 0.8"/>
</g>
<g id="line2d_106">
<g>
<use href="#m1504cfccaf" x="107.96" y="447.29" style="stroke: #000000; stroke-width: 0.8"/>
</g>
</g>
</g>
<g id="xtick_39">
<g id="line2d_107">
<path d="M 144.72 447.29
L 144.72 353.44
" clip-path="url(#p6b84881da8)" style="fill: none; stroke-dasharray: 0.8,1.32; stroke-dashoffset: -0.55; stroke: #b0b0b0; stroke-width: 0.8"/>
</g>
<g id="line2d_108">
<g>
<use href="#m1504cfccaf" x="144.72" y="447.29" style="stroke: #000000; stroke-width: 0.8"/>
</g>
</g>
</g>
<g id="xtick_40">
<g id="line2d_109">
<path d="M 181.44 447.29
L 181.44 353.44
" clip-path="url(#p6b84881da8)" style="fill: none; stroke-dasharray: 0.8,1.32; stroke-dashoffset: -0.55; stroke: #b0b0b0; stroke-width: 0.8"/>
</g>
<g id="line2d_110">
<g>
<use href="#m1504cfccaf" x="181.44" y="447.29" style="stroke: #000000; stroke-width: 0.8"/>
</g>
</g>
</g>
<g id="xtick_41">
<g id="line2d_111">
<path d="M 218.21 447.29
L 218.21 353.44
" clip-path="url(#p6b84881da8)" style="fill: none; stroke-dasharray: 0.8,1.32; stroke-dashoffset: -0.55; stroke: #b0b0b0; stroke-width: 0.8"/>
</g>
<g id="line2d_112">
<g>
<use href="#m1504cfccaf" x="218.21" y="447.29" style="stroke: #000000; stroke-width: 0.8"/>
</g>
</g>
</g>
<g id="xtick_42">
<g id="line2d_113">
<path d="M 254.92 447.29
L 254.92 353.44
" clip-path="url(#p6b84881da8)" style="fill: none; stroke-dasharray: 0.8,1.32; stroke-dashoffset: -0.55; stroke: #b0b0b0; stroke-width: 0.8"/>
</g>
<g id="line2d_114">
<g>
<use href="#m1504cfccaf" x="254.92" y="447.29" style="stroke: #000000; stroke-width: 0.8"/>
</g>
</g>
</g>
<g id="xtick_43">
<g id="line2d_115">
<path d="M 291.69 447.29
L 291.69 353.44
" clip-path="url(#p6b84881da8)" style="fill: none; stroke-dasharray: 0.8,1.32; stroke-dashoffset: -0.55; stroke: #b0b0b0; stroke-width: 0.8"/>
</g>
<g id="line2d_116">
<g>
<use href="#m1504cfccaf" x="291.69" y="447.29" style="stroke: #000000; stroke-width: 0.8"/>
</g>
</g>
</g>
<g id="xtick_44">
<g id="line2d_117">
<path d="M 328.4 447.29
L 328.4 353.44
" clip-path="url(#p6b84881da8)" style="fill: none; stroke-dasharray: 0.8,1.32; stroke-dashoffset: -0.55; stroke: #b0b0b0; stroke-width: 0.8"/>
</g>
<g id="line2d_118">
<g>
<use href="#m1504cfccaf" x="328.4" y="447.29" style="stroke: #000000; stroke-width: 0.8"/>
</g>
</g>
</g>
<g id="xtick_45">
<g id="line2d_119">
<path d="M 365.17 447.29
L 365.17 353.44
" clip-path="url(#p6b84881da8)" style="fill: none; stroke-dasharray: 0.8,1.32; stroke-dashoffset: -0.55; stroke: #b0b0b0; stroke-width: 0.8"/>
</g>
<g id="line2d_120">
<g>
<use href="#m1504cfccaf" x="365.17" y="447.29" style="stroke: #000000; stroke-width: 0.8"/>
</g>
</g>
</g>
<g id="xtick_46">
<g id="line2d_121">
<path d="M 401.89 447.29
L 401.89 353.44
" clip-path="url(#p6b84881da8)" style="fill: none; stroke-dasharray: 0.8,1.32; stroke-dashoffset: -0.55; stroke: #b0b0b0; stroke-width: 0.8"/>
</g>
<g id="line2d_122">
<g>
<use href="#m1504cfccaf" x="401.89" y="447.29" style="stroke: #000000; stroke-width: 0.8"/>
</g>
</g>
</g>
<g id="xtick_47">
<g id="line2d_123">
<path d="M 438.65 447.29
L 438.65 353.44
" clip-path="url(#p6b84881da8)" style="fill: none; stroke-dasharray: 0.8,1.32; stroke-dashoffset: -0.55; stroke: #b0b0b0; stroke-width: 0.8"/>
</g>
<g id="line2d_124">
<g>
<use href="#m1504cfccaf" x="438.65" y="447.29" style="stroke: #000000; stroke-width: 0.8"/>
</g>
</g>
</g>
<g id="xtick_48">
<g id="line2d_125">
<path d="M 475.37 447.29
L 475.37 353.44
" clip-path="url(#p6b84881da8)" style="fill: none; stroke-dasharray: 0.8,1.32; stroke-dashoffset: -0.55; stroke: #b0b0b0; stroke-width: 0.8"/>
</g>
<g id="line2d_126">
<g>
<use href="#m1504cfccaf" x="475.37" y="447.29" style="stroke: #000000; stroke-width: 0.8"/>
</g>
</g>
</g>
</g>
<g id="matplotlib.axis_8">
<g id="ytick_10">
<g id="line2d_127">
<path d="M 52.88 443.09
L 492.22 443.09
" clip-path="url(#p6b84881da8)" style="fill: none; stroke-dasharray: 0.8,1.32; stroke-dashoffset: -0.55; stroke: #b0b0b0; stroke-width: 0.8"/>
</g>
<g id="line2d_128">
<g>
<use href="#m5d545ce8f8" x="52.88" y="443.09" style="stroke: #000000; stroke-width: 0.8"/>
</g>
</g>
<g id="text_16">
<text style="font-size: 10px; font-family: 'DejaVu Sans', sans-serif; text-anchor: end; letter-spacing: -0.07px" x="46.03" y="446.89">−<tspan dx="-0.77">2</tspan></text>
</g>
</g>
<g id="ytick_11">
<g id="line2d_129">
<path d="M 52.88 400.41
L 492.22 400.41
" clip-path="url(#p6b84881da8)" style="fill: none; stroke-dasharray: 0.8,1.32; stroke-dashoffset: -0.55; stroke: #b0b0b0; stroke-width: 0.8"/>
</g>
<g id="line2d_130">
<g>
<use href="#m5d545ce8f8" x="52.88" y="400.41" style="stroke: #000000; stroke-width: 0.8"/>
</g>
</g>
<g id="text_17">
<text style="font-size: 10px; font-family: 'DejaVu Sans', sans-serif; text-anchor: end; letter-spacing: -0.07px" x="46.41" y="404.21">0</text>
</g>
</g>
<g id="ytick_12">
<g id="line2d_131">
<path d="M 52.88 357.73
L 492.22 357.73
" clip-path="url(#p6b84881da8)" style="fill: none; stroke-dasharray: 0.8,1.32; stroke-dashoffset: -0.55; stroke: #b0b0b0; stroke-width: 0.8"/>
</g>
<g id="line2d_132">
<g>
<use href="#m5d545ce8f8" x="52.88" y="357.73" style="stroke: #000000; stroke-width: 0.8"/>
</g>
</g>
<g id="text_18">
<text style="font-size: 10px; font-family: 'DejaVu Sans', sans-serif; text-anchor: end; letter-spacing: -0.07px" x="46.03" y="361.77">2</text>
</g>
</g>
<g id="text_19">
<text style="font-size: 10px; font-family: 'DejaVu Sans', sans-serif; text-anchor: middle; letter-spacing: -0.07px" x="25.06" y="400.94" transform="rotate(-90 25.06 400.94)">SST anomaly [°C]</text>
</g>
</g>
<g id="line2d_133">
<path d="M 52.88 414.86
L 54.44 423.27
L 55.85 420.46
L 57.41 429.8
L 61.99 401.79
L 63.55 405.06
L 65.11 418.13
L 66.61 414.63
L 68.17 422.33
L 69.68 424.2
L 71.24 403.66
L 72.8 387.79
L 74.21 388.26
L 75.77 408.33
L 77.28 399.69
L 78.84 413.23
L 80.35 413
L 81.9 405.3
L 83.46 408.33
L 84.97 410.66
L 86.53 399.93
L 88.04 410.2
L 89.6 396.66
L 91.16 384.29
L 92.57 386.86
L 94.13 384.99
L 95.64 398.99
L 97.19 407.4
L 98.7 406
L 100.26 408.33
L 101.82 410.2
L 103.33 399.46
L 104.89 401.33
L 106.4 396.66
L 107.96 393.39
L 109.52 396.66
L 110.98 395.26
L 112.53 388.26
L 114.04 396.66
L 115.6 407.4
L 117.11 409.73
L 118.67 412.53
L 120.23 398.53
L 121.74 397.83
L 123.3 406
L 124.81 416.03
L 127.93 408.33
L 129.33 403.66
L 130.89 414.16
L 132.4 403.66
L 133.96 395.49
L 135.47 405.06
L 137.03 407.4
L 138.59 407.86
L 140.1 402.73
L 141.66 402.26
L 143.16 413.93
L 144.72 413
L 146.28 383.69
L 147.69 381.82
L 149.25 390.59
L 150.76 400.39
L 152.32 402.26
L 155.39 385.83
L 156.95 394.56
L 158.45 394.56
L 160.01 387.33
L 161.52 381.26
L 163.08 377.06
L 164.64 372.39
L 166.05 369.5
L 167.61 375.66
L 169.12 394.33
L 170.68 380.32
L 172.19 376.36
L 173.74 387.09
L 175.3 380.32
L 176.81 379.86
L 178.37 382.66
L 179.88 400.16
L 181.44 400.39
L 183 391.06
L 184.46 401.56
L 186.02 398.06
L 187.53 396.66
L 189.08 392.93
L 190.59 390.59
L 192.15 391.99
L 193.71 391.06
L 195.22 392.93
L 196.78 396.43
L 198.29 393.39
L 199.85 400.39
L 201.41 400.63
L 202.82 391.99
L 204.37 381.02
L 205.88 384.53
L 207.44 387.79
L 208.95 385.93
L 210.51 385.46
L 212.07 384.06
L 213.58 383.36
L 215.14 385.93
L 216.65 377.29
L 218.21 384.99
L 219.76 404.6
L 221.17 394.33
L 222.73 393.39
L 224.24 386.63
L 225.8 390.59
L 227.31 391.99
L 228.87 398.06
L 230.43 396.66
L 231.94 401.79
L 233.5 407.86
L 235 401.33
L 236.56 396.43
L 238.12 408.33
L 239.53 391.53
L 241.09 389.19
L 242.6 390.36
L 244.16 381.26
L 245.67 380.32
L 247.23 385.23
L 248.79 393.86
L 250.29 396.66
L 251.85 402.5
L 253.36 396.43
L 254.92 398.99
L 256.48 417.66
L 257.94 428.4
L 259.5 426.07
L 261.01 415.33
L 262.57 407.4
L 264.08 403.2
L 265.63 401.79
L 267.19 408.1
L 268.7 403.66
L 270.26 399.93
L 271.77 419.53
L 273.33 403.66
L 274.89 388.96
L 276.3 399.93
L 277.86 406
L 279.37 406.93
L 280.92 405.53
L 282.43 401.33
L 283.99 387.79
L 285.55 384.76
L 287.06 387.33
L 288.62 389.66
L 290.13 386.86
L 291.69 390.59
L 293.25 401.79
L 294.65 419.53
L 296.21 415.8
L 297.72 403.66
L 299.28 401.33
L 300.79 413.93
L 302.35 414.63
L 303.91 403.66
L 305.42 406.46
L 306.98 406.93
L 310.05 424.43
L 311.6 410.66
L 313.01 401.56
L 314.57 408.33
L 317.64 398.53
L 319.15 408.33
L 320.71 412.53
L 322.27 404.13
L 323.78 409.5
L 325.34 403.66
L 326.84 398.53
L 328.4 396.19
L 329.96 389.66
L 332.98 383.69
L 334.49 387.79
L 336.05 388.73
L 337.56 391.06
L 339.12 406.93
L 340.68 399.46
L 342.18 397.13
L 343.74 397.13
L 345.25 388.26
L 346.81 393.39
L 348.37 412.76
L 349.78 411.6
L 351.34 407.4
L 352.85 422.33
L 354.41 443.1
L 355.91 431.67
L 357.47 403.66
L 359.03 398.76
L 360.54 412.06
L 362.1 413
L 363.61 416.73
L 365.17 417.2
L 366.73 421.16
L 368.14 410.2
L 369.7 416.26
L 371.2 421.4
L 372.76 416.26
L 374.27 416.5
L 375.83 401.33
L 377.39 396.66
L 378.9 406.46
L 380.46 398.06
L 381.97 388.26
L 385.09 409.96
L 386.49 406.46
L 388.05 412.3
L 389.56 401.79
L 391.12 395.73
L 392.63 401.33
L 394.19 408.33
L 395.75 409.73
L 397.26 409.26
L 398.82 412.06
L 400.33 401.79
L 401.89 417.66
L 403.44 406
L 404.9 425.37
L 406.46 417.66
L 407.97 412.06
L 409.53 404.6
L 411.04 401.33
L 414.16 392.23
L 415.67 395.26
L 417.23 404.6
L 418.73 391.76
L 420.29 391.06
L 421.85 401.79
L 423.26 399.46
L 424.82 392.23
L 426.33 398.99
L 427.89 408.8
L 429.4 406.46
L 430.96 396.66
L 432.52 401.79
L 434.02 393.86
L 435.58 384.06
L 437.09 384.99
L 438.65 403.66
L 440.21 417.66
L 441.62 414.4
L 443.18 408.33
L 444.69 403.66
L 446.25 394.33
L 447.75 384.06
L 449.31 391.99
L 450.87 401.09
L 452.38 399.46
L 453.94 396.19
L 455.45 400.16
L 457.01 366
L 458.57 396.66
L 459.98 389.66
L 461.54 380.23
L 463.04 388.03
L 466.11 402.26
L 467.67 408.33
L 469.23 416.73
L 470.74 412.06
L 472.3 398.99
L 473.81 398.99
L 475.37 403.43
L 476.93 379.86
L 478.38 380.79
L 479.94 374.96
L 481.45 379.16
L 483.01 387.33
L 484.52 391.99
L 486.08 398.99
L 487.64 407.4
L 489.15 396.19
L 490.71 400.39
L 492.22 401.79
L 492.22 401.79
" clip-path="url(#p6b84881da8)" style="fill: none; stroke: #008000; stroke-width: 1.5; stroke-linecap: square"/>
</g>
<g id="line2d_134">
<path d="M 146.28 383.69
L 147.69 381.82
M 163.08 377.06
L 164.64 372.39
L 166.05 369.5
M 172.19 376.36
L 173.74 387.09
L 175.3 380.32
L 176.81 379.86
L 178.37 382.66
M 212.07 384.06
L 213.58 383.36
M 216.65 377.29
L 218.21 384.99
M 244.16 381.26
L 245.67 380.32
L 247.23 385.23
M 285.55 384.76
L 287.06 387.33
M 435.58 384.06
L 437.09 384.99
M 461.54 380.23
L 463.04 388.03
M 476.93 379.86
L 478.38 380.79
L 479.94 374.96
L 481.45 379.16
L 483.01 387.33
L 483.01 387.33
" clip-path="url(#p6b84881da8)" style="fill: none; stroke: #ff0000; stroke-width: 1.5; stroke-linecap: square"/>
<g clip-path="url(#p6b84881da8)">
<use href="#m608ba95eef" x="146.28" y="383.69" style="fill: #ff0000; stroke: #ff0000"/>
<use href="#m608ba95eef" x="147.69" y="381.82" style="fill: #ff0000; stroke: #ff0000"/>
<use href="#m608ba95eef" x="155.39" y="385.83" style="fill: #ff0000; stroke: #ff0000"/>
<use href="#m608ba95eef" x="163.08" y="377.06" style="fill: #ff0000; stroke: #ff0000"/>
<use href="#m608ba95eef" x="164.64" y="372.39" style="fill: #ff0000; stroke: #ff0000"/>
<use href="#m608ba95eef" x="166.05" y="369.5" style="fill: #ff0000; stroke: #ff0000"/>
<use href="#m608ba95eef" x="172.19" y="376.36" style="fill: #ff0000; stroke: #ff0000"/>
<use href="#m608ba95eef" x="173.74" y="387.09" style="fill: #ff0000; stroke: #ff0000"/>
<use href="#m608ba95eef" x="175.3" y="380.32" style="fill: #ff0000; stroke: #ff0000"/>
<use href="#m608ba95eef" x="176.81" y="379.86" style="fill: #ff0000; stroke: #ff0000"/>
<use href="#m608ba95eef" x="178.37" y="382.66" style="fill: #ff0000; stroke: #ff0000"/>
<use href="#m608ba95eef" x="205.88" y="384.53" style="fill: #ff0000; stroke: #ff0000"/>
<use href="#m608ba95eef" x="212.07" y="384.06" style="fill: #ff0000; stroke: #ff0000"/>
<use href="#m608ba95eef" x="213.58" y="383.36" style="fill: #ff0000; stroke: #ff0000"/>
<use href="#m608ba95eef" x="216.65" y="377.29" style="fill: #ff0000; stroke: #ff0000"/>
<use href="#m608ba95eef" x="218.21" y="384.99" style="fill: #ff0000; stroke: #ff0000"/>
<use href="#m608ba95eef" x="244.16" y="381.26" style="fill: #ff0000; stroke: #ff0000"/>
<use href="#m608ba95eef" x="245.67" y="380.32" style="fill: #ff0000; stroke: #ff0000"/>
<use href="#m608ba95eef" x="247.23" y="385.23" style="fill: #ff0000; stroke: #ff0000"/>
<use href="#m608ba95eef" x="285.55" y="384.76" style="fill: #ff0000; stroke: #ff0000"/>
<use href="#m608ba95eef" x="287.06" y="387.33" style="fill: #ff0000; stroke: #ff0000"/>
<use href="#m608ba95eef" x="332.98" y="383.69" style="fill: #ff0000; stroke: #ff0000"/>
<use href="#m608ba95eef" x="381.97" y="388.26" style="fill: #ff0000; stroke: #ff0000"/>
<use href="#m608ba95eef" x="435.58" y="384.06" style="fill: #ff0000; stroke: #ff0000"/>
<use href="#m608ba95eef" x="437.09" y="384.99" style="fill: #ff0000; stroke: #ff0000"/>
<use href="#m608ba95eef" x="447.75" y="384.06" style="fill: #ff0000; stroke: #ff0000"/>
<use href="#m608ba95eef" x="457.01" y="366" style="fill: #ff0000; stroke: #ff0000"/>
<use href="#m608ba95eef" x="461.54" y="380.23" style="fill: #ff0000; stroke: #ff0000"/>
<use href="#m608ba95eef" x="463.04" y="388.03" style="fill: #ff0000; stroke: #ff0000"/>
<use href="#m608ba95eef" x="476.93" y="379.86" style="fill: #ff0000; stroke: #ff0000"/>
<use href="#m608ba95eef" x="478.38" y="380.79" style="fill: #ff0000; stroke: #ff0000"/>
<use href="#m608ba95eef" x="479.94" y="374.96" style="fill: #ff0000; stroke: #ff0000"/>
<use href="#m608ba95eef" x="481.45" y="379.16" style="fill: #ff0000; stroke: #ff0000"/>
<use href="#m608ba95eef" x="483.01" y="387.33" style="fill: #ff0000; stroke: #ff0000"/>
</g>
</g>
<g id="line2d_135">
<path d="M 55.85 418.83
L 57.41 412.53
L 58.92 407.63
L 60.48 410.43
L 61.99 407.4
L 63.55 408.1
L 65.11 404.13
L 66.61 403.66
L 68.17 406
L 69.68 406
L 71.24 402.96
L 72.8 404.6
L 74.21 402.5
L 75.77 402.03
L 77.28 409.03
L 78.84 405.3
L 80.35 406.93
L 81.9 408.1
L 83.46 409.96
L 84.97 409.03
L 86.53 415.1
L 88.04 418.36
L 89.6 412.76
L 91.16 413
L 92.57 406.23
L 94.13 404.13
L 95.64 405.53
L 97.19 400.16
L 98.7 400.16
L 100.26 404.6
L 101.82 407.63
L 103.33 407.16
L 104.89 400.39
L 106.4 402.96
L 107.96 394.56
L 109.52 389.66
L 110.98 396.66
L 112.53 393.39
L 114.04 402.73
L 115.6 398.53
L 117.11 403.2
L 118.67 402.96
L 120.23 403.9
L 121.74 405.53
L 123.3 397.13
L 124.81 396.43
L 126.37 409.5
L 127.93 401.79
L 129.33 407.16
L 130.89 402.96
L 132.4 405.53
L 133.96 409.73
L 135.47 403.66
L 137.03 400.16
L 138.59 402.73
L 140.1 406.93
L 143.16 416.73
L 144.72 425.83
L 146.28 415.8
L 147.69 408.56
L 149.25 409.5
L 150.76 404.13
L 152.32 403.66
L 153.83 399.93
L 155.39 395.26
L 156.95 391.06
L 158.45 390.59
L 160.01 388.73
L 161.52 384.99
L 163.08 382.19
L 164.64 380.79
L 166.05 377.76
L 167.61 377.99
L 169.12 377.99
L 170.68 386.86
L 172.19 384.06
L 173.74 384.53
L 176.81 388.26
L 178.37 385.69
L 179.88 378.46
L 181.44 379.86
L 183 389.66
L 184.46 399.93
L 186.02 394.09
L 189.08 396.43
L 190.59 396.43
L 192.15 393.63
L 193.71 390.13
L 196.78 389.66
L 198.29 389.66
L 199.85 396.19
L 201.41 393.63
L 202.82 401.33
L 204.37 392.46
L 205.88 395.26
L 207.44 387.33
L 208.95 391.53
L 210.51 387.09
L 212.07 389.66
L 213.58 389.19
L 215.14 384.06
L 216.65 376.59
L 218.21 380.09
L 219.76 391.06
L 221.17 391.99
L 222.73 396.66
L 224.24 398.99
L 225.8 398.53
L 227.31 398.53
L 228.87 395.26
L 230.43 395.26
L 231.94 398.06
L 233.5 405.06
L 235 413.23
L 236.56 409.26
L 238.12 404.6
L 239.53 406.93
L 241.09 407.63
L 242.6 396.19
L 244.16 396.43
L 245.67 393.86
L 247.23 395.96
L 248.79 395.03
L 250.29 396.66
L 251.85 398.99
L 253.36 403.2
L 254.92 404.6
L 256.48 397.36
L 257.94 406.46
L 259.5 414.86
L 261.01 415.56
L 264.08 405.3
L 265.63 405.06
L 267.19 403.66
L 268.7 406.58
L 270.26 410.66
L 271.77 408.1
L 273.33 418.36
L 274.89 417.66
L 276.3 406.93
L 277.86 405.06
L 279.37 402.26
L 280.92 403.2
L 282.43 403.9
L 283.99 400.63
L 285.55 399.46
L 287.06 394.56
L 288.62 394.56
L 290.13 391.53
L 291.69 391.76
L 293.25 400.86
L 294.65 390.5
L 296.21 402.73
L 297.72 402.5
L 299.28 398.76
L 300.79 400.86
L 302.35 403.66
L 303.91 402.73
L 305.42 405.76
L 306.98 406.46
L 308.49 403.43
L 310.05 409.73
L 311.6 408.33
L 313.01 411.36
L 314.57 404.36
L 316.08 404.6
L 317.64 403.66
L 319.15 403.2
L 320.71 403.66
L 322.27 400.86
L 323.78 400.16
L 325.34 396.66
L 326.84 397.36
L 328.4 391.53
L 329.96 386.63
L 331.42 389.19
L 332.98 393.86
L 334.49 390.13
L 336.05 395.26
L 337.56 395.96
L 339.12 400.39
L 340.68 403.78
L 342.18 404.36
L 343.74 403.2
L 345.25 401.79
L 346.81 399.46
L 348.37 397.36
L 349.78 398.29
L 351.34 400.16
L 352.85 405.53
L 354.41 407.16
L 355.91 411.83
L 357.47 411.36
L 359.03 406.93
L 360.54 403.66
L 362.1 404.6
L 363.61 409.73
L 365.17 414.63
L 366.73 414.4
L 368.14 405.76
L 369.7 405.53
L 371.2 403.66
L 372.76 403.43
L 374.27 401.33
L 375.83 402.26
L 377.39 400.86
L 378.9 398.76
L 380.46 395.03
L 381.97 392.46
L 383.53 381.26
L 385.09 388.03
L 386.49 390.59
L 388.05 396.66
L 389.56 405.06
L 391.12 404.36
L 392.63 401.33
L 394.19 401.79
L 395.75 403.9
L 397.26 404.13
L 398.82 402.03
L 400.33 401.56
L 401.89 394.33
L 403.44 395.73
L 404.9 402.03
L 406.46 406.46
L 409.53 396.66
L 411.04 401.79
L 412.6 402.85
L 414.16 399.93
L 415.67 397.36
L 417.23 399.93
L 418.73 406
L 420.29 411.36
L 423.26 396.43
L 424.82 393.86
L 426.33 393.39
L 427.89 397.59
L 429.4 397.13
L 430.96 399.93
L 432.52 397.83
L 434.02 396.43
L 435.58 398.76
L 437.09 392.93
L 438.65 387.56
L 440.21 397.59
L 441.62 396.89
L 443.18 403.43
L 444.69 396.43
L 446.25 398.29
L 447.75 398.29
L 449.31 396.43
L 450.87 399.46
L 452.38 400.39
L 453.94 403.2
L 455.45 406.7
L 457.01 399.46
L 458.57 394.56
L 459.98 402.03
L 461.54 397.36
L 463.04 396.66
L 464.6 401.33
L 466.11 405.06
L 467.67 409.26
L 469.23 409.26
L 470.74 409.03
L 472.3 412.53
L 473.81 412.53
L 475.37 409.73
L 476.93 406.46
L 478.38 398.99
L 479.94 393.39
L 481.45 392.69
L 483.01 394.56
L 484.52 398.29
L 486.08 394.56
L 487.64 401.79
L 489.15 400.86
L 490.71 399.46
L 492.22 396.89
L 492.22 396.89
" clip-path="url(#p6b84881da8)" style="fill: none; stroke: #000000; stroke-width: 1.5; stroke-linecap: square"/>
</g>
<g id="line2d_136">
<path d="M 160.01 388.73
L 161.52 384.99
M 164.64 380.79
L 166.05 377.76
L 167.61 377.99
L 169.12 377.99
L 170.68 386.86
L 172.19 384.06
L 173.74 384.53
L 176.81 388.26
L 178.37 385.69
L 179.88 378.46
L 181.44 379.86
M 192.15 393.63
L 193.71 390.13
L 195.22 389.89
L 196.78 390.13
M 207.44 387.33
L 208.95 391.53
L 210.51 387.09
L 212.07 389.66
L 213.58 389.19
L 215.14 384.06
L 216.65 376.59
L 218.21 380.09
M 329.96 386.63
L 331.42 389.19
M 383.53 381.26
L 385.09 388.03
M 481.45 392.69
L 483.01 394.56
L 483.01 394.56
" clip-path="url(#p6b84881da8)" style="fill: none; stroke: #00ffff; stroke-width: 1.5; stroke-linecap: square"/>
<g clip-path="url(#p6b84881da8)">
<use href="#md41d3c3caa" x="112.53" y="393.39" style="fill: #00ffff; stroke: #00ffff"/>
<use href="#md41d3c3caa" x="160.01" y="388.73" style="fill: #00ffff; stroke: #00ffff"/>
<use href="#md41d3c3caa" x="161.52" y="384.99" style="fill: #00ffff; stroke: #00ffff"/>
<use href="#md41d3c3caa" x="164.64" y="380.79" style="fill: #00ffff; stroke: #00ffff"/>
<use href="#md41d3c3caa" x="166.05" y="377.76" style="fill: #00ffff; stroke: #00ffff"/>
<use href="#md41d3c3caa" x="167.61" y="377.99" style="fill: #00ffff; stroke: #00ffff"/>
<use href="#md41d3c3caa" x="169.12" y="377.99" style="fill: #00ffff; stroke: #00ffff"/>
<use href="#md41d3c3caa" x="170.68" y="386.86" style="fill: #00ffff; stroke: #00ffff"/>
<use href="#md41d3c3caa" x="172.19" y="384.06" style="fill: #00ffff; stroke: #00ffff"/>
<use href="#md41d3c3caa" x="173.74" y="384.53" style="fill: #00ffff; stroke: #00ffff"/>
<use href="#md41d3c3caa" x="175.3" y="386.39" style="fill: #00ffff; stroke: #00ffff"/>
<use href="#md41d3c3caa" x="176.81" y="388.26" style="fill: #00ffff; stroke: #00ffff"/>
<use href="#md41d3c3caa" x="178.37" y="385.69" style="fill: #00ffff; stroke: #00ffff"/>
<use href="#md41d3c3caa" x="179.88" y="378.46" style="fill: #00ffff; stroke: #00ffff"/>
<use href="#md41d3c3caa" x="181.44" y="379.86" style="fill: #00ffff; stroke: #00ffff"/>
<use href="#md41d3c3caa" x="192.15" y="393.63" style="fill: #00ffff; stroke: #00ffff"/>
<use href="#md41d3c3caa" x="193.71" y="390.13" style="fill: #00ffff; stroke: #00ffff"/>
<use href="#md41d3c3caa" x="195.22" y="389.89" style="fill: #00ffff; stroke: #00ffff"/>
<use href="#md41d3c3caa" x="196.78" y="390.13" style="fill: #00ffff; stroke: #00ffff"/>
<use href="#md41d3c3caa" x="204.37" y="392.46" style="fill: #00ffff; stroke: #00ffff"/>
<use href="#md41d3c3caa" x="207.44" y="387.33" style="fill: #00ffff; stroke: #00ffff"/>
<use href="#md41d3c3caa" x="208.95" y="391.53" style="fill: #00ffff; stroke: #00ffff"/>
<use href="#md41d3c3caa" x="210.51" y="387.09" style="fill: #00ffff; stroke: #00ffff"/>
<use href="#md41d3c3caa" x="212.07" y="389.66" style="fill: #00ffff; stroke: #00ffff"/>
<use href="#md41d3c3caa" x="213.58" y="389.19" style="fill: #00ffff; stroke: #00ffff"/>
<use href="#md41d3c3caa" x="215.14" y="384.06" style="fill: #00ffff; stroke: #00ffff"/>
<use href="#md41d3c3caa" x="216.65" y="376.59" style="fill: #00ffff; stroke: #00ffff"/>
<use href="#md41d3c3caa" x="218.21" y="380.09" style="fill: #00ffff; stroke: #00ffff"/>
<use href="#md41d3c3caa" x="245.67" y="393.86" style="fill: #00ffff; stroke: #00ffff"/>
<use href="#md41d3c3caa" x="294.65" y="390.5" style="fill: #00ffff; stroke: #00ffff"/>
<use href="#md41d3c3caa" x="329.96" y="386.63" style="fill: #00ffff; stroke: #00ffff"/>
<use href="#md41d3c3caa" x="331.42" y="389.19" style="fill: #00ffff; stroke: #00ffff"/>
<use href="#md41d3c3caa" x="334.49" y="390.13" style="fill: #00ffff; stroke: #00ffff"/>
<use href="#md41d3c3caa" x="383.53" y="381.26" style="fill: #00ffff; stroke: #00ffff"/>
<use href="#md41d3c3caa" x="385.09" y="388.03" style="fill: #00ffff; stroke: #00ffff"/>
<use href="#md41d3c3caa" x="481.45" y="392.69" style="fill: #00ffff; stroke: #00ffff"/>
<use href="#md41d3c3caa" x="483.01" y="394.56" style="fill: #00ffff; stroke: #00ffff"/>
</g>
</g>
<g id="patch_18">
<path d="M 52.88 447.29
L 52.88 353.44
" style="fill: none; stroke: #000000; stroke-width: 0.8; stroke-linejoin: miter; stroke-linecap: square"/>
</g>
<g id="patch_19">
<path d="M 492.22 447.29
L 492.22 353.44
" style="fill: none; stroke: #000000; stroke-width: 0.8; stroke-linejoin: miter; stroke-linecap: square"/>
</g>
<g id="patch_20">
<path d="M 52.88 447.29
L 492.22 447.29
" style="fill: none; stroke: #000000; stroke-width: 0.8; stroke-linejoin: miter; stroke-linecap: square"/>
</g>
<g id="patch_21">
<path d="M 52.88 353.44
L 492.22 353.44
" style="fill: none; stroke: #000000; stroke-width: 0.8; stroke-linejoin: miter; stroke-linecap: square"/>
</g>
<g id="text_20">
<text style="font-size: 10px; font-family: 'DejaVu Sans', sans-serif; text-anchor: middle; letter-spacing: -0.07px" x="272.55" y="347.76">Pelorus Sound (ACC = 0.52, SEDI = 0.55, TP = 16, FP = 20, TN = 229, FN = 20)</text>
</g>
</g>
<g id="axes_5">
<g id="patch_22">
<path d="M 52.88 560.28
L 492.22 560.28
L 492.22 466.49
L 52.88 466.49
z
" style="fill: #ffffff"/>
</g>
<g id="FillBetweenPolyCollection_5">
<defs>
<path id="mca6ddc0e38" d="M 55.85 -78.7
L 55.85 -60.35
L 57.41 -73.57
L 58.92 -75.81
L 60.48 -74.79
L 61.99 -74.49
L 63.55 -74.19
L 65.11 -77.63
L 66.61 -78.73
L 68.17 -77.73
L 69.68 -77.17
L 71.24 -81.51
L 72.8 -83.75
L 74.21 -86.46
L 75.77 -87.55
L 77.28 -82.8
L 78.84 -82.88
L 80.35 -81.79
L 81.9 -78.84
L 83.46 -75.42
L 84.97 -73.4
L 86.53 -69.05
L 88.04 -64.23
L 89.6 -67.55
L 91.16 -67.14
L 92.57 -76.6
L 94.13 -75.22
L 95.64 -73.83
L 97.19 -80.61
L 98.7 -81.56
L 100.26 -76.34
L 101.82 -71.13
L 103.33 -70.67
L 104.89 -77.91
L 106.4 -76.75
L 107.96 -87.03
L 109.52 -88.79
L 110.98 -83.84
L 112.53 -87.91
L 114.04 -81.94
L 115.6 -85.07
L 117.11 -81.67
L 118.67 -82.12
L 120.23 -81.63
L 121.74 -82.82
L 123.3 -91.01
L 124.81 -91.32
L 126.37 -77.82
L 127.93 -80.2
L 129.33 -77.52
L 130.89 -80.68
L 132.4 -78.24
L 133.96 -75.34
L 135.47 -79.19
L 137.03 -83.28
L 138.59 -81.3
L 140.1 -77.22
L 141.66 -69.88
L 143.16 -61.6
L 144.72 -54.02
L 146.28 -58.85
L 147.69 -68.82
L 149.25 -70.16
L 150.76 -69.39
L 152.32 -71.39
L 153.83 -77.59
L 155.39 -82.86
L 156.95 -85.89
L 158.45 -85.41
L 160.01 -87.04
L 161.52 -89.37
L 163.08 -92.63
L 164.64 -93.01
L 166.05 -99.21
L 167.61 -101.22
L 169.12 -98.33
L 170.68 -93.03
L 172.19 -96.83
L 173.74 -92.46
L 175.3 -94.63
L 176.81 -90.11
L 178.37 -94
L 179.88 -105.58
L 181.44 -105.36
L 183 -94.41
L 184.46 -84.85
L 186.02 -88.37
L 187.53 -89.81
L 189.08 -90.09
L 190.59 -90.2
L 192.15 -95.91
L 193.71 -99.51
L 195.22 -99.62
L 196.78 -99.88
L 198.29 -100.85
L 199.85 -93.7
L 201.41 -92.15
L 202.82 -80.62
L 204.37 -90.56
L 205.88 -95.59
L 207.44 -97.09
L 208.95 -91.59
L 210.51 -96.89
L 212.07 -92.62
L 213.58 -93.49
L 215.14 -96.92
L 216.65 -103.16
L 218.21 -99.24
L 219.76 -96.49
L 221.17 -98.17
L 222.73 -93.32
L 224.24 -84.5
L 225.8 -82.44
L 227.31 -81.79
L 228.87 -80.3
L 230.43 -81.62
L 231.94 -83.05
L 233.5 -78.88
L 235 -73.31
L 236.56 -78.06
L 238.12 -77.67
L 239.53 -73.08
L 241.09 -75.06
L 242.6 -83.8
L 244.16 -83.8
L 245.67 -85.67
L 247.23 -84.01
L 248.79 -86.56
L 250.29 -87.24
L 251.85 -83.95
L 253.36 -79.5
L 254.92 -73.88
L 256.48 -79.92
L 257.94 -81.54
L 259.5 -75.64
L 261.01 -71.85
L 262.57 -73.72
L 264.08 -81.42
L 265.63 -82.35
L 267.19 -82.93
L 268.7 -80.24
L 270.26 -75.92
L 271.77 -75.57
L 273.33 -68.1
L 274.89 -67.64
L 276.3 -78.14
L 277.86 -79.07
L 279.37 -78.66
L 280.92 -78.94
L 282.43 -78.52
L 283.99 -81.86
L 285.55 -82.62
L 287.06 -85
L 288.62 -87.61
L 290.13 -91.38
L 291.69 -96.79
L 293.25 -87.28
L 294.65 -86.17
L 296.21 -76.9
L 297.72 -81.91
L 299.28 -86.46
L 300.79 -86.51
L 302.35 -84.24
L 303.91 -85.23
L 305.42 -80.61
L 306.98 -76
L 308.49 -78.39
L 310.05 -68.48
L 311.6 -74.9
L 313.01 -76.62
L 314.57 -79.28
L 316.08 -80.31
L 317.64 -77.62
L 319.15 -76.57
L 320.71 -76.21
L 322.27 -77.9
L 323.78 -80.28
L 325.34 -83.6
L 326.84 -82.55
L 328.4 -86.87
L 329.96 -93.06
L 331.42 -91.57
L 332.98 -85.89
L 334.49 -90.79
L 336.05 -86.36
L 337.56 -87.99
L 339.12 -85.3
L 340.68 -84
L 342.18 -81.54
L 343.74 -80.95
L 345.25 -81.05
L 346.81 -82.97
L 348.37 -81.85
L 349.78 -80.5
L 351.34 -81.53
L 352.85 -79.99
L 354.41 -82.88
L 355.91 -82.41
L 357.47 -83.58
L 359.03 -82.88
L 360.54 -82.58
L 362.1 -80.64
L 363.61 -73.11
L 365.17 -64.18
L 366.73 -64.39
L 368.14 -75.1
L 369.7 -76.46
L 371.2 -77.27
L 372.76 -78.77
L 374.27 -81.9
L 375.83 -82.36
L 377.39 -82.12
L 378.9 -82.58
L 380.46 -84.45
L 381.97 -86.07
L 383.53 -97.17
L 385.09 -90.66
L 386.49 -88.03
L 388.05 -86.33
L 389.56 -82.37
L 391.12 -79.81
L 392.63 -80.06
L 394.19 -77.76
L 395.75 -74.07
L 397.26 -72.48
L 398.82 -75.08
L 400.33 -76.99
L 401.89 -85.43
L 403.44 -89.05
L 404.9 -80.54
L 406.46 -75.06
L 407.97 -82.9
L 409.53 -89.8
L 411.04 -84.01
L 412.6 -81.59
L 414.16 -84.55
L 415.67 -88.33
L 417.23 -84.77
L 418.73 -79.8
L 420.29 -75.08
L 421.85 -83.91
L 423.26 -90.18
L 424.82 -90.15
L 426.33 -94.31
L 427.89 -89.48
L 429.4 -87.45
L 430.96 -85.66
L 432.52 -89.8
L 434.02 -89.18
L 435.58 -85.99
L 437.09 -85.78
L 438.65 -91.63
L 440.21 -79.21
L 441.62 -78.93
L 443.18 -74.91
L 444.69 -86.07
L 446.25 -86.27
L 447.75 -87.52
L 449.31 -88.54
L 450.87 -87.23
L 452.38 -87.78
L 453.94 -84.83
L 455.45 -81.42
L 457.01 -85.46
L 458.57 -88.33
L 459.98 -82.42
L 461.54 -84.67
L 463.04 -84.49
L 464.6 -80.58
L 466.11 -76.43
L 467.67 -72.75
L 469.23 -73.04
L 470.74 -74.02
L 472.3 -69.18
L 473.81 -67.83
L 475.37 -70.2
L 476.93 -71.18
L 478.38 -78.46
L 479.94 -81.08
L 481.45 -83.93
L 483.01 -84.99
L 484.52 -82.08
L 486.08 -86.4
L 487.64 -80.76
L 489.15 -82.83
L 490.71 -85.83
L 492.22 -91.63
L 492.22 -100.17
L 492.22 -100.17
L 490.71 -93.83
L 489.15 -90.3
L 487.64 -87.7
L 486.08 -92.8
L 484.52 -89.19
L 483.01 -92.81
L 481.45 -92.47
L 479.94 -90.18
L 478.38 -88.13
L 476.93 -81.42
L 475.37 -79.59
L 473.81 -76.36
L 472.3 -77.82
L 470.74 -82.77
L 469.23 -81.89
L 467.67 -81.71
L 466.11 -85.5
L 464.6 -89.75
L 463.04 -93.77
L 461.54 -94.06
L 459.98 -93.51
L 458.57 -101.13
L 457.01 -94.21
L 455.45 -86.11
L 453.94 -90.17
L 452.38 -93.75
L 450.87 -93.84
L 449.31 -95.79
L 447.75 -95.41
L 446.25 -94.8
L 444.69 -95.46
L 443.18 -85.15
L 441.62 -88.6
L 440.21 -88.32
L 438.65 -100.17
L 437.09 -93.89
L 435.58 -93.67
L 434.02 -95.15
L 432.52 -94.07
L 430.96 -91.21
L 429.4 -93.14
L 427.89 -95.32
L 426.33 -100.29
L 424.82 -95.59
L 423.26 -95.09
L 421.85 -88.29
L 420.29 -78.92
L 418.73 -84.92
L 417.23 -91.17
L 415.67 -96.01
L 414.16 -91.38
L 412.6 -87.57
L 411.04 -89.13
L 409.53 -94.07
L 407.97 -89.3
L 406.46 -83.6
L 404.9 -89.79
L 403.44 -99.01
L 401.89 -96.1
L 400.33 -86.81
L 398.82 -84.04
L 397.26 -80.58
L 395.75 -81.32
L 394.19 -84.16
L 392.63 -85.61
L 391.12 -86.78
L 389.56 -90.76
L 388.05 -96.14
L 386.49 -100.97
L 385.09 -106.74
L 383.53 -116.38
L 381.97 -102.93
L 380.46 -98.95
L 378.9 -94.75
L 377.39 -91.94
L 375.83 -89.83
L 374.27 -87.03
L 372.76 -85.03
L 371.2 -84.66
L 369.7 -85
L 368.14 -84.49
L 366.73 -74.2
L 365.17 -74.42
L 363.61 -82.28
L 362.1 -88.75
L 360.54 -89.62
L 359.03 -88.85
L 357.47 -89.55
L 355.91 -88.39
L 354.41 -88.85
L 352.85 -85.68
L 351.34 -86.93
L 349.78 -85.63
L 348.37 -87.54
L 346.81 -89.23
L 345.25 -87.88
L 343.74 -87.52
L 342.18 -87.86
L 340.68 -90.06
L 339.12 -91.1
L 337.56 -93.54
L 336.05 -95.18
L 334.49 -102.88
L 332.98 -101.25
L 331.42 -106.29
L 329.96 -107.14
L 328.4 -98.39
L 326.84 -91.51
L 325.34 -90
L 323.78 -87.25
L 322.27 -85.43
L 320.71 -84.32
L 319.15 -83.96
L 317.64 -84.31
L 316.08 -86.29
L 314.57 -88.25
L 313.01 -88.57
L 311.6 -89.83
L 310.05 -80.85
L 308.49 -88.21
L 306.98 -85.46
L 305.42 -89.72
L 303.91 -93.97
L 302.35 -92.63
L 300.79 -94.55
L 299.28 -94.14
L 297.72 -92.15
L 296.21 -89.7
L 294.65 -97.69
L 293.25 -97.52
L 291.69 -105.75
L 290.13 -99.49
L 288.62 -94.86
L 287.06 -91.4
L 285.55 -88.17
L 283.99 -88.47
L 282.43 -86.21
L 280.92 -87.19
L 279.37 -87.47
L 277.86 -88.46
L 276.3 -87.53
L 274.89 -77.02
L 273.33 -77.49
L 271.77 -84.96
L 270.26 -84.14
L 268.7 -87.29
L 267.19 -88.8
L 265.63 -87.05
L 264.08 -86.11
L 262.57 -78.41
L 261.01 -76.54
L 259.5 -81.62
L 257.94 -88.79
L 256.48 -87.61
L 254.92 -81.98
L 253.36 -88.03
L 251.85 -92.91
L 250.29 -96.63
L 248.79 -96.37
L 247.23 -94.25
L 245.67 -96.33
L 244.16 -94.47
L 242.6 -94.47
L 241.09 -85.94
L 239.53 -84.18
L 238.12 -87.06
L 236.56 -85.74
L 235 -79.28
L 233.5 -85.85
L 231.94 -91.01
L 230.43 -90.58
L 228.87 -88.63
L 227.31 -89.47
L 225.8 -91.62
L 224.24 -95.17
L 222.73 -105.48
L 221.17 -111.83
L 219.76 -110.71
L 218.21 -114.03
L 216.65 -118.52
L 215.14 -110.75
L 213.58 -105.78
L 212.07 -103.38
L 210.51 -106.11
L 208.95 -99.27
L 207.44 -102.64
L 205.88 -99.01
L 204.37 -96.11
L 202.82 -88.31
L 201.41 -96.85
L 199.85 -99.03
L 198.29 -106.82
L 196.78 -105.22
L 195.22 -104.31
L 193.71 -104.42
L 192.15 -101.03
L 190.59 -95.53
L 189.08 -95.64
L 187.53 -96.85
L 186.02 -96.9
L 184.46 -94.35
L 183 -104.86
L 181.44 -116.78
L 179.88 -117.96
L 178.37 -104.81
L 176.81 -99.36
L 175.3 -102.31
L 173.74 -101.21
L 172.19 -106.64
L 170.68 -103.91
L 169.12 -110.28
L 167.61 -113.92
L 166.05 -112.66
L 164.64 -107.2
L 163.08 -107.57
L 161.52 -102.43
L 160.01 -98.22
L 158.45 -94.72
L 156.95 -93.31
L 155.39 -88.41
L 153.83 -85.27
L 152.32 -81.2
L 150.76 -81.34
L 149.25 -81.04
L 147.69 -78.64
L 146.28 -67.6
L 144.72 -61.7
L 143.16 -69.52
L 141.66 -78.05
L 140.1 -85.64
L 138.59 -89.96
L 137.03 -92.18
L 135.47 -88.34
L 133.96 -84.72
L 132.4 -87.42
L 130.89 -89.65
L 129.33 -86.27
L 127.93 -88.73
L 126.37 -85.5
L 124.81 -98.15
L 123.3 -96.13
L 121.74 -87.51
L 120.23 -85.9
L 118.67 -86.81
L 117.11 -86.79
L 115.6 -91.79
L 114.04 -90.26
L 112.53 -97.83
L 110.98 -95.36
L 109.52 -96.47
L 107.96 -96.84
L 106.4 -85.18
L 104.89 -84.95
L 103.33 -76.32
L 101.82 -75.4
L 100.26 -82.32
L 98.7 -89.24
L 97.19 -89.25
L 95.64 -83.43
L 94.13 -85.78
L 92.57 -88.13
L 91.16 -80.79
L 89.6 -77.58
L 88.04 -70.63
L 86.53 -75.14
L 84.97 -79.19
L 83.46 -80.91
L 81.9 -84.02
L 80.35 -86.67
L 78.84 -87.45
L 77.28 -87.07
L 75.77 -93.52
L 74.21 -94.14
L 72.8 -92.18
L 71.24 -90.69
L 69.68 -87.09
L 68.17 -88.4
L 66.61 -88.8
L 65.11 -87.1
L 63.55 -83.07
L 61.99 -82.77
L 60.48 -82.47
L 58.92 -87.05
L 57.41 -88.36
L 55.85 -78.7
z
" style="stroke: #808080"/>
</defs>
<g clip-path="url(#paa8b746c14)">
<use href="#mca6ddc0e38" x="0" y="600" style="fill: #808080; stroke: #808080"/>
</g>
</g>
<g id="matplotlib.axis_9">
<g id="xtick_49">
<g id="line2d_137">
<path d="M 71.24 560.28
L 71.24 466.49
" clip-path="url(#paa8b746c14)" style="fill: none; stroke-dasharray: 0.8,1.32; stroke-dashoffset: -0.55; stroke: #b0b0b0; stroke-width: 0.8"/>
</g>
<g id="line2d_138">
<g>
<use href="#m1504cfccaf" x="71.24" y="560.28" style="stroke: #000000; stroke-width: 0.8"/>
</g>
</g>
<g id="text_21">
<text style="font-size: 10px; font-family: 'DejaVu Sans', sans-serif; text-anchor: middle; letter-spacing: -0.07px" x="71.24" y="575.12">1994</text>
</g>
</g>
<g id="xtick_50">
<g id="line2d_139">
<path d="M 107.96 560.28
L 107.96 466.49
" clip-path="url(#paa8b746c14)" style="fill: none; stroke-dasharray: 0.8,1.32; stroke-dashoffset: -0.55; stroke: #b0b0b0; stroke-width: 0.8"/>
</g>
<g id="line2d_140">
<g>
<use href="#m1504cfccaf" x="107.96" y="560.28" style="stroke: #000000; stroke-width: 0.8"/>
</g>
</g>
<g id="text_22">
<text style="font-size: 10px; font-family: 'DejaVu Sans', sans-serif; text-anchor: middle; letter-spacing: -0.07px" x="107.96" y="575.12">1996</text>
</g>
</g>
<g id="xtick_51">
<g id="line2d_141">
<path d="M 144.72 560.28
L 144.72 466.49
" clip-path="url(#paa8b746c14)" style="fill: none; stroke-dasharray: 0.8,1.32; stroke-dashoffset: -0.55; stroke: #b0b0b0; stroke-width: 0.8"/>
</g>
<g id="line2d_142">
<g>
<use href="#m1504cfccaf" x="144.72" y="560.28" style="stroke: #000000; stroke-width: 0.8"/>
</g>
</g>
<g id="text_23">
<text style="font-size: 10px; font-family: 'DejaVu Sans', sans-serif; text-anchor: middle; letter-spacing: -0.07px" x="144.72" y="575.12">1998</text>
</g>
</g>
<g id="xtick_52">
<g id="line2d_143">
<path d="M 181.44 560.28
L 181.44 466.49
" clip-path="url(#paa8b746c14)" style="fill: none; stroke-dasharray: 0.8,1.32; stroke-dashoffset: -0.55; stroke: #b0b0b0; stroke-width: 0.8"/>
</g>
<g id="line2d_144">
<g>
<use href="#m1504cfccaf" x="181.44" y="560.28" style="stroke: #000000; stroke-width: 0.8"/>
</g>
</g>
<g id="text_24">
<text style="font-size: 10px; font-family: 'DejaVu Sans', sans-serif; text-anchor: middle; letter-spacing: -0.07px" x="181.44" y="575.12">2000</text>
</g>
</g>
<g id="xtick_53">
<g id="line2d_145">
<path d="M 218.21 560.28
L 218.21 466.49
" clip-path="url(#paa8b746c14)" style="fill: none; stroke-dasharray: 0.8,1.32; stroke-dashoffset: -0.55; stroke: #b0b0b0; stroke-width: 0.8"/>
</g>
<g id="line2d_146">
<g>
<use href="#m1504cfccaf" x="218.21" y="560.28" style="stroke: #000000; stroke-width: 0.8"/>
</g>
</g>
<g id="text_25">
<text style="font-size: 10px; font-family: 'DejaVu Sans', sans-serif; text-anchor: middle; letter-spacing: -0.07px" x="218.21" y="575.12">2002</text>
</g>
</g>
<g id="xtick_54">
<g id="line2d_147">
<path d="M 254.92 560.28
L 254.92 466.49
" clip-path="url(#paa8b746c14)" style="fill: none; stroke-dasharray: 0.8,1.32; stroke-dashoffset: -0.55; stroke: #b0b0b0; stroke-width: 0.8"/>
</g>
<g id="line2d_148">
<g>
<use href="#m1504cfccaf" x="254.92" y="560.28" style="stroke: #000000; stroke-width: 0.8"/>
</g>
</g>
<g id="text_26">
<text style="font-size: 10px; font-family: 'DejaVu Sans', sans-serif; text-anchor: middle; letter-spacing: -0.07px" x="254.92" y="575.12">2004</text>
</g>
</g>
<g id="xtick_55">
<g id="line2d_149">
<path d="M 291.69 560.28
L 291.69 466.49
" clip-path="url(#paa8b746c14)" style="fill: none; stroke-dasharray: 0.8,1.32; stroke-dashoffset: -0.55; stroke: #b0b0b0; stroke-width: 0.8"/>
</g>
<g id="line2d_150">
<g>
<use href="#m1504cfccaf" x="291.69" y="560.28" style="stroke: #000000; stroke-width: 0.8"/>
</g>
</g>
<g id="text_27">
<text style="font-size: 10px; font-family: 'DejaVu Sans', sans-serif; text-anchor: middle; letter-spacing: -0.07px" x="291.69" y="575.12">2006</text>
</g>
</g>
<g id="xtick_56">
<g id="line2d_151">
<path d="M 328.4 560.28
L 328.4 466.49
" clip-path="url(#paa8b746c14)" style="fill: none; stroke-dasharray: 0.8,1.32; stroke-dashoffset: -0.55; stroke: #b0b0b0; stroke-width: 0.8"/>
</g>
<g id="line2d_152">
<g>
<use href="#m1504cfccaf" x="328.4" y="560.28" style="stroke: #000000; stroke-width: 0.8"/>
</g>
</g>
<g id="text_28">
<text style="font-size: 10px; font-family: 'DejaVu Sans', sans-serif; text-anchor: middle; letter-spacing: -0.07px" x="328.4" y="575.12">2008</text>
</g>
</g>
<g id="xtick_57">
<g id="line2d_153">
<path d="M 365.17 560.28
L 365.17 466.49
" clip-path="url(#paa8b746c14)" style="fill: none; stroke-dasharray: 0.8,1.32; stroke-dashoffset: -0.55; stroke: #b0b0b0; stroke-width: 0.8"/>
</g>
<g id="line2d_154">
<g>
<use href="#m1504cfccaf" x="365.17" y="560.28" style="stroke: #000000; stroke-width: 0.8"/>
</g>
</g>
<g id="text_29">
<text style="font-size: 10px; font-family: 'DejaVu Sans', sans-serif; text-anchor: middle; letter-spacing: -0.07px" x="365.17" y="575.12">2010</text>
</g>
</g>
<g id="xtick_58">
<g id="line2d_155">
<path d="M 401.89 560.28
L 401.89 466.49
" clip-path="url(#paa8b746c14)" style="fill: none; stroke-dasharray: 0.8,1.32; stroke-dashoffset: -0.55; stroke: #b0b0b0; stroke-width: 0.8"/>
</g>
<g id="line2d_156">
<g>
<use href="#m1504cfccaf" x="401.89" y="560.28" style="stroke: #000000; stroke-width: 0.8"/>
</g>
</g>
<g id="text_30">
<text style="font-size: 10px; font-family: 'DejaVu Sans', sans-serif; text-anchor: middle; letter-spacing: -0.07px" x="401.88" y="575.12">2012</text>
</g>
</g>
<g id="xtick_59">
<g id="line2d_157">
<path d="M 438.65 560.28
L 438.65 466.49
" clip-path="url(#paa8b746c14)" style="fill: none; stroke-dasharray: 0.8,1.32; stroke-dashoffset: -0.55; stroke: #b0b0b0; stroke-width: 0.8"/>
</g>
<g id="line2d_158">
<g>
<use href="#m1504cfccaf" x="438.65" y="560.28" style="stroke: #000000; stroke-width: 0.8"/>
</g>
</g>
<g id="text_31">
<text style="font-size: 10px; font-family: 'DejaVu Sans', sans-serif; text-anchor: middle; letter-spacing: -0.07px" x="438.65" y="575.12">2014</text>
</g>
</g>
<g id="xtick_60">
<g id="line2d_159">
<path d="M 475.37 560.28
L 475.37 466.49
" clip-path="url(#paa8b746c14)" style="fill: none; stroke-dasharray: 0.8,1.32; stroke-dashoffset: -0.55; stroke: #b0b0b0; stroke-width: 0.8"/>
</g>
<g id="line2d_160">
<g>
<use href="#m1504cfccaf" x="475.37" y="560.28" style="stroke: #000000; stroke-width: 0.8"/>
</g>
</g>
<g id="text_32">
<text style="font-size: 10px; font-family: 'DejaVu Sans', sans-serif; text-anchor: middle; letter-spacing: -0.07px" x="475.37" y="575.12">2016</text>
</g>
</g>
</g>
<g id="matplotlib.axis_10">
<g id="ytick_13">
<g id="line2d_161">
<path d="M 52.88 556.06
L 492.22 556.06
" clip-path="url(#paa8b746c14)" style="fill: none; stroke-dasharray: 0.8,1.32; stroke-dashoffset: -0.55; stroke: #b0b0b0; stroke-width: 0.8"/>
</g>
<g id="line2d_162">
<g>
<use href="#m5d545ce8f8" x="52.88" y="556.06" style="stroke: #000000; stroke-width: 0.8"/>
</g>
</g>
<g id="text_33">
<text style="font-size: 10px; font-family: 'DejaVu Sans', sans-serif; text-anchor: end; letter-spacing: -0.07px" x="46.03" y="559.86">−<tspan dx="-0.77">2</tspan></text>
</g>
</g>
<g id="ytick_14">
<g id="line2d_163">
<path d="M 52.88 513.38
L 492.22 513.38
" clip-path="url(#paa8b746c14)" style="fill: none; stroke-dasharray: 0.8,1.32; stroke-dashoffset: -0.55; stroke: #b0b0b0; stroke-width: 0.8"/>
</g>
<g id="line2d_164">
<g>
<use href="#m5d545ce8f8" x="52.88" y="513.38" style="stroke: #000000; stroke-width: 0.8"/>
</g>
</g>
<g id="text_34">
<text style="font-size: 10px; font-family: 'DejaVu Sans', sans-serif; text-anchor: end; letter-spacing: -0.07px" x="46.41" y="517.18">0</text>
</g>
</g>
<g id="ytick_15">
<g id="line2d_165">
<path d="M 52.88 470.71
L 492.22 470.71
" clip-path="url(#paa8b746c14)" style="fill: none; stroke-dasharray: 0.8,1.32; stroke-dashoffset: -0.55; stroke: #b0b0b0; stroke-width: 0.8"/>
</g>
<g id="line2d_166">
<g>
<use href="#m5d545ce8f8" x="52.88" y="470.71" style="stroke: #000000; stroke-width: 0.8"/>
</g>
</g>
<g id="text_35">
<text style="font-size: 10px; font-family: 'DejaVu Sans', sans-serif; text-anchor: end; letter-spacing: -0.07px" x="46.03" y="474.75">2</text>
</g>
</g>
<g id="text_36">
<text style="font-size: 10px; font-family: 'DejaVu Sans', sans-serif; text-anchor: middle; letter-spacing: -0.07px" x="25.06" y="513.96" transform="rotate(-90 25.06 513.96)">SST anomaly [°C]</text>
</g>
</g>
<g id="line2d_167">
<path d="M 52.88 507.83
L 54.44 523
L 55.85 514.6
L 57.41 531.4
L 58.92 524.17
L 60.48 504.57
L 61.99 510.87
L 63.55 509.47
L 65.11 522.07
L 66.61 511.8
L 68.17 511.57
L 69.68 518.57
L 71.24 507.37
L 72.8 487.11
L 74.21 507.6
L 75.77 508.3
L 77.28 509.23
L 78.84 526.5
L 80.35 530
L 81.9 523.7
L 83.46 518.34
L 84.97 533.74
L 86.53 516.94
L 88.04 521.37
L 91.16 513.2
L 92.57 521.37
L 94.13 526.04
L 95.64 502.7
L 98.7 530.47
L 100.26 531.17
L 101.82 538.41
L 103.33 523.7
L 104.89 523.7
L 106.4 529.07
L 107.96 507.37
L 109.52 502.47
L 110.98 506.43
L 112.53 510.17
L 114.04 505.97
L 115.6 516.7
L 117.11 529.54
L 118.67 525.1
L 120.23 509.7
L 121.74 505.97
L 123.3 512.03
L 124.81 516.24
L 126.37 522.3
L 127.93 522.3
L 129.33 517.64
L 130.89 522.77
L 133.96 500.6
L 135.47 498.97
L 137.03 518.57
L 138.59 504.1
L 140.1 500.37
L 141.66 516.7
L 143.16 542.61
L 144.72 526.04
L 146.28 512.5
L 147.69 514.83
L 149.25 517.64
L 150.76 530.47
L 153.83 492.9
L 155.39 505.03
L 156.95 523.24
L 158.45 523.24
L 160.01 517.17
L 161.52 523.7
L 163.08 495
L 164.64 495.23
L 166.05 482.86
L 167.61 489.16
L 169.12 506.9
L 170.68 489.4
L 172.19 494.3
L 173.74 516.94
L 175.3 497.33
L 176.81 492.2
L 178.37 494.76
L 179.88 493.36
L 181.44 506.43
L 183 508.3
L 184.46 508.3
L 186.02 501.77
L 187.53 502.7
L 189.08 504.1
L 190.59 491.73
L 192.15 500.83
L 193.71 504.1
L 195.22 505.97
L 196.78 501.77
L 198.29 515.3
L 199.85 519.27
L 201.41 517.17
L 202.82 502.7
L 204.37 491.03
L 205.88 498.97
L 207.44 497.01
L 208.95 500.83
L 210.51 496.17
L 212.07 493.6
L 213.58 497.57
L 215.14 495.7
L 216.65 483.94
L 218.21 496.17
L 219.76 515.07
L 221.17 501.77
L 222.73 508.3
L 224.24 501.77
L 225.8 515.77
L 227.31 512.03
L 228.87 511.57
L 230.43 511.57
L 231.94 521.37
L 233.5 515.77
L 235 513.9
L 236.56 512.97
L 238.12 524.4
L 239.53 511.8
L 241.09 519.97
L 242.6 519.5
L 244.16 507.37
L 245.67 502.23
L 247.23 498.03
L 248.79 512.03
L 250.29 515.77
L 251.85 527.9
L 253.36 521.37
L 254.92 516.7
L 256.48 526.97
L 257.94 528.84
L 259.5 538.41
L 261.01 531.64
L 262.57 527.44
L 264.08 520.9
L 267.19 526.5
L 268.7 525.1
L 270.26 526.04
L 273.33 542.84
L 274.89 504.57
L 276.3 504.1
L 277.86 514.37
L 279.37 521.6
L 280.92 514.37
L 282.43 509.47
L 283.99 512.5
L 285.55 503.17
L 287.06 507.6
L 288.62 502.7
L 290.13 491.4
L 291.69 501.77
L 293.25 516.7
L 294.65 532.57
L 296.21 516.7
L 297.72 498.73
L 299.28 506.43
L 300.79 515.07
L 302.35 514.83
L 303.91 506.9
L 305.42 509.7
L 306.98 522.3
L 308.49 523.7
L 310.05 517.17
L 311.6 518.57
L 313.01 522.77
L 314.57 518.1
L 316.08 518.1
L 317.64 526.04
L 319.15 531.64
L 320.71 515.77
L 322.27 512.97
L 323.78 521.37
L 325.34 521.14
L 326.84 516.7
L 328.4 510.17
L 331.42 512.97
L 332.98 505.03
L 334.49 516.7
L 336.05 502.93
L 337.56 498.97
L 339.12 515.77
L 340.68 514.6
L 342.18 514.37
L 343.74 521.84
L 345.25 515.77
L 346.81 521.37
L 348.37 528.37
L 349.78 521.37
L 351.34 512.97
L 354.41 516.7
L 355.91 523
L 357.47 502.7
L 359.03 509.7
L 360.54 517.17
L 362.1 522.77
L 363.61 521.37
L 365.17 517.64
L 366.73 511.8
L 368.14 519.97
L 371.2 520.9
L 372.76 525.34
L 374.27 519.04
L 375.83 508.77
L 377.39 505.97
L 378.9 516.24
L 380.46 498.5
L 381.97 498.03
L 383.53 500.13
L 385.09 517.4
L 386.49 516.47
L 388.05 524.4
L 389.56 524.64
L 391.12 517.64
L 392.63 522.3
L 394.19 523.24
L 395.75 533.5
L 397.26 519.04
L 398.82 527.67
L 400.33 505.27
L 401.89 520.44
L 403.44 516.24
L 404.9 531.17
L 406.46 512.5
L 407.97 511.57
L 411.04 530.24
L 412.6 521.37
L 414.16 513.9
L 415.67 516.7
L 417.23 531.4
L 418.73 512.03
L 420.29 506.43
L 421.85 510.17
L 423.26 502.47
L 424.82 508.3
L 426.33 512.97
L 427.89 514.6
L 429.4 502.7
L 430.96 488.93
L 432.52 495.7
L 434.02 503.63
L 435.58 489.26
L 438.65 516.24
L 440.21 523.24
L 441.62 519.04
L 443.18 510.63
L 444.69 505.5
L 446.25 502.7
L 447.75 498.03
L 449.31 504.94
L 450.87 511.1
L 452.38 513.67
L 453.94 500.6
L 455.45 498.03
L 457.01 489.26
L 458.57 502.7
L 459.98 512.97
L 461.54 513.43
L 463.04 521.37
L 464.6 532.57
L 466.11 535.84
L 467.67 521.37
L 469.23 529.77
L 470.74 519.97
L 472.3 522.3
L 473.81 501.77
L 475.37 522.3
L 476.93 502.47
L 478.38 499.2
L 479.94 494.53
L 481.45 500.6
L 483.01 512.03
L 484.52 516.7
L 486.08 524.64
L 487.64 521.84
L 489.15 505.27
L 490.71 512.03
L 492.22 514.83
L 492.22 514.83
" clip-path="url(#paa8b746c14)" style="fill: none; stroke: #008000; stroke-width: 1.5; stroke-linecap: square"/>
</g>
<g id="line2d_168">
<path d="M 166.05 482.86
L 167.61 489.16
M 175.3 497.33
L 176.81 492.2
M 212.07 493.6
L 213.58 497.57
M 216.65 483.94
L 218.21 496.17
M 430.96 488.93
L 432.52 495.7
M 447.75 498.03
L 449.31 504.94
M 453.94 500.6
L 455.45 498.03
L 457.01 489.26
M 476.93 502.47
L 478.38 499.2
L 479.94 494.53
L 481.45 500.6
M 489.15 505.27
" clip-path="url(#paa8b746c14)" style="fill: none; stroke: #ff0000; stroke-width: 1.5; stroke-linecap: square"/>
<g clip-path="url(#paa8b746c14)">
<use href="#m608ba95eef" x="72.8" y="487.11" style="fill: #ff0000; stroke: #ff0000"/>
<use href="#m608ba95eef" x="153.83" y="492.9" style="fill: #ff0000; stroke: #ff0000"/>
<use href="#m608ba95eef" x="163.08" y="495" style="fill: #ff0000; stroke: #ff0000"/>
<use href="#m608ba95eef" x="166.05" y="482.86" style="fill: #ff0000; stroke: #ff0000"/>
<use href="#m608ba95eef" x="167.61" y="489.16" style="fill: #ff0000; stroke: #ff0000"/>
<use href="#m608ba95eef" x="170.68" y="489.4" style="fill: #ff0000; stroke: #ff0000"/>
<use href="#m608ba95eef" x="175.3" y="497.33" style="fill: #ff0000; stroke: #ff0000"/>
<use href="#m608ba95eef" x="176.81" y="492.2" style="fill: #ff0000; stroke: #ff0000"/>
<use href="#m608ba95eef" x="190.59" y="491.73" style="fill: #ff0000; stroke: #ff0000"/>
<use href="#m608ba95eef" x="204.37" y="491.03" style="fill: #ff0000; stroke: #ff0000"/>
<use href="#m608ba95eef" x="207.44" y="497.01" style="fill: #ff0000; stroke: #ff0000"/>
<use href="#m608ba95eef" x="212.07" y="493.6" style="fill: #ff0000; stroke: #ff0000"/>
<use href="#m608ba95eef" x="213.58" y="497.57" style="fill: #ff0000; stroke: #ff0000"/>
<use href="#m608ba95eef" x="216.65" y="483.94" style="fill: #ff0000; stroke: #ff0000"/>
<use href="#m608ba95eef" x="218.21" y="496.17" style="fill: #ff0000; stroke: #ff0000"/>
<use href="#m608ba95eef" x="247.23" y="498.03" style="fill: #ff0000; stroke: #ff0000"/>
<use href="#m608ba95eef" x="290.13" y="491.4" style="fill: #ff0000; stroke: #ff0000"/>
<use href="#m608ba95eef" x="297.72" y="498.73" style="fill: #ff0000; stroke: #ff0000"/>
<use href="#m608ba95eef" x="336.05" y="502.93" style="fill: #ff0000; stroke: #ff0000"/>
<use href="#m608ba95eef" x="383.53" y="500.13" style="fill: #ff0000; stroke: #ff0000"/>
<use href="#m608ba95eef" x="423.26" y="502.47" style="fill: #ff0000; stroke: #ff0000"/>
<use href="#m608ba95eef" x="430.96" y="488.93" style="fill: #ff0000; stroke: #ff0000"/>
<use href="#m608ba95eef" x="432.52" y="495.7" style="fill: #ff0000; stroke: #ff0000"/>
<use href="#m608ba95eef" x="435.58" y="489.26" style="fill: #ff0000; stroke: #ff0000"/>
<use href="#m608ba95eef" x="444.69" y="505.5" style="fill: #ff0000; stroke: #ff0000"/>
<use href="#m608ba95eef" x="447.75" y="498.03" style="fill: #ff0000; stroke: #ff0000"/>
<use href="#m608ba95eef" x="449.31" y="504.94" style="fill: #ff0000; stroke: #ff0000"/>
<use href="#m608ba95eef" x="453.94" y="500.6" style="fill: #ff0000; stroke: #ff0000"/>
<use href="#m608ba95eef" x="455.45" y="498.03" style="fill: #ff0000; stroke: #ff0000"/>
<use href="#m608ba95eef" x="457.01" y="489.26" style="fill: #ff0000; stroke: #ff0000"/>
<use href="#m608ba95eef" x="476.93" y="502.47" style="fill: #ff0000; stroke: #ff0000"/>
<use href="#m608ba95eef" x="478.38" y="499.2" style="fill: #ff0000; stroke: #ff0000"/>
<use href="#m608ba95eef" x="479.94" y="494.53" style="fill: #ff0000; stroke: #ff0000"/>
<use href="#m608ba95eef" x="481.45" y="500.6" style="fill: #ff0000; stroke: #ff0000"/>
<use href="#m608ba95eef" x="489.15" y="505.27" style="fill: #ff0000; stroke: #ff0000"/>
</g>
</g>
<g id="line2d_169">
<path d="M 55.85 530.47
L 57.41 519.04
L 58.92 518.57
L 60.48 521.37
L 63.55 521.37
L 65.11 517.64
L 66.61 516.24
L 68.17 516.94
L 69.68 517.87
L 71.24 513.9
L 72.8 512.03
L 74.21 509.7
L 75.77 509.47
L 77.28 515.07
L 78.84 514.83
L 80.35 515.77
L 81.9 518.57
L 83.46 521.84
L 84.97 523.7
L 86.53 527.9
L 88.04 532.57
L 89.6 527.44
L 91.16 526.04
L 92.57 517.64
L 95.64 521.37
L 97.19 515.07
L 98.7 514.6
L 101.82 526.74
L 103.33 526.5
L 104.89 518.57
L 106.4 519.04
L 107.96 508.07
L 109.52 507.37
L 110.98 510.4
L 112.53 507.13
L 114.04 513.9
L 115.6 511.57
L 117.11 515.77
L 118.67 515.54
L 120.23 516.24
L 121.74 514.83
L 123.3 506.43
L 124.81 505.27
L 126.37 518.34
L 127.93 515.54
L 129.33 518.1
L 130.89 514.83
L 132.4 517.17
L 133.96 519.97
L 137.03 512.27
L 138.59 514.37
L 140.1 518.57
L 141.66 526.04
L 143.16 534.44
L 144.72 542.14
L 146.28 536.77
L 147.69 526.27
L 149.25 524.4
L 150.76 524.64
L 152.32 523.7
L 153.83 518.57
L 156.95 510.4
L 158.45 509.93
L 160.01 507.37
L 161.52 504.1
L 163.08 499.9
L 164.64 499.9
L 166.05 494.06
L 167.61 492.43
L 169.12 495.7
L 170.68 501.53
L 172.19 498.27
L 173.74 503.17
L 175.3 501.53
L 176.81 505.27
L 178.37 500.6
L 179.88 488.23
L 181.44 488.93
L 184.46 510.4
L 186.02 507.37
L 187.53 506.67
L 189.08 507.13
L 190.59 507.13
L 192.15 501.53
L 193.71 498.03
L 195.22 498.03
L 196.78 497.45
L 198.29 496.17
L 199.85 503.63
L 201.41 505.5
L 202.82 515.54
L 204.37 506.67
L 205.88 502.7
L 207.44 500.13
L 208.95 504.57
L 210.51 498.5
L 212.07 502
L 213.58 500.37
L 215.14 496.17
L 216.65 489.16
L 218.21 493.36
L 219.76 496.4
L 221.17 495
L 222.73 500.6
L 224.24 510.17
L 225.8 512.97
L 227.31 514.37
L 228.87 515.54
L 230.43 513.9
L 231.94 512.97
L 233.5 517.64
L 235 523.7
L 236.56 518.1
L 238.12 517.64
L 239.53 521.37
L 241.09 519.5
L 242.6 510.87
L 244.16 510.87
L 245.67 509
L 247.23 510.87
L 248.79 508.53
L 250.29 508.07
L 251.85 511.57
L 253.36 516.24
L 254.92 522.07
L 256.48 516.24
L 257.94 514.83
L 259.5 521.37
L 261.01 525.8
L 262.57 523.94
L 264.08 516.24
L 265.63 515.3
L 267.19 514.13
L 268.7 516.24
L 270.26 519.97
L 271.77 519.74
L 273.33 527.2
L 274.89 527.67
L 276.3 517.17
L 277.86 516.24
L 279.37 516.94
L 280.92 516.94
L 282.43 517.64
L 283.99 514.83
L 285.55 514.6
L 288.62 508.77
L 290.13 504.57
L 291.69 498.73
L 293.25 507.6
L 294.65 508.07
L 296.21 516.7
L 297.72 512.97
L 299.28 509.7
L 300.79 509.47
L 302.35 511.57
L 303.91 510.4
L 306.98 519.27
L 308.49 516.7
L 310.05 525.34
L 311.6 517.64
L 313.01 517.4
L 314.57 516.24
L 316.08 516.7
L 317.64 519.04
L 319.15 519.74
L 320.71 519.74
L 322.27 518.34
L 323.78 516.24
L 325.34 513.2
L 326.84 512.97
L 328.4 507.37
L 329.96 499.9
L 331.42 501.07
L 332.98 506.43
L 334.49 503.17
L 336.05 509.23
L 337.56 509.23
L 339.12 511.8
L 340.68 512.97
L 342.18 515.3
L 343.74 515.77
L 345.25 515.54
L 346.81 513.9
L 348.37 515.3
L 349.78 516.94
L 351.34 515.77
L 352.85 517.17
L 354.41 514.13
L 355.91 514.6
L 357.47 513.43
L 359.03 514.13
L 360.54 513.9
L 362.1 515.3
L 363.61 522.3
L 365.17 530.7
L 366.73 530.7
L 368.14 520.2
L 369.7 519.27
L 371.2 519.04
L 372.76 518.1
L 374.27 515.54
L 375.83 513.9
L 377.39 512.97
L 378.9 511.33
L 381.97 505.5
L 383.53 493.22
L 385.09 501.3
L 386.49 505.5
L 388.05 508.77
L 389.56 513.43
L 391.12 516.7
L 392.63 517.17
L 394.19 519.04
L 395.75 522.3
L 397.26 523.47
L 398.82 520.44
L 400.33 518.1
L 401.89 509.23
L 403.44 505.97
L 404.9 514.83
L 406.46 520.67
L 407.97 513.9
L 409.53 508.07
L 411.04 513.43
L 412.6 515.42
L 414.16 512.03
L 415.67 507.83
L 417.23 512.03
L 420.29 523
L 421.85 513.9
L 423.26 507.37
L 424.82 507.13
L 426.33 502.7
L 427.89 507.6
L 429.4 509.7
L 430.96 511.57
L 432.52 508.07
L 434.02 507.83
L 435.58 510.17
L 437.09 510.17
L 438.65 504.1
L 440.21 516.24
L 441.62 516.24
L 443.18 519.97
L 444.69 509.23
L 446.25 509.47
L 447.75 508.53
L 449.31 507.83
L 450.87 509.47
L 452.38 509.23
L 453.94 512.5
L 455.45 516.24
L 457.01 510.17
L 458.57 505.27
L 459.98 512.03
L 461.54 510.63
L 463.04 510.87
L 464.6 514.83
L 466.11 519.04
L 467.67 522.77
L 469.23 522.54
L 470.74 521.6
L 472.3 526.5
L 473.81 527.9
L 475.37 525.1
L 476.93 523.7
L 478.38 516.7
L 479.94 514.37
L 481.45 511.8
L 483.01 511.1
L 484.52 514.37
L 486.08 510.4
L 487.64 515.77
L 489.15 513.43
L 490.71 510.17
L 492.22 504.1
L 492.22 504.1
" clip-path="url(#paa8b746c14)" style="fill: none; stroke: #000000; stroke-width: 1.5; stroke-linecap: square"/>
</g>
<g id="line2d_170">
<path d="M 164.64 499.9
L 166.05 494.06
L 167.61 492.43
L 169.12 495.7
L 170.68 501.53
L 172.19 498.27
L 173.74 503.17
L 175.3 501.53
L 176.81 505.27
L 178.37 500.6
L 179.88 488.23
L 181.44 488.93
M 190.59 507.13
L 192.15 501.53
L 193.71 498.03
L 195.22 498.03
L 196.78 497.45
L 198.29 496.17
M 207.44 500.13
L 208.95 504.57
L 210.51 498.5
L 212.07 502
L 213.58 500.37
L 215.14 496.17
L 216.65 489.16
L 218.21 493.36
L 219.76 496.4
L 221.17 495
L 222.73 500.6
M 329.96 499.9
L 331.42 501.07
M 426.33 502.7
L 427.89 507.6
L 427.89 507.6
" clip-path="url(#paa8b746c14)" style="fill: none; stroke: #00ffff; stroke-width: 1.5; stroke-linecap: square"/>
<g clip-path="url(#paa8b746c14)">
<use href="#md41d3c3caa" x="164.64" y="499.9" style="fill: #00ffff; stroke: #00ffff"/>
<use href="#md41d3c3caa" x="166.05" y="494.06" style="fill: #00ffff; stroke: #00ffff"/>
<use href="#md41d3c3caa" x="167.61" y="492.43" style="fill: #00ffff; stroke: #00ffff"/>
<use href="#md41d3c3caa" x="169.12" y="495.7" style="fill: #00ffff; stroke: #00ffff"/>
<use href="#md41d3c3caa" x="170.68" y="501.53" style="fill: #00ffff; stroke: #00ffff"/>
<use href="#md41d3c3caa" x="172.19" y="498.27" style="fill: #00ffff; stroke: #00ffff"/>
<use href="#md41d3c3caa" x="173.74" y="503.17" style="fill: #00ffff; stroke: #00ffff"/>
<use href="#md41d3c3caa" x="175.3" y="501.53" style="fill: #00ffff; stroke: #00ffff"/>
<use href="#md41d3c3caa" x="176.81" y="505.27" style="fill: #00ffff; stroke: #00ffff"/>
<use href="#md41d3c3caa" x="178.37" y="500.6" style="fill: #00ffff; stroke: #00ffff"/>
<use href="#md41d3c3caa" x="179.88" y="488.23" style="fill: #00ffff; stroke: #00ffff"/>
<use href="#md41d3c3caa" x="181.44" y="488.93" style="fill: #00ffff; stroke: #00ffff"/>
<use href="#md41d3c3caa" x="190.59" y="507.13" style="fill: #00ffff; stroke: #00ffff"/>
<use href="#md41d3c3caa" x="192.15" y="501.53" style="fill: #00ffff; stroke: #00ffff"/>
<use href="#md41d3c3caa" x="193.71" y="498.03" style="fill: #00ffff; stroke: #00ffff"/>
<use href="#md41d3c3caa" x="195.22" y="498.03" style="fill: #00ffff; stroke: #00ffff"/>
<use href="#md41d3c3caa" x="196.78" y="497.45" style="fill: #00ffff; stroke: #00ffff"/>
<use href="#md41d3c3caa" x="198.29" y="496.17" style="fill: #00ffff; stroke: #00ffff"/>
<use href="#md41d3c3caa" x="204.37" y="506.67" style="fill: #00ffff; stroke: #00ffff"/>
<use href="#md41d3c3caa" x="207.44" y="500.13" style="fill: #00ffff; stroke: #00ffff"/>
<use href="#md41d3c3caa" x="208.95" y="504.57" style="fill: #00ffff; stroke: #00ffff"/>
<use href="#md41d3c3caa" x="210.51" y="498.5" style="fill: #00ffff; stroke: #00ffff"/>
<use href="#md41d3c3caa" x="212.07" y="502" style="fill: #00ffff; stroke: #00ffff"/>
<use href="#md41d3c3caa" x="213.58" y="500.37" style="fill: #00ffff; stroke: #00ffff"/>
<use href="#md41d3c3caa" x="215.14" y="496.17" style="fill: #00ffff; stroke: #00ffff"/>
<use href="#md41d3c3caa" x="216.65" y="489.16" style="fill: #00ffff; stroke: #00ffff"/>
<use href="#md41d3c3caa" x="218.21" y="493.36" style="fill: #00ffff; stroke: #00ffff"/>
<use href="#md41d3c3caa" x="219.76" y="496.4" style="fill: #00ffff; stroke: #00ffff"/>
<use href="#md41d3c3caa" x="221.17" y="495" style="fill: #00ffff; stroke: #00ffff"/>
<use href="#md41d3c3caa" x="222.73" y="500.6" style="fill: #00ffff; stroke: #00ffff"/>
<use href="#md41d3c3caa" x="329.96" y="499.9" style="fill: #00ffff; stroke: #00ffff"/>
<use href="#md41d3c3caa" x="331.42" y="501.07" style="fill: #00ffff; stroke: #00ffff"/>
<use href="#md41d3c3caa" x="334.49" y="503.17" style="fill: #00ffff; stroke: #00ffff"/>
<use href="#md41d3c3caa" x="383.53" y="493.22" style="fill: #00ffff; stroke: #00ffff"/>
<use href="#md41d3c3caa" x="426.33" y="502.7" style="fill: #00ffff; stroke: #00ffff"/>
<use href="#md41d3c3caa" x="427.89" y="507.6" style="fill: #00ffff; stroke: #00ffff"/>
</g>
</g>
<g id="patch_23">
<path d="M 52.88 560.28
L 52.88 466.49
" style="fill: none; stroke: #000000; stroke-width: 0.8; stroke-linejoin: miter; stroke-linecap: square"/>
</g>
<g id="patch_24">
<path d="M 492.22 560.28
L 492.22 466.49
" style="fill: none; stroke: #000000; stroke-width: 0.8; stroke-linejoin: miter; stroke-linecap: square"/>
</g>
<g id="patch_25">
<path d="M 52.88 560.28
L 492.22 560.28
" style="fill: none; stroke: #000000; stroke-width: 0.8; stroke-linejoin: miter; stroke-linecap: square"/>
</g>
<g id="patch_26">
<path d="M 52.88 466.49
L 492.22 466.49
" style="fill: none; stroke: #000000; stroke-width: 0.8; stroke-linejoin: miter; stroke-linecap: square"/>
</g>
<g id="text_37">
<text style="font-size: 10px; font-family: 'DejaVu Sans', sans-serif; text-anchor: middle; letter-spacing: -0.07px" x="272.55" y="460.68">Foveaux Strait (ACC = 0.52, SEDI = 0.52, TP = 15, FP = 21, TN = 228, FN = 21)</text>
</g>
</g>
</g>
<defs>
<clipPath id="p270c9c0579">
<rect x="52.88" y="14.86" width="439.33" height="94.21"/>
</clipPath>
<clipPath id="p856a4b47ae">
<rect x="52.88" y="127.84" width="439.33" height="93.85"/>
</clipPath>
<clipPath id="pb86285e883">
<rect x="52.88" y="240.5" width="439.33" height="94.14"/>
</clipPath>
<clipPath id="p6b84881da8">
<rect x="52.88" y="353.44" width="439.33" height="93.85"/>
</clipPath>
<clipPath id="paa8b746c14">
<rect x="52.88" y="466.49" width="439.33" height="93.79"/>
</clipPath>
</defs>
<g id="legend" transform="scale(0.24)">
<path d="M 19.03 2414.8 L 2113.87 2414.8 Q 2122.2 2414.8 2122.2 2423.13 L 2122.2 2480.37 Q 2122.2 2488.7 2113.87 2488.7 L 19.03 2488.7 Q 10.7 2488.7 10.7 2480.37 L 10.7 2423.13 Q 10.7 2414.8 19.03 2414.8 z" style="fill:#ffffff;opacity:0.8;stroke:#cccccc;stroke-width:4.17"/>
<path d="M 25.4 2448.1 L 108.73 2448.1" style="fill:none;stroke:#008000;stroke-width:6.25;stroke-linecap:square"/>
<path d="M 344.3 2448.1 L 427.63 2448.1" style="fill:none;stroke:#ff0000;stroke-width:6.25;stroke-linecap:square"/>
<circle cx="385.97" cy="2448.1" r="10.42" style="fill:#ff0000;stroke:#ff0000;stroke-width:0"/>
<rect x="647.5" y="2433.52" width="83.33" height="29.17" style="fill:#808080;stroke:#808080;stroke-width:4.17;stroke-linejoin:miter"/>
<path d="M 1221.3 2448.1 L 1304.63 2448.1" style="fill:none;stroke:#000000;stroke-width:6.25;stroke-linecap:square"/>
<path d="M 1644.7 2448.1 L 1728.03 2448.1" style="fill:none;stroke:#00ffff;stroke-width:6.25;stroke-linecap:square"/>
<circle cx="1686.37" cy="2448.1" r="8.33" style="fill:#00ffff;stroke:#00ffff;stroke-width:0"/>
<text style="font-size:41.67px;font-family: 'DejaVu Sans', sans-serif;letter-spacing:-0.15px" x="138.20" y="2463.2">OISST</text>
<text style="font-size:41.67px;font-family: 'DejaVu Sans', sans-serif;letter-spacing:-0.15px" x="457.10" y="2463.2">MHW</text>
<text style="font-size:41.67px;font-family: 'DejaVu Sans', sans-serif;letter-spacing:-0.15px" x="760.30" y="2463.2">MME mean ±1 std</text>
<text style="font-size:41.67px;font-family: 'DejaVu Sans', sans-serif;letter-spacing:-0.15px" x="1334.10" y="2463.2">MME mean</text>
<text style="font-size:41.67px;font-family: 'DejaVu Sans', sans-serif;letter-spacing:-0.15px" x="1757.50" y="2463.2">MME mean MHW</text>
</g>
</svg>

</body></html>
